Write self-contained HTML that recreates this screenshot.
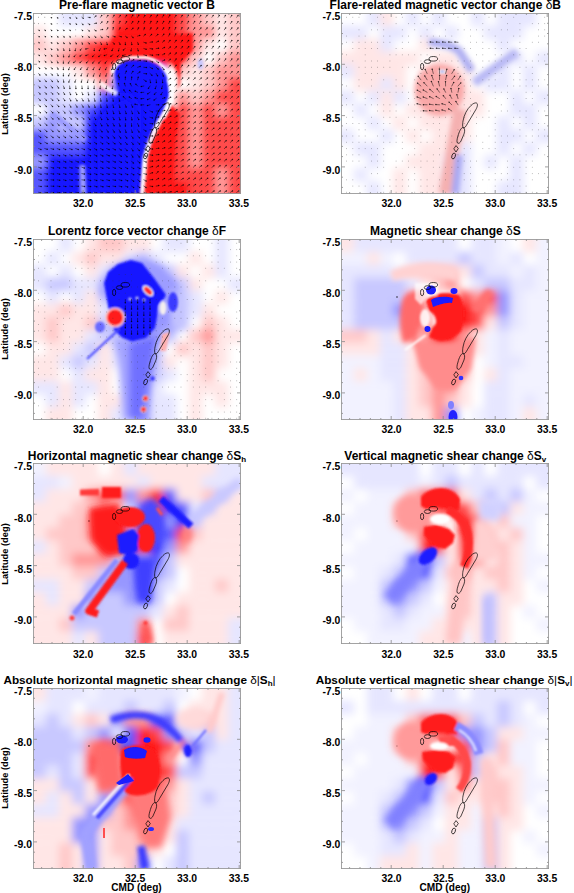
<!DOCTYPE html>
<html><head><meta charset="utf-8"><style>
*{margin:0;padding:0;box-sizing:border-box}
html,body{width:574px;height:893px;background:#fff;overflow:hidden}
body{position:relative;font-family:"Liberation Sans",sans-serif;font-weight:bold;color:#000}
.plot{position:absolute;width:208px;height:181px;overflow:hidden;background:#fff}
.plot svg{position:absolute;left:0;top:0;display:block}
.title{position:absolute;width:400px;text-align:center;font-size:12px;line-height:12px;white-space:nowrap}
.title .dl{font-style:normal;font-weight:normal}
.title sub{font-size:8px;vertical-align:-2px;line-height:0}
.yl{position:absolute;width:40px;text-align:right;font-size:10.4px;line-height:12px}
.xl{position:absolute;width:40px;text-align:center;font-size:10.4px;line-height:12px}
.lat{position:absolute;width:80px;text-align:center;font-size:9.3px;line-height:12px;transform:rotate(-90deg);white-space:nowrap}
.cmd{position:absolute;width:100px;text-align:center;font-size:10.1px;line-height:12px}
</style></head>
<body>
<div class="plot" style="left:33.0px;top:13.0px">
<svg width="208.0" height="181.0" viewBox="0 0 208.0 181.0"><filter id="bl00" x="-30%" y="-30%" width="160%" height="160%"><feGaussianBlur stdDeviation="3.8"/></filter><g filter="url(#bl00)"><rect x="26.00" y="-20.00" width="13.30" height="33.23" fill="#e6e6ff"/><rect x="39.00" y="-20.00" width="13.30" height="33.23" fill="#e6e6ff"/><rect x="52.00" y="-20.00" width="13.30" height="33.23" fill="#e6e6ff"/><rect x="65.00" y="-20.00" width="13.30" height="33.23" fill="#ffc8c8"/><rect x="78.00" y="-20.00" width="13.30" height="33.23" fill="#ff4848"/><rect x="91.00" y="-20.00" width="13.30" height="33.23" fill="#ff1919"/><rect x="104.00" y="-20.00" width="13.30" height="33.23" fill="#ff1919"/><rect x="117.00" y="-20.00" width="13.30" height="33.23" fill="#ff1919"/><rect x="130.00" y="-20.00" width="13.30" height="33.23" fill="#ff1919"/><rect x="143.00" y="-20.00" width="13.30" height="33.23" fill="#ff4848"/><rect x="156.00" y="-20.00" width="13.30" height="33.23" fill="#ff9696"/><rect x="169.00" y="-20.00" width="13.30" height="33.23" fill="#ffc8c8"/><rect x="182.00" y="-20.00" width="13.30" height="33.23" fill="#ffe6e6"/><rect x="195.00" y="-20.00" width="33.30" height="33.23" fill="#ffc8c8"/><rect x="-20.00" y="12.93" width="33.30" height="13.23" fill="#ffe6e6"/><rect x="52.00" y="12.93" width="13.30" height="13.23" fill="#ffe6e6"/><rect x="65.00" y="12.93" width="13.30" height="13.23" fill="#ffc8c8"/><rect x="78.00" y="12.93" width="13.30" height="13.23" fill="#ff1919"/><rect x="91.00" y="12.93" width="13.30" height="13.23" fill="#ff1919"/><rect x="104.00" y="12.93" width="13.30" height="13.23" fill="#ff1919"/><rect x="117.00" y="12.93" width="13.30" height="13.23" fill="#ff1919"/><rect x="130.00" y="12.93" width="13.30" height="13.23" fill="#ff1919"/><rect x="143.00" y="12.93" width="13.30" height="13.23" fill="#ff4848"/><rect x="156.00" y="12.93" width="13.30" height="13.23" fill="#ff9696"/><rect x="169.00" y="12.93" width="13.30" height="13.23" fill="#ff9696"/><rect x="182.00" y="12.93" width="13.30" height="13.23" fill="#ffe6e6"/><rect x="195.00" y="12.93" width="33.30" height="13.23" fill="#ffc8c8"/><rect x="-20.00" y="25.86" width="33.30" height="13.23" fill="#ffc8c8"/><rect x="13.00" y="25.86" width="13.30" height="13.23" fill="#ffe6e6"/><rect x="26.00" y="25.86" width="13.30" height="13.23" fill="#ffc8c8"/><rect x="39.00" y="25.86" width="13.30" height="13.23" fill="#ff9696"/><rect x="52.00" y="25.86" width="13.30" height="13.23" fill="#ff4848"/><rect x="65.00" y="25.86" width="13.30" height="13.23" fill="#ff1919"/><rect x="78.00" y="25.86" width="13.30" height="13.23" fill="#ff1919"/><rect x="91.00" y="25.86" width="13.30" height="13.23" fill="#ff1919"/><rect x="104.00" y="25.86" width="13.30" height="13.23" fill="#ff1919"/><rect x="117.00" y="25.86" width="13.30" height="13.23" fill="#ff1919"/><rect x="130.00" y="25.86" width="13.30" height="13.23" fill="#ff1919"/><rect x="143.00" y="25.86" width="13.30" height="13.23" fill="#ff4848"/><rect x="156.00" y="25.86" width="13.30" height="13.23" fill="#ff9696"/><rect x="169.00" y="25.86" width="13.30" height="13.23" fill="#ffe6e6"/><rect x="195.00" y="25.86" width="33.30" height="13.23" fill="#ffc8c8"/><rect x="-20.00" y="38.79" width="33.30" height="13.23" fill="#ffe6e6"/><rect x="13.00" y="38.79" width="13.30" height="13.23" fill="#ffc8c8"/><rect x="26.00" y="38.79" width="13.30" height="13.23" fill="#ff9696"/><rect x="39.00" y="38.79" width="13.30" height="13.23" fill="#ff4848"/><rect x="52.00" y="38.79" width="13.30" height="13.23" fill="#ff1919"/><rect x="65.00" y="38.79" width="13.30" height="13.23" fill="#ff1919"/><rect x="78.00" y="38.79" width="13.30" height="13.23" fill="#ff1919"/><rect x="91.00" y="38.79" width="13.30" height="13.23" fill="#ff1919"/><rect x="104.00" y="38.79" width="13.30" height="13.23" fill="#ff1919"/><rect x="117.00" y="38.79" width="13.30" height="13.23" fill="#ff1919"/><rect x="130.00" y="38.79" width="13.30" height="13.23" fill="#ff1919"/><rect x="143.00" y="38.79" width="13.30" height="13.23" fill="#ff4848"/><rect x="156.00" y="38.79" width="13.30" height="13.23" fill="#ffc8c8"/><rect x="182.00" y="38.79" width="13.30" height="13.23" fill="#ffc8c8"/><rect x="195.00" y="38.79" width="33.30" height="13.23" fill="#ff9696"/><rect x="39.00" y="51.71" width="13.30" height="13.23" fill="#ffe6e6"/><rect x="52.00" y="51.71" width="13.30" height="13.23" fill="#ff9696"/><rect x="65.00" y="51.71" width="13.30" height="13.23" fill="#ff4848"/><rect x="91.00" y="51.71" width="13.30" height="13.23" fill="#1919ff"/><rect x="104.00" y="51.71" width="13.30" height="13.23" fill="#1919ff"/><rect x="117.00" y="51.71" width="13.30" height="13.23" fill="#1919ff"/><rect x="143.00" y="51.71" width="13.30" height="13.23" fill="#ffc8c8"/><rect x="156.00" y="51.71" width="13.30" height="13.23" fill="#ffe6e6"/><rect x="169.00" y="51.71" width="13.30" height="13.23" fill="#ffc8c8"/><rect x="182.00" y="51.71" width="13.30" height="13.23" fill="#ff9696"/><rect x="195.00" y="51.71" width="33.30" height="13.23" fill="#ff9696"/><rect x="-20.00" y="64.64" width="33.30" height="13.23" fill="#c8c8ff"/><rect x="13.00" y="64.64" width="13.30" height="13.23" fill="#c8c8ff"/><rect x="26.00" y="64.64" width="13.30" height="13.23" fill="#e6e6ff"/><rect x="65.00" y="64.64" width="13.30" height="13.23" fill="#ff9696"/><rect x="78.00" y="64.64" width="13.30" height="13.23" fill="#9696ff"/><rect x="91.00" y="64.64" width="13.30" height="13.23" fill="#1919ff"/><rect x="104.00" y="64.64" width="13.30" height="13.23" fill="#1919ff"/><rect x="117.00" y="64.64" width="13.30" height="13.23" fill="#1919ff"/><rect x="156.00" y="64.64" width="13.30" height="13.23" fill="#ffe6e6"/><rect x="169.00" y="64.64" width="13.30" height="13.23" fill="#ffc8c8"/><rect x="182.00" y="64.64" width="13.30" height="13.23" fill="#ff9696"/><rect x="195.00" y="64.64" width="33.30" height="13.23" fill="#ff4848"/><rect x="-20.00" y="77.57" width="33.30" height="13.23" fill="#c8c8ff"/><rect x="13.00" y="77.57" width="13.30" height="13.23" fill="#c8c8ff"/><rect x="26.00" y="77.57" width="13.30" height="13.23" fill="#e6e6ff"/><rect x="52.00" y="77.57" width="13.30" height="13.23" fill="#e6e6ff"/><rect x="65.00" y="77.57" width="13.30" height="13.23" fill="#5555ff"/><rect x="78.00" y="77.57" width="13.30" height="13.23" fill="#1919ff"/><rect x="91.00" y="77.57" width="13.30" height="13.23" fill="#1919ff"/><rect x="104.00" y="77.57" width="13.30" height="13.23" fill="#1919ff"/><rect x="117.00" y="77.57" width="13.30" height="13.23" fill="#1919ff"/><rect x="143.00" y="77.57" width="13.30" height="13.23" fill="#ff9696"/><rect x="156.00" y="77.57" width="13.30" height="13.23" fill="#ffc8c8"/><rect x="169.00" y="77.57" width="13.30" height="13.23" fill="#ff9696"/><rect x="182.00" y="77.57" width="13.30" height="13.23" fill="#ff4848"/><rect x="195.00" y="77.57" width="33.30" height="13.23" fill="#ff4848"/><rect x="13.00" y="90.50" width="13.30" height="13.23" fill="#c8c8ff"/><rect x="26.00" y="90.50" width="13.30" height="13.23" fill="#c8c8ff"/><rect x="39.00" y="90.50" width="13.30" height="13.23" fill="#9696ff"/><rect x="52.00" y="90.50" width="13.30" height="13.23" fill="#5555ff"/><rect x="65.00" y="90.50" width="13.30" height="13.23" fill="#1919ff"/><rect x="78.00" y="90.50" width="13.30" height="13.23" fill="#1919ff"/><rect x="91.00" y="90.50" width="13.30" height="13.23" fill="#1919ff"/><rect x="104.00" y="90.50" width="13.30" height="13.23" fill="#1919ff"/><rect x="117.00" y="90.50" width="13.30" height="13.23" fill="#1919ff"/><rect x="143.00" y="90.50" width="13.30" height="13.23" fill="#ff4848"/><rect x="156.00" y="90.50" width="13.30" height="13.23" fill="#ff9696"/><rect x="169.00" y="90.50" width="13.30" height="13.23" fill="#ff4848"/><rect x="182.00" y="90.50" width="13.30" height="13.23" fill="#ff9696"/><rect x="195.00" y="90.50" width="33.30" height="13.23" fill="#ff4848"/><rect x="-20.00" y="103.43" width="33.30" height="13.23" fill="#c8c8ff"/><rect x="13.00" y="103.43" width="13.30" height="13.23" fill="#9696ff"/><rect x="26.00" y="103.43" width="13.30" height="13.23" fill="#c8c8ff"/><rect x="39.00" y="103.43" width="13.30" height="13.23" fill="#c8c8ff"/><rect x="52.00" y="103.43" width="13.30" height="13.23" fill="#1919ff"/><rect x="65.00" y="103.43" width="13.30" height="13.23" fill="#1919ff"/><rect x="78.00" y="103.43" width="13.30" height="13.23" fill="#1919ff"/><rect x="91.00" y="103.43" width="13.30" height="13.23" fill="#1919ff"/><rect x="104.00" y="103.43" width="13.30" height="13.23" fill="#1919ff"/><rect x="130.00" y="103.43" width="13.30" height="13.23" fill="#ff1919"/><rect x="143.00" y="103.43" width="13.30" height="13.23" fill="#ff4848"/><rect x="156.00" y="103.43" width="13.30" height="13.23" fill="#ff9696"/><rect x="169.00" y="103.43" width="13.30" height="13.23" fill="#ff4848"/><rect x="182.00" y="103.43" width="13.30" height="13.23" fill="#ff4848"/><rect x="195.00" y="103.43" width="33.30" height="13.23" fill="#ff4848"/><rect x="-20.00" y="116.36" width="33.30" height="13.23" fill="#5555ff"/><rect x="13.00" y="116.36" width="13.30" height="13.23" fill="#9696ff"/><rect x="26.00" y="116.36" width="13.30" height="13.23" fill="#9696ff"/><rect x="39.00" y="116.36" width="13.30" height="13.23" fill="#9696ff"/><rect x="52.00" y="116.36" width="13.30" height="13.23" fill="#1919ff"/><rect x="65.00" y="116.36" width="13.30" height="13.23" fill="#1919ff"/><rect x="78.00" y="116.36" width="13.30" height="13.23" fill="#1919ff"/><rect x="91.00" y="116.36" width="13.30" height="13.23" fill="#1919ff"/><rect x="104.00" y="116.36" width="13.30" height="13.23" fill="#1919ff"/><rect x="117.00" y="116.36" width="13.30" height="13.23" fill="#ff9696"/><rect x="130.00" y="116.36" width="13.30" height="13.23" fill="#ff1919"/><rect x="143.00" y="116.36" width="13.30" height="13.23" fill="#ff4848"/><rect x="156.00" y="116.36" width="13.30" height="13.23" fill="#ff9696"/><rect x="169.00" y="116.36" width="13.30" height="13.23" fill="#ff4848"/><rect x="182.00" y="116.36" width="13.30" height="13.23" fill="#ff4848"/><rect x="195.00" y="116.36" width="33.30" height="13.23" fill="#ff4848"/><rect x="-20.00" y="129.29" width="33.30" height="13.23" fill="#5555ff"/><rect x="13.00" y="129.29" width="13.30" height="13.23" fill="#5555ff"/><rect x="26.00" y="129.29" width="13.30" height="13.23" fill="#5555ff"/><rect x="39.00" y="129.29" width="13.30" height="13.23" fill="#5555ff"/><rect x="52.00" y="129.29" width="13.30" height="13.23" fill="#1919ff"/><rect x="65.00" y="129.29" width="13.30" height="13.23" fill="#1919ff"/><rect x="78.00" y="129.29" width="13.30" height="13.23" fill="#1919ff"/><rect x="91.00" y="129.29" width="13.30" height="13.23" fill="#1919ff"/><rect x="104.00" y="129.29" width="13.30" height="13.23" fill="#c8c8ff"/><rect x="117.00" y="129.29" width="13.30" height="13.23" fill="#ff1919"/><rect x="130.00" y="129.29" width="13.30" height="13.23" fill="#ff1919"/><rect x="143.00" y="129.29" width="13.30" height="13.23" fill="#ff4848"/><rect x="156.00" y="129.29" width="13.30" height="13.23" fill="#ff9696"/><rect x="169.00" y="129.29" width="13.30" height="13.23" fill="#ff4848"/><rect x="182.00" y="129.29" width="13.30" height="13.23" fill="#ff4848"/><rect x="195.00" y="129.29" width="33.30" height="13.23" fill="#ff4848"/><rect x="-20.00" y="142.21" width="33.30" height="13.23" fill="#9696ff"/><rect x="13.00" y="142.21" width="13.30" height="13.23" fill="#1919ff"/><rect x="26.00" y="142.21" width="13.30" height="13.23" fill="#1919ff"/><rect x="39.00" y="142.21" width="13.30" height="13.23" fill="#1919ff"/><rect x="52.00" y="142.21" width="13.30" height="13.23" fill="#1919ff"/><rect x="65.00" y="142.21" width="13.30" height="13.23" fill="#1919ff"/><rect x="78.00" y="142.21" width="13.30" height="13.23" fill="#1919ff"/><rect x="91.00" y="142.21" width="13.30" height="13.23" fill="#1919ff"/><rect x="117.00" y="142.21" width="13.30" height="13.23" fill="#ff1919"/><rect x="130.00" y="142.21" width="13.30" height="13.23" fill="#ff1919"/><rect x="143.00" y="142.21" width="13.30" height="13.23" fill="#ff4848"/><rect x="156.00" y="142.21" width="13.30" height="13.23" fill="#ff9696"/><rect x="169.00" y="142.21" width="13.30" height="13.23" fill="#ff4848"/><rect x="182.00" y="142.21" width="13.30" height="13.23" fill="#ff4848"/><rect x="195.00" y="142.21" width="33.30" height="13.23" fill="#ff4848"/><rect x="-20.00" y="155.14" width="33.30" height="13.23" fill="#5555ff"/><rect x="13.00" y="155.14" width="13.30" height="13.23" fill="#1919ff"/><rect x="26.00" y="155.14" width="13.30" height="13.23" fill="#1919ff"/><rect x="39.00" y="155.14" width="13.30" height="13.23" fill="#1919ff"/><rect x="52.00" y="155.14" width="13.30" height="13.23" fill="#1919ff"/><rect x="65.00" y="155.14" width="13.30" height="13.23" fill="#1919ff"/><rect x="78.00" y="155.14" width="13.30" height="13.23" fill="#1919ff"/><rect x="91.00" y="155.14" width="13.30" height="13.23" fill="#1919ff"/><rect x="104.00" y="155.14" width="13.30" height="13.23" fill="#ffc8c8"/><rect x="117.00" y="155.14" width="13.30" height="13.23" fill="#ff1919"/><rect x="130.00" y="155.14" width="13.30" height="13.23" fill="#ff1919"/><rect x="143.00" y="155.14" width="13.30" height="13.23" fill="#ff4848"/><rect x="156.00" y="155.14" width="13.30" height="13.23" fill="#ff4848"/><rect x="169.00" y="155.14" width="13.30" height="13.23" fill="#ff4848"/><rect x="182.00" y="155.14" width="13.30" height="13.23" fill="#ff9696"/><rect x="195.00" y="155.14" width="33.30" height="13.23" fill="#ff4848"/><rect x="-20.00" y="168.07" width="33.30" height="33.23" fill="#5555ff"/><rect x="13.00" y="168.07" width="13.30" height="33.23" fill="#1919ff"/><rect x="26.00" y="168.07" width="13.30" height="33.23" fill="#1919ff"/><rect x="39.00" y="168.07" width="13.30" height="33.23" fill="#1919ff"/><rect x="52.00" y="168.07" width="13.30" height="33.23" fill="#1919ff"/><rect x="65.00" y="168.07" width="13.30" height="33.23" fill="#1919ff"/><rect x="78.00" y="168.07" width="13.30" height="33.23" fill="#1919ff"/><rect x="91.00" y="168.07" width="13.30" height="33.23" fill="#1919ff"/><rect x="104.00" y="168.07" width="13.30" height="33.23" fill="#ff9696"/><rect x="117.00" y="168.07" width="13.30" height="33.23" fill="#ff1919"/><rect x="130.00" y="168.07" width="13.30" height="33.23" fill="#ff1919"/><rect x="143.00" y="168.07" width="13.30" height="33.23" fill="#ff1919"/><rect x="156.00" y="168.07" width="13.30" height="33.23" fill="#ff4848"/><rect x="169.00" y="168.07" width="13.30" height="33.23" fill="#ff4848"/><rect x="182.00" y="168.07" width="13.30" height="33.23" fill="#ff9696"/><rect x="195.00" y="168.07" width="33.30" height="33.23" fill="#ff4848"/></g><filter id="o00a" x="-50%" y="-50%" width="200%" height="200%"><feGaussianBlur stdDeviation="1.6"/></filter><filter id="o00b" x="-50%" y="-50%" width="200%" height="200%"><feGaussianBlur stdDeviation="1.0"/></filter><filter id="o00c" x="-50%" y="-50%" width="200%" height="200%"><feGaussianBlur stdDeviation="6"/></filter><g filter="url(#o00a)"><path d="M137.5,91 L131.5,104 L125,116 L120,127 L117,136 L114.5,145 L111.5,181 L138,181 L142,130 L147,100 Z" fill="#ff1919"/><path d="M72,44 C85,36 100,33 114,34 C127,36 137,44 142,55 C146,63 146,70 144,76 L147,72 L148,50 L160,38 L160,20 L80,24 Z" fill="#ff1919"/><ellipse cx="167.5" cy="51" rx="3" ry="5.5" fill="#c4c4ff"/><path d="M81,57 C84,50 92,47 100,47 L113,47 C121,49 128,54 133,62 C136,68 137,76 137,84 L133.5,90 L127,103 L120.5,115 L115.5,126 L112.5,135 L110,144 L107,181 L92,181 L95,110 L86,84 C84,72 81,64 81,57 Z" fill="#1919ff"/></g><g filter="url(#o00c)"><path d="M95,80 L70,95 L60,110 L62,181 L100,181 L105,95 Z" fill="#1919ff"/></g><g filter="url(#o00a)"><path d="M46.5,152 L52,152 L53.5,181 L47,181 Z" fill="#9c9cff"/><path d="M18,100 L52,127" stroke="#9a9aff" stroke-width="6"/></g><g filter="url(#o00b)"><path d="M79,60 C82,49 91,44.5 100,44.5 L113,44.5 C122,46 130,52 135,60 C138.5,67 139,77 138,85 L135,92 L129,104 L122.5,116 L117.5,127 L114.5,136 L112,145 L109,181" stroke="#fff" stroke-width="3.2" fill="none"/><path d="M136,66 C139,75 139,85 136,93 L130,105" stroke="#fff" stroke-width="4.5" fill="none"/><path d="M67,70 C72,74 78,78 84,81" stroke="#fff" stroke-width="5" fill="none" opacity="0.8"/></g><g stroke="#000" stroke-width="0.7" fill="none"><path d="M135.5,90 C137.5,91 136,95 134,98 L128,108 C126,111 125,114 123,115 C121.5,115 121.3,112 122,108 C123,102 126,96 130,92.5 C132,90.5 134,89.5 135.5,90 Z"/><path d="M122,114.5 C124,115 124,118 123,121 L120,128 C119,130 117.5,131 116.5,130 C115.5,129 116,126 117,123 C118,119 120,114.5 122,114.5 Z"/><path d="M115,132.6 L117.3,135.5 L115,139 L112.8,135.8 Z"/><ellipse cx="112.6" cy="143" rx="1.7" ry="3" transform="rotate(20 112.6 143)"/><ellipse cx="92.3" cy="45.8" rx="4.3" ry="2.3"/><ellipse cx="86.5" cy="48.6" rx="3.2" ry="1.9"/><ellipse cx="81.1" cy="53.5" rx="1.6" ry="3.3"/></g><path d="M18.0 4.3L18.5 4.8M24.2 4.3L24.7 4.9M36.6 4.3L37.2 5.0M42.7 4.3L43.7 5.2M48.9 4.3L50.2 5.2M55.1 4.3L56.9 4.6M61.3 4.3L62.9 3.1M67.5 4.3L68.7 2.4M73.7 4.3L74.9 2.4M79.9 4.3L81.0 2.5M86.1 4.3L87.3 2.5M92.3 4.3L93.5 2.4M98.5 4.3L99.7 2.2M104.6 4.3L105.8 2.3M110.8 4.3L111.9 2.4M117.0 4.3L118.2 2.4M123.2 4.3L124.4 2.3M129.4 4.3L130.6 2.2M135.6 4.3L136.8 2.3M141.8 4.3L143.0 2.4M148.0 4.3L149.2 2.4M154.2 4.3L155.3 2.3M160.3 4.3L161.5 2.3M166.5 4.3L167.7 2.4M172.7 4.3L174.0 2.4M178.9 4.3L180.2 2.4M185.1 4.3L186.3 2.4M191.3 4.3L192.4 2.4M197.5 4.3L198.7 2.4M203.7 4.3L205.0 2.5M18.0 10.6L18.5 11.1M36.6 10.6L37.1 11.1M42.7 10.6L43.5 11.3M48.9 10.6L49.9 11.5M55.1 10.6L56.6 11.4M61.3 10.6L63.2 10.2M67.5 10.6L68.9 9.0M73.7 10.6L74.7 8.7M79.9 10.6L80.5 8.6M86.1 10.6L87.0 8.6M92.3 10.6L93.5 8.8M98.5 10.6L99.7 8.7M104.6 10.6L105.6 8.6M110.8 10.6L111.6 8.6M117.0 10.6L118.0 8.6M123.2 10.6L124.4 8.6M129.4 10.6L130.6 8.6M135.6 10.6L136.7 8.6M141.8 10.6L142.8 8.5M148.0 10.6L149.1 8.6M154.2 10.6L155.4 8.6M160.3 10.6L161.6 8.6M166.5 10.6L167.8 8.6M172.7 10.6L174.0 8.7M178.9 10.6L180.2 8.7M185.1 10.6L186.3 8.7M191.3 10.6L192.5 8.7M197.5 10.6L198.7 8.7M203.7 10.6L205.0 8.7M5.6 16.8L6.2 17.4M11.8 16.8L12.3 17.4M18.0 16.8L18.6 17.5M24.2 16.8L24.8 17.5M30.4 16.8L30.9 17.4M36.6 16.8L37.2 17.5M48.9 16.8L49.5 17.4M55.1 16.8L56.2 17.9M61.3 16.8L62.9 17.7M67.5 16.8L69.5 16.5M73.7 16.8L74.7 15.0M79.9 16.8L80.3 14.8M86.1 16.8L87.0 14.9M92.3 16.8L93.9 15.4M98.5 16.8L99.9 15.2M104.6 16.8L105.5 14.9M110.8 16.8L111.4 14.9M117.0 16.8L118.0 14.9M123.2 16.8L124.5 15.0M129.4 16.8L130.6 14.9M135.6 16.8L136.5 14.8M141.8 16.8L142.6 14.7M148.0 16.8L149.0 14.8M154.2 16.8L155.4 14.9M160.3 16.8L161.6 14.9M166.5 16.8L167.9 14.9M172.7 16.8L174.1 14.9M178.9 16.8L180.2 14.9M185.1 16.8L186.4 14.9M191.3 16.8L192.6 14.9M197.5 16.8L198.8 14.9M203.7 16.8L205.0 15.0M5.6 23.1L6.2 23.7M11.8 23.1L12.4 23.7M18.0 23.1L18.7 23.8M24.2 23.1L24.9 24.0M30.4 23.1L31.1 24.0M36.6 23.1L37.2 24.0M48.9 23.1L49.6 23.8M55.1 23.1L56.2 24.3M61.3 23.1L62.7 24.3M67.5 23.1L69.0 24.4M73.7 23.1L75.5 24.0M79.9 23.1L81.9 23.7M86.1 23.1L88.1 23.7M92.3 23.1L94.0 24.4M98.5 23.1L100.0 24.5M104.6 23.1L106.7 22.4M110.8 23.1L112.2 21.4M117.0 23.1L118.5 21.5M123.2 23.1L124.8 21.5M129.4 23.1L130.8 21.2M135.6 23.1L136.6 21.1M141.8 23.1L142.7 21.0M148.0 23.1L149.1 21.1M154.2 23.1L155.4 21.2M160.3 23.1L161.7 21.2M166.5 23.1L167.9 21.2M172.7 23.1L174.1 21.2M178.9 23.1L180.3 21.2M185.1 23.1L186.4 21.2M191.3 23.1L192.6 21.2M197.5 23.1L198.8 21.2M203.7 23.1L205.0 21.2M5.6 29.3L6.1 29.8M18.0 29.3L18.7 30.1M24.2 29.3L24.9 30.4M30.4 29.3L31.1 30.6M36.6 29.3L37.2 30.7M42.7 29.3L43.3 30.7M48.9 29.3L49.4 30.9M55.1 29.3L56.3 30.8M61.3 29.3L62.9 30.3M67.5 29.3L68.4 31.2M73.7 29.3L74.2 31.4M79.9 29.3L81.2 30.9M86.1 29.3L87.0 31.2M92.3 29.3L92.4 31.5M98.5 29.3L98.8 31.4M104.6 29.3L105.3 31.3M110.8 29.3L113.0 29.9M117.0 29.3L119.3 28.9M123.2 29.3L125.3 28.3M129.4 29.3L131.1 27.8M135.6 29.3L137.0 27.5M141.8 29.3L143.1 27.4M148.0 29.3L149.3 27.4M154.2 29.3L155.5 27.4M160.3 29.3L161.7 27.4M166.5 29.3L167.9 27.4M172.7 29.3L174.1 27.4M178.9 29.3L180.2 27.4M185.1 29.3L186.4 27.4M191.3 29.3L192.6 27.4M197.5 29.3L198.8 27.4M203.7 29.3L205.0 27.4M5.6 35.5L6.3 36.3M11.8 35.5L12.4 36.2M18.0 35.5L18.7 36.5M24.2 35.5L24.9 36.9M30.4 35.5L30.9 37.2M36.6 35.5L36.7 37.4M42.7 35.5L42.2 37.4M48.9 35.5L47.4 36.9M55.1 35.5L52.9 35.9M61.3 35.5L61.2 37.6M67.5 35.5L66.4 37.5M73.7 35.5L71.3 36.0M79.9 35.5L79.0 37.6M86.1 35.5L85.5 37.7M92.3 35.5L90.4 37.0M98.5 35.5L98.0 37.7M104.6 35.5L105.2 37.7M110.8 35.5L113.1 36.3M117.0 35.5L119.4 35.9M123.2 35.5L125.5 35.3M129.4 35.5L131.4 34.4M135.6 35.5L137.3 34.0M141.8 35.5L143.3 33.8M148.0 35.5L149.4 33.7M154.2 35.5L155.6 33.7M160.3 35.5L161.8 33.7M166.5 35.5L167.9 33.6M172.7 35.5L174.0 33.5M178.9 35.5L180.2 33.5M185.1 35.5L186.4 33.6M191.3 35.5L192.6 33.6M197.5 35.5L198.7 33.6M203.7 35.5L204.9 33.6M5.6 41.8L6.3 42.6M11.8 41.8L12.6 42.7M18.0 41.8L18.8 43.0M24.2 41.8L24.9 43.3M30.4 41.8L30.6 43.7M36.6 41.8L35.9 43.7M42.7 41.8L41.3 43.4M48.9 41.8L47.1 43.1M55.1 41.8L53.0 42.5M61.3 41.8L59.7 43.5M67.5 41.8L65.9 43.6M73.7 41.8L71.4 42.6M79.9 41.8L77.9 43.2M86.1 41.8L84.5 43.5M92.3 41.8L89.8 42.4M98.5 41.8L96.1 42.6M104.6 41.8L105.1 44.1M110.8 41.8L113.2 42.4M117.0 41.8L119.5 42.2M123.2 41.8L125.6 41.8M129.4 41.8L131.5 40.8M135.6 41.8L137.3 40.2M141.8 41.8L143.2 39.9M148.0 41.8L149.4 39.9M154.2 41.8L155.6 39.9M160.3 41.8L161.8 39.9M166.5 41.8L167.9 39.8M172.7 41.8L174.0 39.7M178.9 41.8L180.2 39.8M185.1 41.8L186.4 39.9M191.3 41.8L192.6 39.9M197.5 41.8L198.7 39.8M203.7 41.8L204.9 39.8M5.6 48.0L6.4 48.8M11.8 48.0L12.7 49.1M18.0 48.0L18.9 49.5M24.2 48.0L24.9 49.8M30.4 48.0L30.4 50.1M36.6 48.0L35.5 50.0M42.7 48.0L40.8 49.4M48.9 48.0L47.1 49.5M55.1 48.0L53.6 49.8M61.3 48.0L59.8 50.0M67.5 48.0L65.9 50.0M73.7 48.0L72.3 50.0M79.9 48.0L78.6 50.1M86.1 48.0L84.8 50.1M92.3 48.0L90.6 49.7M98.5 48.0L100.7 46.7M104.6 48.0L107.2 47.4M110.8 48.0L113.4 48.2M117.0 48.0L119.5 48.9M123.2 48.0L125.4 49.5M129.4 48.0L131.5 47.0M135.6 48.0L137.2 46.3M141.8 48.0L143.1 46.0M148.0 48.0L149.2 46.0M154.2 48.0L155.6 46.1M160.3 48.0L161.8 46.2M166.5 48.0L168.0 46.2M172.7 48.0L174.1 46.1M178.9 48.0L180.3 46.1M185.1 48.0L186.5 46.1M191.3 48.0L192.6 46.1M197.5 48.0L198.8 46.1M203.7 48.0L205.0 46.1M5.6 54.3L6.6 55.5M11.8 54.3L13.0 55.7M18.0 54.3L19.2 55.8M24.2 54.3L25.0 56.1M30.4 54.3L30.4 56.4M36.6 54.3L35.7 56.4M42.7 54.3L41.4 56.2M48.9 54.3L47.6 56.2M55.1 54.3L54.0 56.4M61.3 54.3L60.2 56.5M67.5 54.3L66.4 56.5M73.7 54.3L72.6 56.5M79.9 54.3L78.8 56.6M86.1 54.3L85.1 56.6M92.3 54.3L93.8 52.2M98.5 54.3L100.4 52.6M104.6 54.3L107.1 53.4M110.8 54.3L113.4 54.5M117.0 54.3L119.3 55.5M123.2 54.3L125.1 56.1M129.4 54.3L130.9 56.4M135.6 54.3L137.2 52.6M141.8 54.3L143.1 52.3M148.0 54.3L149.3 52.3M154.2 54.3L155.6 52.4M160.3 54.3L161.9 52.5M166.5 54.3L168.1 52.5M172.7 54.3L174.2 52.5M178.9 54.3L180.4 52.5M185.1 54.3L186.6 52.5M191.3 54.3L192.8 52.5M197.5 54.3L198.9 52.5M203.7 54.3L205.1 52.5M5.6 60.5L6.8 62.0M11.8 60.5L13.2 62.0M18.0 60.5L19.3 62.0M24.2 60.5L25.1 62.4M30.4 60.5L30.4 62.7M36.6 60.5L35.6 62.7M42.7 60.5L41.7 62.7M48.9 60.5L48.1 62.7M55.1 60.5L54.3 62.9M61.3 60.5L60.4 63.0M67.5 60.5L66.7 62.9M73.7 60.5L72.9 62.9M79.9 60.5L79.0 62.9M86.1 60.5L85.3 62.9M92.3 60.5L93.3 58.2M98.5 60.5L99.9 58.4M104.6 60.5L106.8 59.0M110.8 60.5L113.4 60.8M117.0 60.5L118.9 62.3M123.2 60.5L124.5 62.8M129.4 60.5L130.3 63.0M135.6 60.5L137.4 59.0M141.8 60.5L143.4 58.8M148.0 60.5L149.5 58.8M154.2 60.5L155.7 58.8M160.3 60.5L162.0 58.8M166.5 60.5L168.1 58.8M172.7 60.5L174.3 58.8M178.9 60.5L180.5 58.8M185.1 60.5L186.7 58.8M191.3 60.5L192.8 58.8M197.5 60.5L199.0 58.8M203.7 60.5L205.2 58.8M5.6 66.8L6.9 68.3M11.8 66.8L13.1 68.4M18.0 66.8L19.3 68.4M24.2 66.8L25.2 68.7M30.4 66.8L30.7 69.0M36.6 66.8L35.9 69.0M42.7 66.8L42.0 69.0M48.9 66.8L48.4 69.1M55.1 66.8L54.5 69.2M61.3 66.8L60.6 69.2M67.5 66.8L66.9 69.2M73.7 66.8L73.1 69.2M79.9 66.8L79.4 69.2M86.1 66.8L86.2 64.2M92.3 66.8L92.4 64.2M98.5 66.8L98.7 64.2M104.6 66.8L105.2 64.3M110.8 66.8L113.0 68.3M117.0 66.8L117.5 69.4M123.2 66.8L123.4 69.4M129.4 66.8L129.6 69.4M135.6 66.8L137.5 65.4M141.8 66.8L143.5 65.2M148.0 66.8L149.6 65.1M154.2 66.8L155.8 65.1M160.3 66.8L162.0 65.1M166.5 66.8L168.2 65.1M172.7 66.8L174.4 65.1M178.9 66.8L180.5 65.1M185.1 66.8L186.7 65.0M191.3 66.8L192.9 65.0M197.5 66.8L199.1 65.0M203.7 66.8L205.3 65.0M5.6 73.0L6.9 74.7M11.8 73.0L13.2 74.7M18.0 73.0L19.4 74.8M24.2 73.0L25.5 74.9M30.4 73.0L31.2 75.2M36.6 73.0L36.9 75.4M42.7 73.0L42.9 75.4M48.9 73.0L49.1 75.4M55.1 73.0L55.1 75.5M61.3 73.0L61.1 75.5M67.5 73.0L67.1 75.5M73.7 73.0L73.1 75.6M79.9 73.0L79.4 75.5M86.1 73.0L85.5 70.5M92.3 73.0L91.5 70.5M98.5 73.0L97.4 70.7M104.6 73.0L102.9 71.2M110.8 73.0L108.3 73.5M117.0 73.0L115.5 75.2M123.2 73.0L122.3 75.5M129.4 73.0L128.7 75.6M135.6 73.0L137.5 71.7M141.8 73.0L143.5 71.4M148.0 73.0L149.6 71.3M154.2 73.0L155.8 71.3M160.3 73.0L162.0 71.4M166.5 73.0L168.2 71.4M172.7 73.0L174.4 71.3M178.9 73.0L180.5 71.3M185.1 73.0L186.7 71.3M191.3 73.0L192.9 71.3M197.5 73.0L199.1 71.3M203.7 73.0L205.3 71.3M5.6 79.3L7.0 81.0M11.8 79.3L13.3 81.0M18.0 79.3L19.6 81.0M24.2 79.3L25.7 81.1M30.4 79.3L31.5 81.3M36.6 79.3L37.5 81.5M42.7 79.3L43.7 81.6M48.9 79.3L49.8 81.6M55.1 79.3L55.6 81.7M61.3 79.3L61.5 81.7M67.5 79.3L67.4 81.8M73.7 79.3L73.3 81.8M79.9 79.3L79.6 81.8M86.1 79.3L86.2 81.8M92.3 79.3L90.9 77.1M98.5 79.3L96.6 77.4M104.6 79.3L102.3 78.2M110.8 79.3L108.2 79.5M117.0 79.3L114.8 80.7M123.2 79.3L121.5 81.3M129.4 79.3L128.1 81.5M135.6 79.3L137.6 78.0M141.8 79.3L143.5 77.6M148.0 79.3L149.5 77.5M154.2 79.3L155.7 77.5M160.3 79.3L162.0 77.6M166.5 79.3L168.2 77.6M172.7 79.3L174.3 77.5M178.9 79.3L180.5 77.5M185.1 79.3L186.7 77.5M191.3 79.3L192.9 77.5M197.5 79.3L199.1 77.5M203.7 79.3L205.2 77.5M5.6 85.5L7.1 87.3M11.8 85.5L13.3 87.3M18.0 85.5L19.6 87.3M24.2 85.5L25.7 87.4M30.4 85.5L31.7 87.5M36.6 85.5L37.7 87.7M42.7 85.5L44.0 87.8M48.9 85.5L50.1 87.8M55.1 85.5L55.9 87.9M61.3 85.5L61.9 88.0M67.5 85.5L67.9 88.0M73.7 85.5L74.0 88.1M79.9 85.5L80.2 88.0M86.1 85.5L86.5 88.0M92.3 85.5L90.4 83.7M98.5 85.5L96.3 84.1M104.6 85.5L102.2 84.8M110.8 85.5L108.2 85.7M117.0 85.5L114.6 86.5M123.2 85.5L121.1 87.1M129.4 85.5L131.7 84.8M135.6 85.5L137.6 84.3M141.8 85.5L143.6 84.0M148.0 85.5L149.6 83.8M154.2 85.5L155.8 83.8M160.3 85.5L162.1 83.9M166.5 85.5L168.3 83.9M172.7 85.5L174.4 83.8M178.9 85.5L180.5 83.8M185.1 85.5L186.7 83.8M191.3 85.5L192.9 83.8M197.5 85.5L199.1 83.8M203.7 85.5L205.3 83.7M5.6 91.8L7.2 93.5M11.8 91.8L13.3 93.5M18.0 91.8L19.5 93.6M24.2 91.8L25.7 93.6M30.4 91.8L31.7 93.8M36.6 91.8L37.8 93.9M42.7 91.8L44.0 94.0M48.9 91.8L50.1 94.0M55.1 91.8L56.1 94.1M61.3 91.8L62.0 94.2M67.5 91.8L68.0 94.3M73.7 91.8L74.2 94.3M79.9 91.8L80.5 94.2M86.1 91.8L86.8 94.2M92.3 91.8L93.1 94.1M98.5 91.8L99.5 94.0M104.6 91.8L102.1 91.2M110.8 91.8L108.2 91.9M117.0 91.8L114.5 92.5M123.2 91.8L125.6 91.8M129.4 91.8L131.7 91.2M135.6 91.8L137.7 90.7M141.8 91.8L143.7 90.4M148.0 91.8L149.8 90.3M154.2 91.8L156.0 90.2M160.3 91.8L162.2 90.2M166.5 91.8L168.3 90.2M172.7 91.8L174.5 90.2M178.9 91.8L180.6 90.1M185.1 91.8L186.8 90.1M191.3 91.8L193.0 90.1M197.5 91.8L199.2 90.1M203.7 91.8L205.3 90.1M5.6 98.0L7.3 99.7M11.8 98.0L13.5 99.7M18.0 98.0L19.7 99.8M24.2 98.0L25.8 99.8M30.4 98.0L31.9 99.9M36.6 98.0L38.0 100.0M42.7 98.0L44.2 100.0M48.9 98.0L50.3 100.1M55.1 98.0L56.3 100.2M61.3 98.0L62.3 100.4M67.5 98.0L68.2 100.5M73.7 98.0L74.4 100.5M79.9 98.0L80.7 100.4M86.1 98.0L86.9 100.4M92.3 98.0L93.1 100.4M98.5 98.0L99.4 100.4M104.6 98.0L105.9 100.2M110.8 98.0L112.7 99.7M117.0 98.0L119.3 98.9M123.2 98.0L125.6 98.0M129.4 98.0L131.7 97.4M135.6 98.0L137.8 97.0M141.8 98.0L143.9 96.8M148.0 98.0L149.9 96.7M154.2 98.0L156.1 96.6M160.3 98.0L162.2 96.5M166.5 98.0L168.4 96.5M172.7 98.0L174.5 96.5M178.9 98.0L180.7 96.4M185.1 98.0L186.9 96.4M191.3 98.0L193.1 96.4M197.5 98.0L199.2 96.4M203.7 98.0L205.4 96.4M5.6 104.3L7.4 105.9M11.8 104.3L13.7 106.0M18.0 104.3L19.9 106.0M24.2 104.3L25.9 106.0M30.4 104.3L32.1 106.1M36.6 104.3L38.3 106.1M42.7 104.3L44.5 106.1M48.9 104.3L50.7 106.1M55.1 104.3L56.6 106.3M61.3 104.3L62.6 106.5M67.5 104.3L68.6 106.5M73.7 104.3L74.9 106.6M79.9 104.3L81.0 106.6M86.1 104.3L86.9 106.7M92.3 104.3L92.7 106.8M98.5 104.3L98.9 106.8M104.6 104.3L105.7 106.6M110.8 104.3L112.6 106.0M117.0 104.3L119.4 104.9M123.2 104.3L125.6 104.0M129.4 104.3L131.7 103.5M135.6 104.3L137.8 103.2M141.8 104.3L143.9 103.1M148.0 104.3L150.0 103.0M154.2 104.3L156.1 102.9M160.3 104.3L162.3 102.8M166.5 104.3L168.4 102.8M172.7 104.3L174.6 102.8M178.9 104.3L180.8 102.7M185.1 104.3L186.9 102.7M191.3 104.3L193.1 102.7M197.5 104.3L199.3 102.7M203.7 104.3L205.5 102.7M5.6 110.5L7.5 112.2M11.8 110.5L13.8 112.2M18.0 110.5L19.9 112.2M24.2 110.5L26.0 112.2M30.4 110.5L32.2 112.2M36.6 110.5L38.4 112.3M42.7 110.5L44.7 112.2M48.9 110.5L50.8 112.3M55.1 110.5L56.8 112.4M61.3 110.5L62.8 112.6M67.5 110.5L68.8 112.7M73.7 110.5L75.0 112.8M79.9 110.5L81.1 112.8M86.1 110.5L87.0 112.9M92.3 110.5L92.4 113.1M98.5 110.5L98.6 113.1M104.6 110.5L105.6 112.9M110.8 110.5L112.7 112.1M117.0 110.5L119.5 110.8M123.2 110.5L125.5 109.7M129.4 110.5L131.5 109.3M135.6 110.5L137.7 109.2M141.8 110.5L143.9 109.3M148.0 110.5L150.0 109.2M154.2 110.5L156.1 109.0M160.3 110.5L162.2 109.0M166.5 110.5L168.4 109.0M172.7 110.5L174.6 109.0M178.9 110.5L180.8 109.0M185.1 110.5L186.9 108.9M191.3 110.5L193.1 108.9M197.5 110.5L199.3 108.9M203.7 110.5L205.5 108.9M5.6 116.8L7.5 118.3M11.8 116.8L13.8 118.4M18.0 116.8L19.9 118.4M24.2 116.8L26.1 118.4M30.4 116.8L32.3 118.4M36.6 116.8L38.5 118.4M42.7 116.8L44.7 118.5M48.9 116.8L50.8 118.5M55.1 116.8L56.9 118.6M61.3 116.8L63.0 118.7M67.5 116.8L69.0 118.8M73.7 116.8L75.1 118.9M79.9 116.8L81.2 118.9M86.1 116.8L87.2 119.1M92.3 116.8L93.0 119.2M98.5 116.8L99.2 119.2M104.6 116.8L106.0 118.9M110.8 116.8L112.9 118.1M117.0 116.8L119.5 116.7M123.2 116.8L125.3 115.5M129.4 116.8L131.2 115.1M135.6 116.8L137.5 115.2M141.8 116.8L143.8 115.4M148.0 116.8L150.0 115.4M154.2 116.8L156.0 115.2M160.3 116.8L162.1 115.1M166.5 116.8L168.4 115.1M172.7 116.8L174.6 115.2M178.9 116.8L180.8 115.2M185.1 116.8L186.9 115.2M191.3 116.8L193.1 115.1M197.5 116.8L199.3 115.1M203.7 116.8L205.5 115.1M5.6 123.0L7.6 124.4M11.8 123.0L13.9 124.4M18.0 123.0L20.0 124.5M24.2 123.0L26.2 124.5M30.4 123.0L32.4 124.5M36.6 123.0L38.6 124.5M42.7 123.0L44.8 124.5M48.9 123.0L50.9 124.6M55.1 123.0L57.1 124.6M61.3 123.0L63.2 124.7M67.5 123.0L69.3 124.8M73.7 123.0L75.4 124.9M79.9 123.0L81.5 125.0M86.1 123.0L87.6 125.1M92.3 123.0L93.7 125.1M98.5 123.0L99.9 125.1M104.6 123.0L106.4 124.8M110.8 123.0L113.0 124.2M117.0 123.0L119.5 122.9M123.2 123.0L125.3 121.7M129.4 123.0L131.2 121.4M135.6 123.0L137.5 121.5M141.8 123.0L143.8 121.7M148.0 123.0L150.0 121.6M154.2 123.0L156.0 121.4M160.3 123.0L162.1 121.3M166.5 123.0L168.4 121.4M172.7 123.0L174.6 121.5M178.9 123.0L180.8 121.5M185.1 123.0L187.0 121.4M191.3 123.0L193.1 121.3M197.5 123.0L199.3 121.3M203.7 123.0L205.5 121.4M5.6 129.3L7.8 130.5M11.8 129.3L14.1 130.4M18.0 129.3L20.2 130.4M24.2 129.3L26.4 130.5M30.4 129.3L32.5 130.5M36.6 129.3L38.7 130.5M42.7 129.3L45.0 130.5M48.9 129.3L51.1 130.5M55.1 129.3L57.2 130.6M61.3 129.3L63.4 130.7M67.5 129.3L69.6 130.8M73.7 129.3L75.8 130.7M79.9 129.3L81.9 130.8M86.1 129.3L87.9 131.0M92.3 129.3L94.0 131.2M98.5 129.3L100.1 131.2M104.6 129.3L106.5 131.0M110.8 129.3L113.0 130.5M117.0 129.3L119.5 129.5M123.2 129.3L125.6 128.5M129.4 129.3L131.5 128.0M135.6 129.3L137.7 128.0M141.8 129.3L143.9 128.1M148.0 129.3L150.0 128.0M154.2 129.3L156.1 127.8M160.3 129.3L162.3 127.7M166.5 129.3L168.5 127.7M172.7 129.3L174.7 127.8M178.9 129.3L180.8 127.8M185.1 129.3L187.0 127.7M191.3 129.3L193.1 127.7M197.5 129.3L199.3 127.6M203.7 129.3L205.5 127.7M5.6 135.6L7.9 136.5M11.8 135.6L14.2 136.3M18.0 135.6L20.4 136.3M24.2 135.6L26.5 136.5M30.4 135.6L32.6 136.6M36.6 135.6L38.9 136.5M42.7 135.6L45.2 136.4M48.9 135.6L51.3 136.4M55.1 135.6L57.4 136.7M61.3 135.6L63.5 136.8M67.5 135.6L69.8 136.7M73.7 135.6L76.1 136.6M79.9 135.6L82.2 136.7M86.1 135.6L88.1 137.1M92.3 135.6L94.0 137.4M98.5 135.6L99.9 137.7M104.6 135.6L106.2 137.5M110.8 135.6L112.9 137.0M117.0 135.6L119.5 136.1M123.2 135.6L125.7 135.2M129.4 135.6L131.7 134.8M135.6 135.6L137.9 134.6M141.8 135.6L144.0 134.4M148.0 135.6L150.1 134.3M154.2 135.6L156.2 134.2M160.3 135.6L162.4 134.1M166.5 135.6L168.5 134.1M172.7 135.6L174.7 134.1M178.9 135.6L180.9 134.1M185.1 135.6L187.0 134.0M191.3 135.6L193.2 134.0M197.5 135.6L199.4 134.0M203.7 135.6L205.6 134.0M5.6 141.8L8.0 142.7M11.8 141.8L14.3 142.5M18.0 141.8L20.5 142.5M24.2 141.8L26.6 142.7M30.4 141.8L32.7 142.8M36.6 141.8L38.9 142.7M42.7 141.8L45.2 142.5M48.9 141.8L51.4 142.6M55.1 141.8L57.5 142.8M61.3 141.8L63.6 142.9M67.5 141.8L69.8 142.9M73.7 141.8L76.1 142.7M79.9 141.8L82.2 142.8M86.1 141.8L88.2 143.2M92.3 141.8L94.0 143.7M98.5 141.8L99.8 144.0M104.6 141.8L106.2 143.9M110.8 141.8L112.9 143.2M117.0 141.8L119.5 142.3M123.2 141.8L125.7 141.5M129.4 141.8L131.8 141.1M135.6 141.8L137.9 140.9M141.8 141.8L144.0 140.8M148.0 141.8L150.1 140.6M154.2 141.8L156.2 140.5M160.3 141.8L162.4 140.4M166.5 141.8L168.5 140.4M172.7 141.8L174.7 140.4M178.9 141.8L180.9 140.3M185.1 141.8L187.1 140.3M191.3 141.8L193.2 140.3M197.5 141.8L199.4 140.2M203.7 141.8L205.6 140.3M5.6 148.1L8.0 148.9M11.8 148.1L14.2 148.8M18.0 148.1L20.4 148.8M24.2 148.1L26.6 148.9M30.4 148.1L32.7 148.9M36.6 148.1L38.9 148.9M42.7 148.1L45.2 148.9M48.9 148.1L51.3 148.9M55.1 148.1L57.5 149.0M61.3 148.1L63.6 149.1M67.5 148.1L69.8 149.1M73.7 148.1L76.0 149.1M79.9 148.1L82.2 149.1M86.1 148.1L88.3 149.3M92.3 148.1L94.2 149.6M98.5 148.1L100.3 149.9M104.6 148.1L106.6 149.7M110.8 148.1L113.1 149.1M117.0 148.1L119.5 148.1M123.2 148.1L125.6 147.3M129.4 148.1L131.7 147.1M135.6 148.1L137.9 147.1M141.8 148.1L144.0 147.0M148.0 148.1L150.1 146.8M154.2 148.1L156.2 146.6M160.3 148.1L162.3 146.6M166.5 148.1L168.5 146.6M172.7 148.1L174.7 146.6M178.9 148.1L180.9 146.6M185.1 148.1L187.0 146.5M191.3 148.1L193.2 146.5M197.5 148.1L199.4 146.4M203.7 148.1L205.6 146.5M5.6 154.3L8.0 155.1M11.8 154.3L14.2 155.0M18.0 154.3L20.4 155.0M24.2 154.3L26.6 155.1M30.4 154.3L32.8 155.1M36.6 154.3L39.0 155.1M42.7 154.3L45.2 155.1M48.9 154.3L51.3 155.1M55.1 154.3L57.5 155.2M61.3 154.3L63.7 155.2M67.5 154.3L69.8 155.3M73.7 154.3L76.0 155.3M79.9 154.3L82.2 155.3M86.1 154.3L88.3 155.4M92.3 154.3L94.5 155.6M98.5 154.3L100.6 155.6M104.6 154.3L106.9 155.5M110.8 154.3L113.3 154.9M117.0 154.3L119.4 153.6M123.2 154.3L125.3 152.9M129.4 154.3L131.5 152.9M135.6 154.3L137.8 153.1M141.8 154.3L144.0 153.1M148.0 154.3L150.0 153.0M154.2 154.3L156.1 152.7M160.3 154.3L162.2 152.6M166.5 154.3L168.4 152.7M172.7 154.3L174.7 152.8M178.9 154.3L180.9 152.8M185.1 154.3L187.0 152.7M191.3 154.3L193.1 152.6M197.5 154.3L199.3 152.6M203.7 154.3L205.5 152.7M5.6 160.6L8.0 161.2M11.8 160.6L14.3 161.1M18.0 160.6L20.5 161.1M24.2 160.6L26.6 161.2M30.4 160.6L32.8 161.2M36.6 160.6L39.0 161.2M42.7 160.6L45.2 161.1M48.9 160.6L51.4 161.1M55.1 160.6L57.6 161.3M61.3 160.6L63.7 161.4M67.5 160.6L69.9 161.4M73.7 160.6L76.1 161.3M79.9 160.6L82.3 161.3M86.1 160.6L88.5 161.4M92.3 160.6L94.6 161.6M98.5 160.6L100.7 161.8M104.6 160.6L106.9 161.7M110.8 160.6L113.3 161.2M117.0 160.6L119.4 159.7M123.2 160.6L125.0 158.8M129.4 160.6L131.3 158.9M135.6 160.6L137.7 159.3M141.8 160.6L144.0 159.4M148.0 160.6L150.0 159.2M154.2 160.6L156.0 158.9M160.3 160.6L162.1 158.8M166.5 160.6L168.4 158.9M172.7 160.6L174.7 159.0M178.9 160.6L180.9 159.0M185.1 160.6L187.0 158.9M191.3 160.6L193.1 158.8M197.5 160.6L199.3 158.8M203.7 160.6L205.5 158.9M5.6 166.8L8.1 167.3M11.8 166.8L14.4 167.1M18.0 166.8L20.5 167.1M24.2 166.8L26.7 167.3M30.4 166.8L32.8 167.4M36.6 166.8L39.1 167.3M42.7 166.8L45.3 167.1M48.9 166.8L51.5 167.1M55.1 166.8L57.6 167.4M61.3 166.8L63.7 167.5M67.5 166.8L69.9 167.5M73.7 166.8L76.2 167.4M79.9 166.8L82.4 167.3M86.1 166.8L88.6 167.5M92.3 166.8L94.6 167.8M98.5 166.8L100.6 168.2M104.6 166.8L106.7 168.4M110.8 166.8L113.1 168.0M117.0 166.8L119.5 166.6M123.2 166.8L125.4 165.5M129.4 166.8L131.5 165.5M135.6 166.8L137.8 165.7M141.8 166.8L144.0 165.7M148.0 166.8L150.1 165.5M154.2 166.8L156.1 165.3M160.3 166.8L162.2 165.2M166.5 166.8L168.4 165.2M172.7 166.8L174.7 165.3M178.9 166.8L180.9 165.3M185.1 166.8L187.0 165.2M191.3 166.8L193.1 165.1M197.5 166.8L199.3 165.1M203.7 166.8L205.5 165.2M5.6 173.1L8.1 173.5M11.8 173.1L14.4 173.3M18.0 173.1L20.6 173.3M24.2 173.1L26.7 173.5M30.4 173.1L32.8 173.6M36.6 173.1L39.1 173.5M42.7 173.1L45.3 173.3M48.9 173.1L51.5 173.4M55.1 173.1L57.6 173.6M61.3 173.1L63.8 173.7M67.5 173.1L69.9 173.7M73.7 173.1L76.2 173.6M79.9 173.1L82.4 173.5M86.1 173.1L88.6 173.7M92.3 173.1L94.6 174.0M98.5 173.1L100.6 174.4M104.6 173.1L106.7 174.6M110.8 173.1L113.0 174.4M117.0 173.1L119.5 173.5M123.2 173.1L125.7 172.6M129.4 173.1L131.8 172.2M135.6 173.1L137.9 172.2M141.8 173.1L144.1 172.1M148.0 173.1L150.2 171.9M154.2 173.1L156.2 171.7M160.3 173.1L162.4 171.6M166.5 173.1L168.6 171.6M172.7 173.1L174.8 171.6M178.9 173.1L180.9 171.6M185.1 173.1L187.1 171.6M191.3 173.1L193.2 171.5M197.5 173.1L199.4 171.5M203.7 173.1L205.6 171.5M5.6 179.3L8.1 179.8M11.8 179.3L14.3 179.7M18.0 179.3L20.5 179.7M24.2 179.3L26.7 179.8M30.4 179.3L32.8 179.8M36.6 179.3L39.0 179.8M42.7 179.3L45.3 179.7M48.9 179.3L51.4 179.8M55.1 179.3L57.6 179.9M61.3 179.3L63.7 180.0M67.5 179.3L69.9 180.0M73.7 179.3L76.2 180.0M79.9 179.3L82.4 179.9M86.1 179.3L88.5 180.0M92.3 179.3L94.6 180.2M98.5 179.3L100.7 180.4M104.6 179.3L106.9 180.5M110.8 179.3L113.1 180.3M117.0 179.3L119.5 179.8M123.2 179.3L125.7 179.3M129.4 179.3L131.9 178.9M135.6 179.3L138.0 178.7M141.8 179.3L144.1 178.5M148.0 179.3L150.2 178.3M154.2 179.3L156.4 178.2M160.3 179.3L162.5 178.1M166.5 179.3L168.7 178.0M172.7 179.3L174.8 178.0M178.9 179.3L181.0 178.0M185.1 179.3L187.2 177.9M191.3 179.3L193.3 177.9M197.5 179.3L199.5 177.9M203.7 179.3L205.7 177.9" stroke="#000" stroke-opacity="0.58" stroke-width="0.85" stroke-linecap="round" fill="none"/><path d="M18.5 4.8h0.01M24.7 4.9h0.01M37.2 5.0h0.01M43.7 5.2h0.01M50.2 5.2h0.01M56.9 4.6h0.01M62.9 3.1h0.01M68.7 2.4h0.01M74.9 2.4h0.01M81.0 2.5h0.01M87.3 2.5h0.01M93.5 2.4h0.01M99.7 2.2h0.01M105.8 2.3h0.01M111.9 2.4h0.01M118.2 2.4h0.01M124.4 2.3h0.01M130.6 2.2h0.01M136.8 2.3h0.01M143.0 2.4h0.01M149.2 2.4h0.01M155.3 2.3h0.01M161.5 2.3h0.01M167.7 2.4h0.01M174.0 2.4h0.01M180.2 2.4h0.01M186.3 2.4h0.01M192.4 2.4h0.01M198.7 2.4h0.01M205.0 2.5h0.01M18.5 11.1h0.01M37.1 11.1h0.01M43.5 11.3h0.01M49.9 11.5h0.01M56.6 11.4h0.01M63.2 10.2h0.01M68.9 9.0h0.01M74.7 8.7h0.01M80.5 8.6h0.01M87.0 8.6h0.01M93.5 8.8h0.01M99.7 8.7h0.01M105.6 8.6h0.01M111.6 8.6h0.01M118.0 8.6h0.01M124.4 8.6h0.01M130.6 8.6h0.01M136.7 8.6h0.01M142.8 8.5h0.01M149.1 8.6h0.01M155.4 8.6h0.01M161.6 8.6h0.01M167.8 8.6h0.01M174.0 8.7h0.01M180.2 8.7h0.01M186.3 8.7h0.01M192.5 8.7h0.01M198.7 8.7h0.01M205.0 8.7h0.01M6.2 17.4h0.01M12.3 17.4h0.01M18.6 17.5h0.01M24.8 17.5h0.01M30.9 17.4h0.01M37.2 17.5h0.01M49.5 17.4h0.01M56.2 17.9h0.01M62.9 17.7h0.01M69.5 16.5h0.01M74.7 15.0h0.01M80.3 14.8h0.01M87.0 14.9h0.01M93.9 15.4h0.01M99.9 15.2h0.01M105.5 14.9h0.01M111.4 14.9h0.01M118.0 14.9h0.01M124.5 15.0h0.01M130.6 14.9h0.01M136.5 14.8h0.01M142.6 14.7h0.01M149.0 14.8h0.01M155.4 14.9h0.01M161.6 14.9h0.01M167.9 14.9h0.01M174.1 14.9h0.01M180.2 14.9h0.01M186.4 14.9h0.01M192.6 14.9h0.01M198.8 14.9h0.01M205.0 15.0h0.01M6.2 23.7h0.01M12.4 23.7h0.01M18.7 23.8h0.01M24.9 24.0h0.01M31.1 24.0h0.01M37.2 24.0h0.01M49.6 23.8h0.01M56.2 24.3h0.01M62.7 24.3h0.01M69.0 24.4h0.01M75.5 24.0h0.01M81.9 23.7h0.01M88.1 23.7h0.01M94.0 24.4h0.01M100.0 24.5h0.01M106.7 22.4h0.01M112.2 21.4h0.01M118.5 21.5h0.01M124.8 21.5h0.01M130.8 21.2h0.01M136.6 21.1h0.01M142.7 21.0h0.01M149.1 21.1h0.01M155.4 21.2h0.01M161.7 21.2h0.01M167.9 21.2h0.01M174.1 21.2h0.01M180.3 21.2h0.01M186.4 21.2h0.01M192.6 21.2h0.01M198.8 21.2h0.01M205.0 21.2h0.01M6.1 29.8h0.01M18.7 30.1h0.01M24.9 30.4h0.01M31.1 30.6h0.01M37.2 30.7h0.01M43.3 30.7h0.01M49.4 30.9h0.01M56.3 30.8h0.01M62.9 30.3h0.01M68.4 31.2h0.01M74.2 31.4h0.01M81.2 30.9h0.01M87.0 31.2h0.01M92.4 31.5h0.01M98.8 31.4h0.01M105.3 31.3h0.01M113.0 29.9h0.01M119.3 28.9h0.01M125.3 28.3h0.01M131.1 27.8h0.01M137.0 27.5h0.01M143.1 27.4h0.01M149.3 27.4h0.01M155.5 27.4h0.01M161.7 27.4h0.01M167.9 27.4h0.01M174.1 27.4h0.01M180.2 27.4h0.01M186.4 27.4h0.01M192.6 27.4h0.01M198.8 27.4h0.01M205.0 27.4h0.01M6.3 36.3h0.01M12.4 36.2h0.01M18.7 36.5h0.01M24.9 36.9h0.01M30.9 37.2h0.01M36.7 37.4h0.01M42.2 37.4h0.01M47.4 36.9h0.01M52.9 35.9h0.01M61.2 37.6h0.01M66.4 37.5h0.01M71.3 36.0h0.01M79.0 37.6h0.01M85.5 37.7h0.01M90.4 37.0h0.01M98.0 37.7h0.01M105.2 37.7h0.01M113.1 36.3h0.01M119.4 35.9h0.01M125.5 35.3h0.01M131.4 34.4h0.01M137.3 34.0h0.01M143.3 33.8h0.01M149.4 33.7h0.01M155.6 33.7h0.01M161.8 33.7h0.01M167.9 33.6h0.01M174.0 33.5h0.01M180.2 33.5h0.01M186.4 33.6h0.01M192.6 33.6h0.01M198.7 33.6h0.01M204.9 33.6h0.01M6.3 42.6h0.01M12.6 42.7h0.01M18.8 43.0h0.01M24.9 43.3h0.01M30.6 43.7h0.01M35.9 43.7h0.01M41.3 43.4h0.01M47.1 43.1h0.01M53.0 42.5h0.01M59.7 43.5h0.01M65.9 43.6h0.01M71.4 42.6h0.01M77.9 43.2h0.01M84.5 43.5h0.01M89.8 42.4h0.01M96.1 42.6h0.01M105.1 44.1h0.01M113.2 42.4h0.01M119.5 42.2h0.01M125.6 41.8h0.01M131.5 40.8h0.01M137.3 40.2h0.01M143.2 39.9h0.01M149.4 39.9h0.01M155.6 39.9h0.01M161.8 39.9h0.01M167.9 39.8h0.01M174.0 39.7h0.01M180.2 39.8h0.01M186.4 39.9h0.01M192.6 39.9h0.01M198.7 39.8h0.01M204.9 39.8h0.01M6.4 48.8h0.01M12.7 49.1h0.01M18.9 49.5h0.01M24.9 49.8h0.01M30.4 50.1h0.01M35.5 50.0h0.01M40.8 49.4h0.01M47.1 49.5h0.01M53.6 49.8h0.01M59.8 50.0h0.01M65.9 50.0h0.01M72.3 50.0h0.01M78.6 50.1h0.01M84.8 50.1h0.01M90.6 49.7h0.01M100.7 46.7h0.01M107.2 47.4h0.01M113.4 48.2h0.01M119.5 48.9h0.01M125.4 49.5h0.01M131.5 47.0h0.01M137.2 46.3h0.01M143.1 46.0h0.01M149.2 46.0h0.01M155.6 46.1h0.01M161.8 46.2h0.01M168.0 46.2h0.01M174.1 46.1h0.01M180.3 46.1h0.01M186.5 46.1h0.01M192.6 46.1h0.01M198.8 46.1h0.01M205.0 46.1h0.01M6.6 55.5h0.01M13.0 55.7h0.01M19.2 55.8h0.01M25.0 56.1h0.01M30.4 56.4h0.01M35.7 56.4h0.01M41.4 56.2h0.01M47.6 56.2h0.01M54.0 56.4h0.01M60.2 56.5h0.01M66.4 56.5h0.01M72.6 56.5h0.01M78.8 56.6h0.01M85.1 56.6h0.01M93.8 52.2h0.01M100.4 52.6h0.01M107.1 53.4h0.01M113.4 54.5h0.01M119.3 55.5h0.01M125.1 56.1h0.01M130.9 56.4h0.01M137.2 52.6h0.01M143.1 52.3h0.01M149.3 52.3h0.01M155.6 52.4h0.01M161.9 52.5h0.01M168.1 52.5h0.01M174.2 52.5h0.01M180.4 52.5h0.01M186.6 52.5h0.01M192.8 52.5h0.01M198.9 52.5h0.01M205.1 52.5h0.01M6.8 62.0h0.01M13.2 62.0h0.01M19.3 62.0h0.01M25.1 62.4h0.01M30.4 62.7h0.01M35.6 62.7h0.01M41.7 62.7h0.01M48.1 62.7h0.01M54.3 62.9h0.01M60.4 63.0h0.01M66.7 62.9h0.01M72.9 62.9h0.01M79.0 62.9h0.01M85.3 62.9h0.01M93.3 58.2h0.01M99.9 58.4h0.01M106.8 59.0h0.01M113.4 60.8h0.01M118.9 62.3h0.01M124.5 62.8h0.01M130.3 63.0h0.01M137.4 59.0h0.01M143.4 58.8h0.01M149.5 58.8h0.01M155.7 58.8h0.01M162.0 58.8h0.01M168.1 58.8h0.01M174.3 58.8h0.01M180.5 58.8h0.01M186.7 58.8h0.01M192.8 58.8h0.01M199.0 58.8h0.01M205.2 58.8h0.01M6.9 68.3h0.01M13.1 68.4h0.01M19.3 68.4h0.01M25.2 68.7h0.01M30.7 69.0h0.01M35.9 69.0h0.01M42.0 69.0h0.01M48.4 69.1h0.01M54.5 69.2h0.01M60.6 69.2h0.01M66.9 69.2h0.01M73.1 69.2h0.01M79.4 69.2h0.01M86.2 64.2h0.01M92.4 64.2h0.01M98.7 64.2h0.01M105.2 64.3h0.01M113.0 68.3h0.01M117.5 69.4h0.01M123.4 69.4h0.01M129.6 69.4h0.01M137.5 65.4h0.01M143.5 65.2h0.01M149.6 65.1h0.01M155.8 65.1h0.01M162.0 65.1h0.01M168.2 65.1h0.01M174.4 65.1h0.01M180.5 65.1h0.01M186.7 65.0h0.01M192.9 65.0h0.01M199.1 65.0h0.01M205.3 65.0h0.01M6.9 74.7h0.01M13.2 74.7h0.01M19.4 74.8h0.01M25.5 74.9h0.01M31.2 75.2h0.01M36.9 75.4h0.01M42.9 75.4h0.01M49.1 75.4h0.01M55.1 75.5h0.01M61.1 75.5h0.01M67.1 75.5h0.01M73.1 75.6h0.01M79.4 75.5h0.01M85.5 70.5h0.01M91.5 70.5h0.01M97.4 70.7h0.01M102.9 71.2h0.01M108.3 73.5h0.01M115.5 75.2h0.01M122.3 75.5h0.01M128.7 75.6h0.01M137.5 71.7h0.01M143.5 71.4h0.01M149.6 71.3h0.01M155.8 71.3h0.01M162.0 71.4h0.01M168.2 71.4h0.01M174.4 71.3h0.01M180.5 71.3h0.01M186.7 71.3h0.01M192.9 71.3h0.01M199.1 71.3h0.01M205.3 71.3h0.01M7.0 81.0h0.01M13.3 81.0h0.01M19.6 81.0h0.01M25.7 81.1h0.01M31.5 81.3h0.01M37.5 81.5h0.01M43.7 81.6h0.01M49.8 81.6h0.01M55.6 81.7h0.01M61.5 81.7h0.01M67.4 81.8h0.01M73.3 81.8h0.01M79.6 81.8h0.01M86.2 81.8h0.01M90.9 77.1h0.01M96.6 77.4h0.01M102.3 78.2h0.01M108.2 79.5h0.01M114.8 80.7h0.01M121.5 81.3h0.01M128.1 81.5h0.01M137.6 78.0h0.01M143.5 77.6h0.01M149.5 77.5h0.01M155.7 77.5h0.01M162.0 77.6h0.01M168.2 77.6h0.01M174.3 77.5h0.01M180.5 77.5h0.01M186.7 77.5h0.01M192.9 77.5h0.01M199.1 77.5h0.01M205.2 77.5h0.01M7.1 87.3h0.01M13.3 87.3h0.01M19.6 87.3h0.01M25.7 87.4h0.01M31.7 87.5h0.01M37.7 87.7h0.01M44.0 87.8h0.01M50.1 87.8h0.01M55.9 87.9h0.01M61.9 88.0h0.01M67.9 88.0h0.01M74.0 88.1h0.01M80.2 88.0h0.01M86.5 88.0h0.01M90.4 83.7h0.01M96.3 84.1h0.01M102.2 84.8h0.01M108.2 85.7h0.01M114.6 86.5h0.01M121.1 87.1h0.01M131.7 84.8h0.01M137.6 84.3h0.01M143.6 84.0h0.01M149.6 83.8h0.01M155.8 83.8h0.01M162.1 83.9h0.01M168.3 83.9h0.01M174.4 83.8h0.01M180.5 83.8h0.01M186.7 83.8h0.01M192.9 83.8h0.01M199.1 83.8h0.01M205.3 83.7h0.01M7.2 93.5h0.01M13.3 93.5h0.01M19.5 93.6h0.01M25.7 93.6h0.01M31.7 93.8h0.01M37.8 93.9h0.01M44.0 94.0h0.01M50.1 94.0h0.01M56.1 94.1h0.01M62.0 94.2h0.01M68.0 94.3h0.01M74.2 94.3h0.01M80.5 94.2h0.01M86.8 94.2h0.01M93.1 94.1h0.01M99.5 94.0h0.01M102.1 91.2h0.01M108.2 91.9h0.01M114.5 92.5h0.01M125.6 91.8h0.01M131.7 91.2h0.01M137.7 90.7h0.01M143.7 90.4h0.01M149.8 90.3h0.01M156.0 90.2h0.01M162.2 90.2h0.01M168.3 90.2h0.01M174.5 90.2h0.01M180.6 90.1h0.01M186.8 90.1h0.01M193.0 90.1h0.01M199.2 90.1h0.01M205.3 90.1h0.01M7.3 99.7h0.01M13.5 99.7h0.01M19.7 99.8h0.01M25.8 99.8h0.01M31.9 99.9h0.01M38.0 100.0h0.01M44.2 100.0h0.01M50.3 100.1h0.01M56.3 100.2h0.01M62.3 100.4h0.01M68.2 100.5h0.01M74.4 100.5h0.01M80.7 100.4h0.01M86.9 100.4h0.01M93.1 100.4h0.01M99.4 100.4h0.01M105.9 100.2h0.01M112.7 99.7h0.01M119.3 98.9h0.01M125.6 98.0h0.01M131.7 97.4h0.01M137.8 97.0h0.01M143.9 96.8h0.01M149.9 96.7h0.01M156.1 96.6h0.01M162.2 96.5h0.01M168.4 96.5h0.01M174.5 96.5h0.01M180.7 96.4h0.01M186.9 96.4h0.01M193.1 96.4h0.01M199.2 96.4h0.01M205.4 96.4h0.01M7.4 105.9h0.01M13.7 106.0h0.01M19.9 106.0h0.01M25.9 106.0h0.01M32.1 106.1h0.01M38.3 106.1h0.01M44.5 106.1h0.01M50.7 106.1h0.01M56.6 106.3h0.01M62.6 106.5h0.01M68.6 106.5h0.01M74.9 106.6h0.01M81.0 106.6h0.01M86.9 106.7h0.01M92.7 106.8h0.01M98.9 106.8h0.01M105.7 106.6h0.01M112.6 106.0h0.01M119.4 104.9h0.01M125.6 104.0h0.01M131.7 103.5h0.01M137.8 103.2h0.01M143.9 103.1h0.01M150.0 103.0h0.01M156.1 102.9h0.01M162.3 102.8h0.01M168.4 102.8h0.01M174.6 102.8h0.01M180.8 102.7h0.01M186.9 102.7h0.01M193.1 102.7h0.01M199.3 102.7h0.01M205.5 102.7h0.01M7.5 112.2h0.01M13.8 112.2h0.01M19.9 112.2h0.01M26.0 112.2h0.01M32.2 112.2h0.01M38.4 112.3h0.01M44.7 112.2h0.01M50.8 112.3h0.01M56.8 112.4h0.01M62.8 112.6h0.01M68.8 112.7h0.01M75.0 112.8h0.01M81.1 112.8h0.01M87.0 112.9h0.01M92.4 113.1h0.01M98.6 113.1h0.01M105.6 112.9h0.01M112.7 112.1h0.01M119.5 110.8h0.01M125.5 109.7h0.01M131.5 109.3h0.01M137.7 109.2h0.01M143.9 109.3h0.01M150.0 109.2h0.01M156.1 109.0h0.01M162.2 109.0h0.01M168.4 109.0h0.01M174.6 109.0h0.01M180.8 109.0h0.01M186.9 108.9h0.01M193.1 108.9h0.01M199.3 108.9h0.01M205.5 108.9h0.01M7.5 118.3h0.01M13.8 118.4h0.01M19.9 118.4h0.01M26.1 118.4h0.01M32.3 118.4h0.01M38.5 118.4h0.01M44.7 118.5h0.01M50.8 118.5h0.01M56.9 118.6h0.01M63.0 118.7h0.01M69.0 118.8h0.01M75.1 118.9h0.01M81.2 118.9h0.01M87.2 119.1h0.01M93.0 119.2h0.01M99.2 119.2h0.01M106.0 118.9h0.01M112.9 118.1h0.01M119.5 116.7h0.01M125.3 115.5h0.01M131.2 115.1h0.01M137.5 115.2h0.01M143.8 115.4h0.01M150.0 115.4h0.01M156.0 115.2h0.01M162.1 115.1h0.01M168.4 115.1h0.01M174.6 115.2h0.01M180.8 115.2h0.01M186.9 115.2h0.01M193.1 115.1h0.01M199.3 115.1h0.01M205.5 115.1h0.01M7.6 124.4h0.01M13.9 124.4h0.01M20.0 124.5h0.01M26.2 124.5h0.01M32.4 124.5h0.01M38.6 124.5h0.01M44.8 124.5h0.01M50.9 124.6h0.01M57.1 124.6h0.01M63.2 124.7h0.01M69.3 124.8h0.01M75.4 124.9h0.01M81.5 125.0h0.01M87.6 125.1h0.01M93.7 125.1h0.01M99.9 125.1h0.01M106.4 124.8h0.01M113.0 124.2h0.01M119.5 122.9h0.01M125.3 121.7h0.01M131.2 121.4h0.01M137.5 121.5h0.01M143.8 121.7h0.01M150.0 121.6h0.01M156.0 121.4h0.01M162.1 121.3h0.01M168.4 121.4h0.01M174.6 121.5h0.01M180.8 121.5h0.01M187.0 121.4h0.01M193.1 121.3h0.01M199.3 121.3h0.01M205.5 121.4h0.01M7.8 130.5h0.01M14.1 130.4h0.01M20.2 130.4h0.01M26.4 130.5h0.01M32.5 130.5h0.01M38.7 130.5h0.01M45.0 130.5h0.01M51.1 130.5h0.01M57.2 130.6h0.01M63.4 130.7h0.01M69.6 130.8h0.01M75.8 130.7h0.01M81.9 130.8h0.01M87.9 131.0h0.01M94.0 131.2h0.01M100.1 131.2h0.01M106.5 131.0h0.01M113.0 130.5h0.01M119.5 129.5h0.01M125.6 128.5h0.01M131.5 128.0h0.01M137.7 128.0h0.01M143.9 128.1h0.01M150.0 128.0h0.01M156.1 127.8h0.01M162.3 127.7h0.01M168.5 127.7h0.01M174.7 127.8h0.01M180.8 127.8h0.01M187.0 127.7h0.01M193.1 127.7h0.01M199.3 127.6h0.01M205.5 127.7h0.01M7.9 136.5h0.01M14.2 136.3h0.01M20.4 136.3h0.01M26.5 136.5h0.01M32.6 136.6h0.01M38.9 136.5h0.01M45.2 136.4h0.01M51.3 136.4h0.01M57.4 136.7h0.01M63.5 136.8h0.01M69.8 136.7h0.01M76.1 136.6h0.01M82.2 136.7h0.01M88.1 137.1h0.01M94.0 137.4h0.01M99.9 137.7h0.01M106.2 137.5h0.01M112.9 137.0h0.01M119.5 136.1h0.01M125.7 135.2h0.01M131.7 134.8h0.01M137.9 134.6h0.01M144.0 134.4h0.01M150.1 134.3h0.01M156.2 134.2h0.01M162.4 134.1h0.01M168.5 134.1h0.01M174.7 134.1h0.01M180.9 134.1h0.01M187.0 134.0h0.01M193.2 134.0h0.01M199.4 134.0h0.01M205.6 134.0h0.01M8.0 142.7h0.01M14.3 142.5h0.01M20.5 142.5h0.01M26.6 142.7h0.01M32.7 142.8h0.01M38.9 142.7h0.01M45.2 142.5h0.01M51.4 142.6h0.01M57.5 142.8h0.01M63.6 142.9h0.01M69.8 142.9h0.01M76.1 142.7h0.01M82.2 142.8h0.01M88.2 143.2h0.01M94.0 143.7h0.01M99.8 144.0h0.01M106.2 143.9h0.01M112.9 143.2h0.01M119.5 142.3h0.01M125.7 141.5h0.01M131.8 141.1h0.01M137.9 140.9h0.01M144.0 140.8h0.01M150.1 140.6h0.01M156.2 140.5h0.01M162.4 140.4h0.01M168.5 140.4h0.01M174.7 140.4h0.01M180.9 140.3h0.01M187.1 140.3h0.01M193.2 140.3h0.01M199.4 140.2h0.01M205.6 140.3h0.01M8.0 148.9h0.01M14.2 148.8h0.01M20.4 148.8h0.01M26.6 148.9h0.01M32.7 148.9h0.01M38.9 148.9h0.01M45.2 148.9h0.01M51.3 148.9h0.01M57.5 149.0h0.01M63.6 149.1h0.01M69.8 149.1h0.01M76.0 149.1h0.01M82.2 149.1h0.01M88.3 149.3h0.01M94.2 149.6h0.01M100.3 149.9h0.01M106.6 149.7h0.01M113.1 149.1h0.01M119.5 148.1h0.01M125.6 147.3h0.01M131.7 147.1h0.01M137.9 147.1h0.01M144.0 147.0h0.01M150.1 146.8h0.01M156.2 146.6h0.01M162.3 146.6h0.01M168.5 146.6h0.01M174.7 146.6h0.01M180.9 146.6h0.01M187.0 146.5h0.01M193.2 146.5h0.01M199.4 146.4h0.01M205.6 146.5h0.01M8.0 155.1h0.01M14.2 155.0h0.01M20.4 155.0h0.01M26.6 155.1h0.01M32.8 155.1h0.01M39.0 155.1h0.01M45.2 155.1h0.01M51.3 155.1h0.01M57.5 155.2h0.01M63.7 155.2h0.01M69.8 155.3h0.01M76.0 155.3h0.01M82.2 155.3h0.01M88.3 155.4h0.01M94.5 155.6h0.01M100.6 155.6h0.01M106.9 155.5h0.01M113.3 154.9h0.01M119.4 153.6h0.01M125.3 152.9h0.01M131.5 152.9h0.01M137.8 153.1h0.01M144.0 153.1h0.01M150.0 153.0h0.01M156.1 152.7h0.01M162.2 152.6h0.01M168.4 152.7h0.01M174.7 152.8h0.01M180.9 152.8h0.01M187.0 152.7h0.01M193.1 152.6h0.01M199.3 152.6h0.01M205.5 152.7h0.01M8.0 161.2h0.01M14.3 161.1h0.01M20.5 161.1h0.01M26.6 161.2h0.01M32.8 161.2h0.01M39.0 161.2h0.01M45.2 161.1h0.01M51.4 161.1h0.01M57.6 161.3h0.01M63.7 161.4h0.01M69.9 161.4h0.01M76.1 161.3h0.01M82.3 161.3h0.01M88.5 161.4h0.01M94.6 161.6h0.01M100.7 161.8h0.01M106.9 161.7h0.01M113.3 161.2h0.01M119.4 159.7h0.01M125.0 158.8h0.01M131.3 158.9h0.01M137.7 159.3h0.01M144.0 159.4h0.01M150.0 159.2h0.01M156.0 158.9h0.01M162.1 158.8h0.01M168.4 158.9h0.01M174.7 159.0h0.01M180.9 159.0h0.01M187.0 158.9h0.01M193.1 158.8h0.01M199.3 158.8h0.01M205.5 158.9h0.01M8.1 167.3h0.01M14.4 167.1h0.01M20.5 167.1h0.01M26.7 167.3h0.01M32.8 167.4h0.01M39.1 167.3h0.01M45.3 167.1h0.01M51.5 167.1h0.01M57.6 167.4h0.01M63.7 167.5h0.01M69.9 167.5h0.01M76.2 167.4h0.01M82.4 167.3h0.01M88.6 167.5h0.01M94.6 167.8h0.01M100.6 168.2h0.01M106.7 168.4h0.01M113.1 168.0h0.01M119.5 166.6h0.01M125.4 165.5h0.01M131.5 165.5h0.01M137.8 165.7h0.01M144.0 165.7h0.01M150.1 165.5h0.01M156.1 165.3h0.01M162.2 165.2h0.01M168.4 165.2h0.01M174.7 165.3h0.01M180.9 165.3h0.01M187.0 165.2h0.01M193.1 165.1h0.01M199.3 165.1h0.01M205.5 165.2h0.01M8.1 173.5h0.01M14.4 173.3h0.01M20.6 173.3h0.01M26.7 173.5h0.01M32.8 173.6h0.01M39.1 173.5h0.01M45.3 173.3h0.01M51.5 173.4h0.01M57.6 173.6h0.01M63.8 173.7h0.01M69.9 173.7h0.01M76.2 173.6h0.01M82.4 173.5h0.01M88.6 173.7h0.01M94.6 174.0h0.01M100.6 174.4h0.01M106.7 174.6h0.01M113.0 174.4h0.01M119.5 173.5h0.01M125.7 172.6h0.01M131.8 172.2h0.01M137.9 172.2h0.01M144.1 172.1h0.01M150.2 171.9h0.01M156.2 171.7h0.01M162.4 171.6h0.01M168.6 171.6h0.01M174.8 171.6h0.01M180.9 171.6h0.01M187.1 171.6h0.01M193.2 171.5h0.01M199.4 171.5h0.01M205.6 171.5h0.01M8.1 179.8h0.01M14.3 179.7h0.01M20.5 179.7h0.01M26.7 179.8h0.01M32.8 179.8h0.01M39.0 179.8h0.01M45.3 179.7h0.01M51.4 179.8h0.01M57.6 179.9h0.01M63.7 180.0h0.01M69.9 180.0h0.01M76.2 180.0h0.01M82.4 179.9h0.01M88.5 180.0h0.01M94.6 180.2h0.01M100.7 180.4h0.01M106.9 180.5h0.01M113.1 180.3h0.01M119.5 179.8h0.01M125.7 179.3h0.01M131.9 178.9h0.01M138.0 178.7h0.01M144.1 178.5h0.01M150.2 178.3h0.01M156.4 178.2h0.01M162.5 178.1h0.01M168.7 178.0h0.01M174.8 178.0h0.01M181.0 178.0h0.01M187.2 177.9h0.01M193.3 177.9h0.01M199.5 177.9h0.01M205.7 177.9h0.01" stroke="#000" stroke-opacity="0.72" stroke-width="1.5" stroke-linecap="round" fill="none"/><path d="M5.6 4.3h0.01M11.8 4.3h0.01M30.4 4.3h0.01M5.6 10.6h0.01M11.8 10.6h0.01M24.2 10.6h0.01M30.4 10.6h0.01M42.7 16.8h0.01M42.7 23.1h0.01M11.8 29.3h0.01" stroke="#333" stroke-opacity="0.55" stroke-width="1.0" stroke-linecap="round" fill="none"/><g stroke="#888" stroke-width="0.8"><line x1="8.6" y1="181.0" x2="8.6" y2="179.0"/><line x1="8.6" y1="0" x2="8.6" y2="2"/><line x1="19.0" y1="181.0" x2="19.0" y2="179.0"/><line x1="19.0" y1="0" x2="19.0" y2="2"/><line x1="29.4" y1="181.0" x2="29.4" y2="179.0"/><line x1="29.4" y1="0" x2="29.4" y2="2"/><line x1="39.8" y1="181.0" x2="39.8" y2="179.0"/><line x1="39.8" y1="0" x2="39.8" y2="2"/><line x1="50.2" y1="181.0" x2="50.2" y2="177.0"/><line x1="50.2" y1="0" x2="50.2" y2="4"/><line x1="60.6" y1="181.0" x2="60.6" y2="179.0"/><line x1="60.6" y1="0" x2="60.6" y2="2"/><line x1="71.0" y1="181.0" x2="71.0" y2="179.0"/><line x1="71.0" y1="0" x2="71.0" y2="2"/><line x1="81.4" y1="181.0" x2="81.4" y2="179.0"/><line x1="81.4" y1="0" x2="81.4" y2="2"/><line x1="91.8" y1="181.0" x2="91.8" y2="179.0"/><line x1="91.8" y1="0" x2="91.8" y2="2"/><line x1="102.2" y1="181.0" x2="102.2" y2="177.0"/><line x1="102.2" y1="0" x2="102.2" y2="4"/><line x1="112.6" y1="181.0" x2="112.6" y2="179.0"/><line x1="112.6" y1="0" x2="112.6" y2="2"/><line x1="123.0" y1="181.0" x2="123.0" y2="179.0"/><line x1="123.0" y1="0" x2="123.0" y2="2"/><line x1="133.4" y1="181.0" x2="133.4" y2="179.0"/><line x1="133.4" y1="0" x2="133.4" y2="2"/><line x1="143.8" y1="181.0" x2="143.8" y2="179.0"/><line x1="143.8" y1="0" x2="143.8" y2="2"/><line x1="154.2" y1="181.0" x2="154.2" y2="177.0"/><line x1="154.2" y1="0" x2="154.2" y2="4"/><line x1="164.6" y1="181.0" x2="164.6" y2="179.0"/><line x1="164.6" y1="0" x2="164.6" y2="2"/><line x1="175.0" y1="181.0" x2="175.0" y2="179.0"/><line x1="175.0" y1="0" x2="175.0" y2="2"/><line x1="185.4" y1="181.0" x2="185.4" y2="179.0"/><line x1="185.4" y1="0" x2="185.4" y2="2"/><line x1="195.8" y1="181.0" x2="195.8" y2="179.0"/><line x1="195.8" y1="0" x2="195.8" y2="2"/><line x1="206.2" y1="181.0" x2="206.2" y2="177.0"/><line x1="206.2" y1="0" x2="206.2" y2="4"/><line x1="0" y1="10.3" x2="2" y2="10.3"/><line x1="208.0" y1="10.3" x2="206.0" y2="10.3"/><line x1="0" y1="20.5" x2="2" y2="20.5"/><line x1="208.0" y1="20.5" x2="206.0" y2="20.5"/><line x1="0" y1="30.8" x2="2" y2="30.8"/><line x1="208.0" y1="30.8" x2="206.0" y2="30.8"/><line x1="0" y1="41.0" x2="2" y2="41.0"/><line x1="208.0" y1="41.0" x2="206.0" y2="41.0"/><line x1="0" y1="51.3" x2="4" y2="51.3"/><line x1="208.0" y1="51.3" x2="204.0" y2="51.3"/><line x1="0" y1="61.6" x2="2" y2="61.6"/><line x1="208.0" y1="61.6" x2="206.0" y2="61.6"/><line x1="0" y1="71.8" x2="2" y2="71.8"/><line x1="208.0" y1="71.8" x2="206.0" y2="71.8"/><line x1="0" y1="82.1" x2="2" y2="82.1"/><line x1="208.0" y1="82.1" x2="206.0" y2="82.1"/><line x1="0" y1="92.3" x2="2" y2="92.3"/><line x1="208.0" y1="92.3" x2="206.0" y2="92.3"/><line x1="0" y1="102.6" x2="4" y2="102.6"/><line x1="208.0" y1="102.6" x2="204.0" y2="102.6"/><line x1="0" y1="112.9" x2="2" y2="112.9"/><line x1="208.0" y1="112.9" x2="206.0" y2="112.9"/><line x1="0" y1="123.1" x2="2" y2="123.1"/><line x1="208.0" y1="123.1" x2="206.0" y2="123.1"/><line x1="0" y1="133.4" x2="2" y2="133.4"/><line x1="208.0" y1="133.4" x2="206.0" y2="133.4"/><line x1="0" y1="143.6" x2="2" y2="143.6"/><line x1="208.0" y1="143.6" x2="206.0" y2="143.6"/><line x1="0" y1="153.9" x2="4" y2="153.9"/><line x1="208.0" y1="153.9" x2="204.0" y2="153.9"/><line x1="0" y1="164.2" x2="2" y2="164.2"/><line x1="208.0" y1="164.2" x2="206.0" y2="164.2"/><line x1="0" y1="174.4" x2="2" y2="174.4"/><line x1="208.0" y1="174.4" x2="206.0" y2="174.4"/></g><rect x="0.4" y="0.4" width="207.2" height="180.2" fill="none" stroke="#999" stroke-width="1"/></svg>
</div>
<div class="title" style="left:-63.0px;top:-0.5999999999999996px;">Pre-flare magnetic vector B</div>
<div class="yl" style="left:-8.0px;top:11.0px">-7.5</div>
<div class="yl" style="left:-8.0px;top:62.2px">-8.0</div>
<div class="yl" style="left:-8.0px;top:113.4px">-8.5</div>
<div class="yl" style="left:-8.0px;top:164.60000000000002px">-9.0</div>
<div class="xl" style="left:63.2px;top:198.3px">32.0</div>
<div class="xl" style="left:115.1px;top:198.3px">32.5</div>
<div class="xl" style="left:167.0px;top:198.3px">33.0</div>
<div class="xl" style="left:218.89999999999998px;top:198.3px">33.5</div>
<div class="plot" style="left:341.3px;top:13.0px">
<svg width="208.0" height="181.0" viewBox="0 0 208.0 181.0"><filter id="bl01" x="-30%" y="-30%" width="160%" height="160%"><feGaussianBlur stdDeviation="4"/></filter><g filter="url(#bl01)"><rect x="26.00" y="-20.00" width="13.30" height="33.23" fill="#e6e6ff"/><rect x="39.00" y="-20.00" width="13.30" height="33.23" fill="#ffe6e6"/><rect x="65.00" y="-20.00" width="13.30" height="33.23" fill="#e6e6ff"/><rect x="91.00" y="-20.00" width="13.30" height="33.23" fill="#e6e6ff"/><rect x="130.00" y="-20.00" width="13.30" height="33.23" fill="#e6e6ff"/><rect x="156.00" y="-20.00" width="13.30" height="33.23" fill="#e6e6ff"/><rect x="169.00" y="-20.00" width="13.30" height="33.23" fill="#e6e6ff"/><rect x="182.00" y="-20.00" width="13.30" height="33.23" fill="#e6e6ff"/><rect x="-20.00" y="12.93" width="33.30" height="13.23" fill="#e6e6ff"/><rect x="13.00" y="12.93" width="13.30" height="13.23" fill="#e6e6ff"/><rect x="39.00" y="12.93" width="13.30" height="13.23" fill="#e6e6ff"/><rect x="52.00" y="12.93" width="13.30" height="13.23" fill="#e6e6ff"/><rect x="78.00" y="12.93" width="13.30" height="13.23" fill="#e6e6ff"/><rect x="104.00" y="12.93" width="13.30" height="13.23" fill="#e6e6ff"/><rect x="143.00" y="12.93" width="13.30" height="13.23" fill="#e6e6ff"/><rect x="156.00" y="12.93" width="13.30" height="13.23" fill="#e6e6ff"/><rect x="169.00" y="12.93" width="13.30" height="13.23" fill="#e6e6ff"/><rect x="13.00" y="25.86" width="13.30" height="13.23" fill="#ffe6e6"/><rect x="26.00" y="25.86" width="13.30" height="13.23" fill="#ffe6e6"/><rect x="39.00" y="25.86" width="13.30" height="13.23" fill="#e6e6ff"/><rect x="78.00" y="25.86" width="13.30" height="13.23" fill="#ffe6e6"/><rect x="156.00" y="25.86" width="13.30" height="13.23" fill="#e6e6ff"/><rect x="-20.00" y="38.79" width="33.30" height="13.23" fill="#ffe6e6"/><rect x="13.00" y="38.79" width="13.30" height="13.23" fill="#ffe6e6"/><rect x="26.00" y="38.79" width="13.30" height="13.23" fill="#ffe6e6"/><rect x="39.00" y="38.79" width="13.30" height="13.23" fill="#ffe6e6"/><rect x="52.00" y="38.79" width="13.30" height="13.23" fill="#ffe6e6"/><rect x="65.00" y="38.79" width="13.30" height="13.23" fill="#ffe6e6"/><rect x="91.00" y="38.79" width="13.30" height="13.23" fill="#ffe6e6"/><rect x="104.00" y="38.79" width="13.30" height="13.23" fill="#ffe6e6"/><rect x="169.00" y="38.79" width="13.30" height="13.23" fill="#e6e6ff"/><rect x="195.00" y="38.79" width="33.30" height="13.23" fill="#e6e6ff"/><rect x="-20.00" y="51.71" width="33.30" height="13.23" fill="#e6e6ff"/><rect x="13.00" y="51.71" width="13.30" height="13.23" fill="#ffe6e6"/><rect x="26.00" y="51.71" width="13.30" height="13.23" fill="#ffe6e6"/><rect x="39.00" y="51.71" width="13.30" height="13.23" fill="#ffe6e6"/><rect x="52.00" y="51.71" width="13.30" height="13.23" fill="#ffe6e6"/><rect x="78.00" y="51.71" width="13.30" height="13.23" fill="#ffe6e6"/><rect x="91.00" y="51.71" width="13.30" height="13.23" fill="#ffe6e6"/><rect x="104.00" y="51.71" width="13.30" height="13.23" fill="#ffe6e6"/><rect x="117.00" y="51.71" width="13.30" height="13.23" fill="#ffe6e6"/><rect x="156.00" y="51.71" width="13.30" height="13.23" fill="#e6e6ff"/><rect x="182.00" y="51.71" width="13.30" height="13.23" fill="#e6e6ff"/><rect x="13.00" y="64.64" width="13.30" height="13.23" fill="#ffe6e6"/><rect x="26.00" y="64.64" width="13.30" height="13.23" fill="#ffe6e6"/><rect x="39.00" y="64.64" width="13.30" height="13.23" fill="#e6e6ff"/><rect x="52.00" y="64.64" width="13.30" height="13.23" fill="#ffe6e6"/><rect x="78.00" y="64.64" width="13.30" height="13.23" fill="#ffe6e6"/><rect x="91.00" y="64.64" width="13.30" height="13.23" fill="#ffe6e6"/><rect x="104.00" y="64.64" width="13.30" height="13.23" fill="#ffe6e6"/><rect x="117.00" y="64.64" width="13.30" height="13.23" fill="#ffe6e6"/><rect x="143.00" y="64.64" width="13.30" height="13.23" fill="#e6e6ff"/><rect x="156.00" y="64.64" width="13.30" height="13.23" fill="#e6e6ff"/><rect x="182.00" y="64.64" width="13.30" height="13.23" fill="#e6e6ff"/><rect x="-20.00" y="77.57" width="33.30" height="13.23" fill="#e6e6ff"/><rect x="26.00" y="77.57" width="13.30" height="13.23" fill="#e6e6ff"/><rect x="39.00" y="77.57" width="13.30" height="13.23" fill="#ffe6e6"/><rect x="52.00" y="77.57" width="13.30" height="13.23" fill="#e6e6ff"/><rect x="78.00" y="77.57" width="13.30" height="13.23" fill="#ffe6e6"/><rect x="91.00" y="77.57" width="13.30" height="13.23" fill="#ffe6e6"/><rect x="104.00" y="77.57" width="13.30" height="13.23" fill="#ffe6e6"/><rect x="117.00" y="77.57" width="13.30" height="13.23" fill="#ffe6e6"/><rect x="130.00" y="77.57" width="13.30" height="13.23" fill="#ffe6e6"/><rect x="169.00" y="77.57" width="13.30" height="13.23" fill="#e6e6ff"/><rect x="195.00" y="77.57" width="33.30" height="13.23" fill="#e6e6ff"/><rect x="13.00" y="90.50" width="13.30" height="13.23" fill="#e6e6ff"/><rect x="39.00" y="90.50" width="13.30" height="13.23" fill="#ffe6e6"/><rect x="65.00" y="90.50" width="13.30" height="13.23" fill="#ffe6e6"/><rect x="78.00" y="90.50" width="13.30" height="13.23" fill="#ffe6e6"/><rect x="91.00" y="90.50" width="13.30" height="13.23" fill="#ffe6e6"/><rect x="104.00" y="90.50" width="13.30" height="13.23" fill="#ffe6e6"/><rect x="117.00" y="90.50" width="13.30" height="13.23" fill="#ffe6e6"/><rect x="130.00" y="90.50" width="13.30" height="13.23" fill="#ffe6e6"/><rect x="169.00" y="90.50" width="13.30" height="13.23" fill="#e6e6ff"/><rect x="182.00" y="90.50" width="13.30" height="13.23" fill="#e6e6ff"/><rect x="26.00" y="103.43" width="13.30" height="13.23" fill="#e6e6ff"/><rect x="52.00" y="103.43" width="13.30" height="13.23" fill="#ffe6e6"/><rect x="78.00" y="103.43" width="13.30" height="13.23" fill="#ffe6e6"/><rect x="91.00" y="103.43" width="13.30" height="13.23" fill="#ffe6e6"/><rect x="104.00" y="103.43" width="13.30" height="13.23" fill="#ffe6e6"/><rect x="117.00" y="103.43" width="13.30" height="13.23" fill="#ffe6e6"/><rect x="156.00" y="103.43" width="13.30" height="13.23" fill="#e6e6ff"/><rect x="182.00" y="103.43" width="13.30" height="13.23" fill="#e6e6ff"/><rect x="-20.00" y="116.36" width="33.30" height="13.23" fill="#e6e6ff"/><rect x="39.00" y="116.36" width="13.30" height="13.23" fill="#e6e6ff"/><rect x="65.00" y="116.36" width="13.30" height="13.23" fill="#ffe6e6"/><rect x="91.00" y="116.36" width="13.30" height="13.23" fill="#ffe6e6"/><rect x="104.00" y="116.36" width="13.30" height="13.23" fill="#ffe6e6"/><rect x="117.00" y="116.36" width="13.30" height="13.23" fill="#ffe6e6"/><rect x="156.00" y="116.36" width="13.30" height="13.23" fill="#e6e6ff"/><rect x="169.00" y="116.36" width="13.30" height="13.23" fill="#e6e6ff"/><rect x="195.00" y="116.36" width="33.30" height="13.23" fill="#e6e6ff"/><rect x="13.00" y="129.29" width="13.30" height="13.23" fill="#e6e6ff"/><rect x="26.00" y="129.29" width="13.30" height="13.23" fill="#e6e6ff"/><rect x="78.00" y="129.29" width="13.30" height="13.23" fill="#ffe6e6"/><rect x="91.00" y="129.29" width="13.30" height="13.23" fill="#ffe6e6"/><rect x="104.00" y="129.29" width="13.30" height="13.23" fill="#ffe6e6"/><rect x="117.00" y="129.29" width="13.30" height="13.23" fill="#e6e6ff"/><rect x="156.00" y="129.29" width="13.30" height="13.23" fill="#e6e6ff"/><rect x="182.00" y="129.29" width="13.30" height="13.23" fill="#e6e6ff"/><rect x="26.00" y="142.21" width="13.30" height="13.23" fill="#e6e6ff"/><rect x="65.00" y="142.21" width="13.30" height="13.23" fill="#ffe6e6"/><rect x="78.00" y="142.21" width="13.30" height="13.23" fill="#ffe6e6"/><rect x="91.00" y="142.21" width="13.30" height="13.23" fill="#ffe6e6"/><rect x="104.00" y="142.21" width="13.30" height="13.23" fill="#e6e6ff"/><rect x="117.00" y="142.21" width="13.30" height="13.23" fill="#e6e6ff"/><rect x="143.00" y="142.21" width="13.30" height="13.23" fill="#e6e6ff"/><rect x="169.00" y="142.21" width="13.30" height="13.23" fill="#e6e6ff"/><rect x="13.00" y="155.14" width="13.30" height="13.23" fill="#e6e6ff"/><rect x="52.00" y="155.14" width="13.30" height="13.23" fill="#ffe6e6"/><rect x="78.00" y="155.14" width="13.30" height="13.23" fill="#ffe6e6"/><rect x="91.00" y="155.14" width="13.30" height="13.23" fill="#ffe6e6"/><rect x="104.00" y="155.14" width="13.30" height="13.23" fill="#e6e6ff"/><rect x="117.00" y="155.14" width="13.30" height="13.23" fill="#e6e6ff"/><rect x="169.00" y="155.14" width="13.30" height="13.23" fill="#e6e6ff"/><rect x="26.00" y="168.07" width="13.30" height="33.23" fill="#e6e6ff"/><rect x="52.00" y="168.07" width="13.30" height="33.23" fill="#ffe6e6"/><rect x="78.00" y="168.07" width="13.30" height="33.23" fill="#ffe6e6"/><rect x="91.00" y="168.07" width="13.30" height="33.23" fill="#ffe6e6"/><rect x="104.00" y="168.07" width="13.30" height="33.23" fill="#e6e6ff"/><rect x="117.00" y="168.07" width="13.30" height="33.23" fill="#e6e6ff"/><rect x="156.00" y="168.07" width="13.30" height="33.23" fill="#e6e6ff"/><rect x="169.00" y="168.07" width="13.30" height="33.23" fill="#e6e6ff"/></g><filter id="o01a" x="-50%" y="-50%" width="200%" height="200%"><feGaussianBlur stdDeviation="2.6"/></filter><filter id="o01b" x="-50%" y="-50%" width="200%" height="200%"><feGaussianBlur stdDeviation="1.0"/></filter><g filter="url(#o01a)"><ellipse cx="98.5" cy="77" rx="25" ry="26" fill="#f9a8a8"/><path d="M88,29 C100,30 112,33 118,38 L131,58" stroke="#aeaef2" stroke-width="8" fill="none"/><path d="M133,70 L176,39" stroke="#b8b8f4" stroke-width="9" fill="none"/><path d="M119,96 L104,181" stroke="#f5b0b0" stroke-width="13" fill="none"/><path d="M118,142 L114,181" stroke="#a8a8f2" stroke-width="8" fill="none"/></g><g filter="url(#o01b)"><ellipse cx="101.3" cy="58.7" rx="3.8" ry="2.4" fill="#fff"/><ellipse cx="101.3" cy="58.7" rx="2.6" ry="1.4" fill="#aab0ee"/></g><g stroke="#000" stroke-width="0.7" fill="none"><path d="M135.5,90 C137.5,91 136,95 134,98 L128,108 C126,111 125,114 123,115 C121.5,115 121.3,112 122,108 C123,102 126,96 130,92.5 C132,90.5 134,89.5 135.5,90 Z"/><path d="M122,114.5 C124,115 124,118 123,121 L120,128 C119,130 117.5,131 116.5,130 C115.5,129 116,126 117,123 C118,119 120,114.5 122,114.5 Z"/><path d="M115,132.6 L117.3,135.5 L115,139 L112.8,135.8 Z"/><ellipse cx="112.6" cy="143" rx="1.7" ry="3" transform="rotate(20 112.6 143)"/><ellipse cx="92.3" cy="45.8" rx="4.3" ry="2.3"/><ellipse cx="86.5" cy="48.6" rx="3.2" ry="1.9"/><ellipse cx="81.1" cy="53.5" rx="1.6" ry="3.3"/></g><path d="M92.3 29.3L89.3 29.0M98.5 29.3L95.5 29.0M104.6 29.3L101.7 29.0M110.8 29.3L107.8 29.0M117.0 29.3L114.0 29.0M92.3 35.5L89.3 35.3M98.5 35.5L95.5 35.3M104.6 35.5L101.7 35.3M110.8 35.5L107.8 35.3M117.0 35.5L114.0 35.3M86.1 60.5L84.2 56.5M92.3 60.5L91.2 56.2M98.5 60.5L98.4 56.1M104.6 60.5L105.8 56.3M110.8 60.5L113.1 56.8M79.9 66.8L77.2 63.3M86.1 66.8L83.8 62.9M92.3 66.8L90.8 62.4M98.5 66.8L98.6 62.3M104.6 66.8L105.6 62.5M110.8 66.8L113.5 63.3M117.0 66.8L119.3 63.3M79.9 73.0L76.6 70.2M86.1 73.0L83.0 69.7M92.3 73.0L90.4 68.5M98.5 73.0L97.5 68.7M104.6 73.0L104.5 68.8M110.8 73.0L112.7 69.4M117.0 73.0L119.7 70.0M79.9 79.3L76.3 77.2M86.1 79.3L82.3 77.0M92.3 79.3L88.9 76.4M98.5 79.3L96.1 75.9M104.6 79.3L102.9 76.0M110.8 79.3L110.0 75.6M117.0 79.3L117.8 75.4M79.9 85.5L76.2 84.0M86.1 85.5L82.3 84.1M92.3 85.5L88.7 83.7M98.5 85.5L95.2 83.5M104.6 85.5L102.4 82.7M110.8 85.5L109.0 82.3M117.0 85.5L115.9 81.8M79.9 91.8L76.2 90.7M86.1 91.8L82.4 91.7M92.3 91.8L88.6 91.3M98.5 91.8L94.9 91.6M104.6 91.8L101.1 90.8M110.8 91.8L108.1 89.2M117.0 91.8L114.9 88.5M86.1 98.0L82.4 97.8M92.3 98.0L88.6 97.6M98.5 98.0L94.9 97.3M104.6 98.0L101.1 96.9M110.8 98.0L107.7 95.9" stroke="#000" stroke-opacity="0.56" stroke-width="0.85" stroke-linecap="round" fill="none"/><path d="M89.3 29.0h0.01M95.5 29.0h0.01M101.7 29.0h0.01M107.8 29.0h0.01M114.0 29.0h0.01M89.3 35.3h0.01M95.5 35.3h0.01M101.7 35.3h0.01M107.8 35.3h0.01M114.0 35.3h0.01M84.2 56.5h0.01M91.2 56.2h0.01M98.4 56.1h0.01M105.8 56.3h0.01M113.1 56.8h0.01M77.2 63.3h0.01M83.8 62.9h0.01M90.8 62.4h0.01M98.6 62.3h0.01M105.6 62.5h0.01M113.5 63.3h0.01M119.3 63.3h0.01M76.6 70.2h0.01M83.0 69.7h0.01M90.4 68.5h0.01M97.5 68.7h0.01M104.5 68.8h0.01M112.7 69.4h0.01M119.7 70.0h0.01M76.3 77.2h0.01M82.3 77.0h0.01M88.9 76.4h0.01M96.1 75.9h0.01M102.9 76.0h0.01M110.0 75.6h0.01M117.8 75.4h0.01M76.2 84.0h0.01M82.3 84.1h0.01M88.7 83.7h0.01M95.2 83.5h0.01M102.4 82.7h0.01M109.0 82.3h0.01M115.9 81.8h0.01M76.2 90.7h0.01M82.4 91.7h0.01M88.6 91.3h0.01M94.9 91.6h0.01M101.1 90.8h0.01M108.1 89.2h0.01M114.9 88.5h0.01M82.4 97.8h0.01M88.6 97.6h0.01M94.9 97.3h0.01M101.1 96.9h0.01M107.7 95.9h0.01" stroke="#000" stroke-opacity="0.70" stroke-width="1.5" stroke-linecap="round" fill="none"/><path d="M5.6 4.3h0.01M11.8 4.3h0.01M18.0 4.3h0.01M36.6 4.3h0.01M42.7 4.3h0.01M55.1 4.3h0.01M61.3 4.3h0.01M73.7 4.3h0.01M86.1 4.3h0.01M98.5 4.3h0.01M117.0 4.3h0.01M135.6 4.3h0.01M148.0 4.3h0.01M154.2 4.3h0.01M160.3 4.3h0.01M172.7 4.3h0.01M203.7 4.3h0.01M11.8 10.6h0.01M30.4 10.6h0.01M36.6 10.6h0.01M42.7 10.6h0.01M55.1 10.6h0.01M67.5 10.6h0.01M73.7 10.6h0.01M79.9 10.6h0.01M86.1 10.6h0.01M92.3 10.6h0.01M98.5 10.6h0.01M141.8 10.6h0.01M166.5 10.6h0.01M178.9 10.6h0.01M191.3 10.6h0.01M197.5 10.6h0.01M203.7 10.6h0.01M18.0 16.8h0.01M30.4 16.8h0.01M36.6 16.8h0.01M42.7 16.8h0.01M61.3 16.8h0.01M73.7 16.8h0.01M86.1 16.8h0.01M104.6 16.8h0.01M117.0 16.8h0.01M123.2 16.8h0.01M129.4 16.8h0.01M135.6 16.8h0.01M141.8 16.8h0.01M148.0 16.8h0.01M160.3 16.8h0.01M166.5 16.8h0.01M178.9 16.8h0.01M197.5 16.8h0.01M203.7 16.8h0.01M5.6 23.1h0.01M18.0 23.1h0.01M24.2 23.1h0.01M42.7 23.1h0.01M48.9 23.1h0.01M61.3 23.1h0.01M67.5 23.1h0.01M79.9 23.1h0.01M86.1 23.1h0.01M92.3 23.1h0.01M98.5 23.1h0.01M104.6 23.1h0.01M110.8 23.1h0.01M129.4 23.1h0.01M141.8 23.1h0.01M154.2 23.1h0.01M172.7 23.1h0.01M178.9 23.1h0.01M197.5 23.1h0.01M203.7 23.1h0.01M5.6 29.3h0.01M11.8 29.3h0.01M18.0 29.3h0.01M24.2 29.3h0.01M30.4 29.3h0.01M36.6 29.3h0.01M42.7 29.3h0.01M48.9 29.3h0.01M61.3 29.3h0.01M67.5 29.3h0.01M79.9 29.3h0.01M86.1 29.3h0.01M129.4 29.3h0.01M135.6 29.3h0.01M141.8 29.3h0.01M154.2 29.3h0.01M160.3 29.3h0.01M166.5 29.3h0.01M178.9 29.3h0.01M191.3 29.3h0.01M197.5 29.3h0.01M11.8 35.5h0.01M18.0 35.5h0.01M24.2 35.5h0.01M30.4 35.5h0.01M36.6 35.5h0.01M55.1 35.5h0.01M61.3 35.5h0.01M86.1 35.5h0.01M123.2 35.5h0.01M129.4 35.5h0.01M141.8 35.5h0.01M148.0 35.5h0.01M154.2 35.5h0.01M160.3 35.5h0.01M166.5 35.5h0.01M178.9 35.5h0.01M185.1 35.5h0.01M5.6 41.8h0.01M24.2 41.8h0.01M48.9 41.8h0.01M55.1 41.8h0.01M61.3 41.8h0.01M67.5 41.8h0.01M73.7 41.8h0.01M79.9 41.8h0.01M86.1 41.8h0.01M98.5 41.8h0.01M135.6 41.8h0.01M141.8 41.8h0.01M154.2 41.8h0.01M160.3 41.8h0.01M172.7 41.8h0.01M178.9 41.8h0.01M197.5 41.8h0.01M203.7 41.8h0.01M11.8 48.0h0.01M24.2 48.0h0.01M30.4 48.0h0.01M36.6 48.0h0.01M48.9 48.0h0.01M79.9 48.0h0.01M98.5 48.0h0.01M104.6 48.0h0.01M110.8 48.0h0.01M117.0 48.0h0.01M123.2 48.0h0.01M129.4 48.0h0.01M141.8 48.0h0.01M148.0 48.0h0.01M154.2 48.0h0.01M160.3 48.0h0.01M166.5 48.0h0.01M185.1 48.0h0.01M191.3 48.0h0.01M197.5 48.0h0.01M203.7 48.0h0.01M5.6 54.3h0.01M18.0 54.3h0.01M24.2 54.3h0.01M30.4 54.3h0.01M36.6 54.3h0.01M42.7 54.3h0.01M48.9 54.3h0.01M61.3 54.3h0.01M67.5 54.3h0.01M73.7 54.3h0.01M79.9 54.3h0.01M98.5 54.3h0.01M117.0 54.3h0.01M123.2 54.3h0.01M129.4 54.3h0.01M141.8 54.3h0.01M154.2 54.3h0.01M160.3 54.3h0.01M166.5 54.3h0.01M178.9 54.3h0.01M185.1 54.3h0.01M191.3 54.3h0.01M5.6 60.5h0.01M24.2 60.5h0.01M30.4 60.5h0.01M36.6 60.5h0.01M79.9 60.5h0.01M117.0 60.5h0.01M123.2 60.5h0.01M129.4 60.5h0.01M135.6 60.5h0.01M148.0 60.5h0.01M154.2 60.5h0.01M160.3 60.5h0.01M172.7 60.5h0.01M178.9 60.5h0.01M191.3 60.5h0.01M18.0 66.8h0.01M30.4 66.8h0.01M42.7 66.8h0.01M55.1 66.8h0.01M73.7 66.8h0.01M123.2 66.8h0.01M129.4 66.8h0.01M141.8 66.8h0.01M148.0 66.8h0.01M154.2 66.8h0.01M172.7 66.8h0.01M178.9 66.8h0.01M185.1 66.8h0.01M191.3 66.8h0.01M197.5 66.8h0.01M203.7 66.8h0.01M5.6 73.0h0.01M18.0 73.0h0.01M30.4 73.0h0.01M55.1 73.0h0.01M61.3 73.0h0.01M123.2 73.0h0.01M129.4 73.0h0.01M148.0 73.0h0.01M154.2 73.0h0.01M166.5 73.0h0.01M172.7 73.0h0.01M178.9 73.0h0.01M185.1 73.0h0.01M191.3 73.0h0.01M197.5 73.0h0.01M11.8 79.3h0.01M24.2 79.3h0.01M36.6 79.3h0.01M42.7 79.3h0.01M48.9 79.3h0.01M55.1 79.3h0.01M61.3 79.3h0.01M67.5 79.3h0.01M73.7 79.3h0.01M123.2 79.3h0.01M129.4 79.3h0.01M141.8 79.3h0.01M154.2 79.3h0.01M160.3 79.3h0.01M166.5 79.3h0.01M185.1 79.3h0.01M191.3 79.3h0.01M5.6 85.5h0.01M24.2 85.5h0.01M30.4 85.5h0.01M36.6 85.5h0.01M67.5 85.5h0.01M73.7 85.5h0.01M123.2 85.5h0.01M129.4 85.5h0.01M154.2 85.5h0.01M166.5 85.5h0.01M172.7 85.5h0.01M185.1 85.5h0.01M191.3 85.5h0.01M203.7 85.5h0.01M5.6 91.8h0.01M11.8 91.8h0.01M24.2 91.8h0.01M30.4 91.8h0.01M36.6 91.8h0.01M42.7 91.8h0.01M48.9 91.8h0.01M55.1 91.8h0.01M67.5 91.8h0.01M73.7 91.8h0.01M123.2 91.8h0.01M129.4 91.8h0.01M141.8 91.8h0.01M160.3 91.8h0.01M172.7 91.8h0.01M191.3 91.8h0.01M11.8 98.0h0.01M36.6 98.0h0.01M42.7 98.0h0.01M48.9 98.0h0.01M55.1 98.0h0.01M73.7 98.0h0.01M79.9 98.0h0.01M129.4 98.0h0.01M148.0 98.0h0.01M160.3 98.0h0.01M166.5 98.0h0.01M178.9 98.0h0.01M185.1 98.0h0.01M197.5 98.0h0.01M203.7 98.0h0.01M5.6 104.3h0.01M11.8 104.3h0.01M30.4 104.3h0.01M42.7 104.3h0.01M48.9 104.3h0.01M55.1 104.3h0.01M67.5 104.3h0.01M73.7 104.3h0.01M79.9 104.3h0.01M92.3 104.3h0.01M98.5 104.3h0.01M104.6 104.3h0.01M110.8 104.3h0.01M123.2 104.3h0.01M135.6 104.3h0.01M141.8 104.3h0.01M148.0 104.3h0.01M154.2 104.3h0.01M172.7 104.3h0.01M178.9 104.3h0.01M185.1 104.3h0.01M5.6 110.5h0.01M11.8 110.5h0.01M18.0 110.5h0.01M24.2 110.5h0.01M30.4 110.5h0.01M36.6 110.5h0.01M42.7 110.5h0.01M48.9 110.5h0.01M61.3 110.5h0.01M86.1 110.5h0.01M92.3 110.5h0.01M98.5 110.5h0.01M123.2 110.5h0.01M135.6 110.5h0.01M154.2 110.5h0.01M172.7 110.5h0.01M178.9 110.5h0.01M185.1 110.5h0.01M191.3 110.5h0.01M197.5 110.5h0.01M203.7 110.5h0.01M5.6 116.8h0.01M18.0 116.8h0.01M24.2 116.8h0.01M42.7 116.8h0.01M61.3 116.8h0.01M67.5 116.8h0.01M73.7 116.8h0.01M79.9 116.8h0.01M86.1 116.8h0.01M98.5 116.8h0.01M117.0 116.8h0.01M154.2 116.8h0.01M178.9 116.8h0.01M191.3 116.8h0.01M197.5 116.8h0.01M203.7 116.8h0.01M5.6 123.0h0.01M11.8 123.0h0.01M18.0 123.0h0.01M24.2 123.0h0.01M36.6 123.0h0.01M42.7 123.0h0.01M55.1 123.0h0.01M61.3 123.0h0.01M73.7 123.0h0.01M79.9 123.0h0.01M98.5 123.0h0.01M104.6 123.0h0.01M110.8 123.0h0.01M117.0 123.0h0.01M123.2 123.0h0.01M129.4 123.0h0.01M135.6 123.0h0.01M148.0 123.0h0.01M154.2 123.0h0.01M160.3 123.0h0.01M166.5 123.0h0.01M172.7 123.0h0.01M178.9 123.0h0.01M185.1 123.0h0.01M191.3 123.0h0.01M197.5 123.0h0.01M203.7 123.0h0.01M5.6 129.3h0.01M11.8 129.3h0.01M18.0 129.3h0.01M24.2 129.3h0.01M30.4 129.3h0.01M42.7 129.3h0.01M48.9 129.3h0.01M55.1 129.3h0.01M61.3 129.3h0.01M73.7 129.3h0.01M79.9 129.3h0.01M86.1 129.3h0.01M92.3 129.3h0.01M104.6 129.3h0.01M110.8 129.3h0.01M117.0 129.3h0.01M129.4 129.3h0.01M141.8 129.3h0.01M154.2 129.3h0.01M160.3 129.3h0.01M166.5 129.3h0.01M185.1 129.3h0.01M191.3 129.3h0.01M5.6 135.6h0.01M11.8 135.6h0.01M18.0 135.6h0.01M24.2 135.6h0.01M30.4 135.6h0.01M36.6 135.6h0.01M42.7 135.6h0.01M61.3 135.6h0.01M73.7 135.6h0.01M98.5 135.6h0.01M104.6 135.6h0.01M123.2 135.6h0.01M129.4 135.6h0.01M141.8 135.6h0.01M148.0 135.6h0.01M154.2 135.6h0.01M172.7 135.6h0.01M197.5 135.6h0.01M5.6 141.8h0.01M11.8 141.8h0.01M18.0 141.8h0.01M30.4 141.8h0.01M36.6 141.8h0.01M42.7 141.8h0.01M67.5 141.8h0.01M73.7 141.8h0.01M79.9 141.8h0.01M92.3 141.8h0.01M98.5 141.8h0.01M117.0 141.8h0.01M123.2 141.8h0.01M154.2 141.8h0.01M172.7 141.8h0.01M178.9 141.8h0.01M185.1 141.8h0.01M191.3 141.8h0.01M203.7 141.8h0.01M5.6 148.1h0.01M11.8 148.1h0.01M18.0 148.1h0.01M30.4 148.1h0.01M36.6 148.1h0.01M42.7 148.1h0.01M55.1 148.1h0.01M61.3 148.1h0.01M67.5 148.1h0.01M79.9 148.1h0.01M86.1 148.1h0.01M92.3 148.1h0.01M117.0 148.1h0.01M123.2 148.1h0.01M129.4 148.1h0.01M135.6 148.1h0.01M148.0 148.1h0.01M154.2 148.1h0.01M166.5 148.1h0.01M178.9 148.1h0.01M185.1 148.1h0.01M191.3 148.1h0.01M24.2 154.3h0.01M36.6 154.3h0.01M42.7 154.3h0.01M55.1 154.3h0.01M67.5 154.3h0.01M73.7 154.3h0.01M79.9 154.3h0.01M92.3 154.3h0.01M98.5 154.3h0.01M104.6 154.3h0.01M110.8 154.3h0.01M117.0 154.3h0.01M129.4 154.3h0.01M148.0 154.3h0.01M154.2 154.3h0.01M166.5 154.3h0.01M172.7 154.3h0.01M178.9 154.3h0.01M185.1 154.3h0.01M191.3 154.3h0.01M30.4 160.6h0.01M36.6 160.6h0.01M61.3 160.6h0.01M73.7 160.6h0.01M92.3 160.6h0.01M104.6 160.6h0.01M110.8 160.6h0.01M123.2 160.6h0.01M129.4 160.6h0.01M141.8 160.6h0.01M154.2 160.6h0.01M160.3 160.6h0.01M166.5 160.6h0.01M185.1 160.6h0.01M191.3 160.6h0.01M197.5 160.6h0.01M203.7 160.6h0.01M5.6 166.8h0.01M11.8 166.8h0.01M48.9 166.8h0.01M55.1 166.8h0.01M61.3 166.8h0.01M67.5 166.8h0.01M73.7 166.8h0.01M79.9 166.8h0.01M86.1 166.8h0.01M98.5 166.8h0.01M104.6 166.8h0.01M123.2 166.8h0.01M129.4 166.8h0.01M141.8 166.8h0.01M148.0 166.8h0.01M154.2 166.8h0.01M160.3 166.8h0.01M166.5 166.8h0.01M172.7 166.8h0.01M178.9 166.8h0.01M191.3 166.8h0.01M11.8 173.1h0.01M18.0 173.1h0.01M24.2 173.1h0.01M30.4 173.1h0.01M36.6 173.1h0.01M42.7 173.1h0.01M48.9 173.1h0.01M55.1 173.1h0.01M61.3 173.1h0.01M67.5 173.1h0.01M79.9 173.1h0.01M86.1 173.1h0.01M92.3 173.1h0.01M98.5 173.1h0.01M129.4 173.1h0.01M135.6 173.1h0.01M154.2 173.1h0.01M166.5 173.1h0.01M172.7 173.1h0.01M178.9 173.1h0.01M185.1 173.1h0.01M5.6 179.3h0.01M36.6 179.3h0.01M42.7 179.3h0.01M48.9 179.3h0.01M55.1 179.3h0.01M73.7 179.3h0.01M79.9 179.3h0.01M86.1 179.3h0.01M92.3 179.3h0.01M104.6 179.3h0.01M117.0 179.3h0.01M123.2 179.3h0.01M129.4 179.3h0.01M135.6 179.3h0.01M166.5 179.3h0.01M172.7 179.3h0.01M178.9 179.3h0.01M185.1 179.3h0.01M191.3 179.3h0.01" stroke="#333" stroke-opacity="0.4" stroke-width="1.0" stroke-linecap="round" fill="none"/><g stroke="#888" stroke-width="0.8"><line x1="8.6" y1="181.0" x2="8.6" y2="179.0"/><line x1="8.6" y1="0" x2="8.6" y2="2"/><line x1="19.0" y1="181.0" x2="19.0" y2="179.0"/><line x1="19.0" y1="0" x2="19.0" y2="2"/><line x1="29.4" y1="181.0" x2="29.4" y2="179.0"/><line x1="29.4" y1="0" x2="29.4" y2="2"/><line x1="39.8" y1="181.0" x2="39.8" y2="179.0"/><line x1="39.8" y1="0" x2="39.8" y2="2"/><line x1="50.2" y1="181.0" x2="50.2" y2="177.0"/><line x1="50.2" y1="0" x2="50.2" y2="4"/><line x1="60.6" y1="181.0" x2="60.6" y2="179.0"/><line x1="60.6" y1="0" x2="60.6" y2="2"/><line x1="71.0" y1="181.0" x2="71.0" y2="179.0"/><line x1="71.0" y1="0" x2="71.0" y2="2"/><line x1="81.4" y1="181.0" x2="81.4" y2="179.0"/><line x1="81.4" y1="0" x2="81.4" y2="2"/><line x1="91.8" y1="181.0" x2="91.8" y2="179.0"/><line x1="91.8" y1="0" x2="91.8" y2="2"/><line x1="102.2" y1="181.0" x2="102.2" y2="177.0"/><line x1="102.2" y1="0" x2="102.2" y2="4"/><line x1="112.6" y1="181.0" x2="112.6" y2="179.0"/><line x1="112.6" y1="0" x2="112.6" y2="2"/><line x1="123.0" y1="181.0" x2="123.0" y2="179.0"/><line x1="123.0" y1="0" x2="123.0" y2="2"/><line x1="133.4" y1="181.0" x2="133.4" y2="179.0"/><line x1="133.4" y1="0" x2="133.4" y2="2"/><line x1="143.8" y1="181.0" x2="143.8" y2="179.0"/><line x1="143.8" y1="0" x2="143.8" y2="2"/><line x1="154.2" y1="181.0" x2="154.2" y2="177.0"/><line x1="154.2" y1="0" x2="154.2" y2="4"/><line x1="164.6" y1="181.0" x2="164.6" y2="179.0"/><line x1="164.6" y1="0" x2="164.6" y2="2"/><line x1="175.0" y1="181.0" x2="175.0" y2="179.0"/><line x1="175.0" y1="0" x2="175.0" y2="2"/><line x1="185.4" y1="181.0" x2="185.4" y2="179.0"/><line x1="185.4" y1="0" x2="185.4" y2="2"/><line x1="195.8" y1="181.0" x2="195.8" y2="179.0"/><line x1="195.8" y1="0" x2="195.8" y2="2"/><line x1="206.2" y1="181.0" x2="206.2" y2="177.0"/><line x1="206.2" y1="0" x2="206.2" y2="4"/><line x1="0" y1="10.3" x2="2" y2="10.3"/><line x1="208.0" y1="10.3" x2="206.0" y2="10.3"/><line x1="0" y1="20.5" x2="2" y2="20.5"/><line x1="208.0" y1="20.5" x2="206.0" y2="20.5"/><line x1="0" y1="30.8" x2="2" y2="30.8"/><line x1="208.0" y1="30.8" x2="206.0" y2="30.8"/><line x1="0" y1="41.0" x2="2" y2="41.0"/><line x1="208.0" y1="41.0" x2="206.0" y2="41.0"/><line x1="0" y1="51.3" x2="4" y2="51.3"/><line x1="208.0" y1="51.3" x2="204.0" y2="51.3"/><line x1="0" y1="61.6" x2="2" y2="61.6"/><line x1="208.0" y1="61.6" x2="206.0" y2="61.6"/><line x1="0" y1="71.8" x2="2" y2="71.8"/><line x1="208.0" y1="71.8" x2="206.0" y2="71.8"/><line x1="0" y1="82.1" x2="2" y2="82.1"/><line x1="208.0" y1="82.1" x2="206.0" y2="82.1"/><line x1="0" y1="92.3" x2="2" y2="92.3"/><line x1="208.0" y1="92.3" x2="206.0" y2="92.3"/><line x1="0" y1="102.6" x2="4" y2="102.6"/><line x1="208.0" y1="102.6" x2="204.0" y2="102.6"/><line x1="0" y1="112.9" x2="2" y2="112.9"/><line x1="208.0" y1="112.9" x2="206.0" y2="112.9"/><line x1="0" y1="123.1" x2="2" y2="123.1"/><line x1="208.0" y1="123.1" x2="206.0" y2="123.1"/><line x1="0" y1="133.4" x2="2" y2="133.4"/><line x1="208.0" y1="133.4" x2="206.0" y2="133.4"/><line x1="0" y1="143.6" x2="2" y2="143.6"/><line x1="208.0" y1="143.6" x2="206.0" y2="143.6"/><line x1="0" y1="153.9" x2="4" y2="153.9"/><line x1="208.0" y1="153.9" x2="204.0" y2="153.9"/><line x1="0" y1="164.2" x2="2" y2="164.2"/><line x1="208.0" y1="164.2" x2="206.0" y2="164.2"/><line x1="0" y1="174.4" x2="2" y2="174.4"/><line x1="208.0" y1="174.4" x2="206.0" y2="174.4"/></g><rect x="0.4" y="0.4" width="207.2" height="180.2" fill="none" stroke="#999" stroke-width="1"/></svg>
</div>
<div class="title" style="left:245.3px;top:-0.5999999999999996px;">Flare-related magnetic vector change <i class='dl'>&delta;</i>B</div>
<div class="yl" style="left:300.3px;top:11.0px">-7.5</div>
<div class="yl" style="left:300.3px;top:62.2px">-8.0</div>
<div class="yl" style="left:300.3px;top:113.4px">-8.5</div>
<div class="yl" style="left:300.3px;top:164.60000000000002px">-9.0</div>
<div class="xl" style="left:371.5px;top:198.3px">32.0</div>
<div class="xl" style="left:423.4px;top:198.3px">32.5</div>
<div class="xl" style="left:475.3px;top:198.3px">33.0</div>
<div class="xl" style="left:527.2px;top:198.3px">33.5</div>
<div class="plot" style="left:33.0px;top:238.6px">
<svg width="208.0" height="181.0" viewBox="0 0 208.0 181.0"><filter id="bl10" x="-30%" y="-30%" width="160%" height="160%"><feGaussianBlur stdDeviation="4"/></filter><g filter="url(#bl10)"><rect x="26.00" y="-20.00" width="13.30" height="33.23" fill="#e6e6ff"/><rect x="52.00" y="-20.00" width="13.30" height="33.23" fill="#ffe6e6"/><rect x="65.00" y="-20.00" width="13.30" height="33.23" fill="#ffc8c8"/><rect x="78.00" y="-20.00" width="13.30" height="33.23" fill="#ffc8c8"/><rect x="91.00" y="-20.00" width="13.30" height="33.23" fill="#ffe6e6"/><rect x="104.00" y="-20.00" width="13.30" height="33.23" fill="#ffe6e6"/><rect x="130.00" y="-20.00" width="13.30" height="33.23" fill="#e6e6ff"/><rect x="143.00" y="-20.00" width="13.30" height="33.23" fill="#e6e6ff"/><rect x="182.00" y="-20.00" width="13.30" height="33.23" fill="#e6e6ff"/><rect x="13.00" y="12.93" width="13.30" height="13.23" fill="#e6e6ff"/><rect x="39.00" y="12.93" width="13.30" height="13.23" fill="#ffe6e6"/><rect x="52.00" y="12.93" width="13.30" height="13.23" fill="#ffc8c8"/><rect x="65.00" y="12.93" width="13.30" height="13.23" fill="#ffe6e6"/><rect x="78.00" y="12.93" width="13.30" height="13.23" fill="#ffe6e6"/><rect x="91.00" y="12.93" width="13.30" height="13.23" fill="#e6e6ff"/><rect x="104.00" y="12.93" width="13.30" height="13.23" fill="#c8c8ff"/><rect x="117.00" y="12.93" width="13.30" height="13.23" fill="#e6e6ff"/><rect x="156.00" y="12.93" width="13.30" height="13.23" fill="#ffe6e6"/><rect x="182.00" y="12.93" width="13.30" height="13.23" fill="#e6e6ff"/><rect x="-20.00" y="25.86" width="33.30" height="13.23" fill="#e6e6ff"/><rect x="26.00" y="25.86" width="13.30" height="13.23" fill="#e6e6ff"/><rect x="52.00" y="25.86" width="13.30" height="13.23" fill="#ffe6e6"/><rect x="65.00" y="25.86" width="13.30" height="13.23" fill="#e6e6ff"/><rect x="78.00" y="25.86" width="13.30" height="13.23" fill="#c8c8ff"/><rect x="91.00" y="25.86" width="13.30" height="13.23" fill="#9696ff"/><rect x="104.00" y="25.86" width="13.30" height="13.23" fill="#9696ff"/><rect x="117.00" y="25.86" width="13.30" height="13.23" fill="#9696ff"/><rect x="130.00" y="25.86" width="13.30" height="13.23" fill="#c8c8ff"/><rect x="143.00" y="25.86" width="13.30" height="13.23" fill="#ffe6e6"/><rect x="169.00" y="25.86" width="13.30" height="13.23" fill="#ffe6e6"/><rect x="182.00" y="25.86" width="13.30" height="13.23" fill="#e6e6ff"/><rect x="-20.00" y="38.79" width="33.30" height="13.23" fill="#e6e6ff"/><rect x="13.00" y="38.79" width="13.30" height="13.23" fill="#c8c8ff"/><rect x="26.00" y="38.79" width="13.30" height="13.23" fill="#c8c8ff"/><rect x="39.00" y="38.79" width="13.30" height="13.23" fill="#e6e6ff"/><rect x="52.00" y="38.79" width="13.30" height="13.23" fill="#e6e6ff"/><rect x="65.00" y="38.79" width="13.30" height="13.23" fill="#c8c8ff"/><rect x="78.00" y="38.79" width="13.30" height="13.23" fill="#9696ff"/><rect x="91.00" y="38.79" width="13.30" height="13.23" fill="#9696ff"/><rect x="104.00" y="38.79" width="13.30" height="13.23" fill="#9696ff"/><rect x="117.00" y="38.79" width="13.30" height="13.23" fill="#9696ff"/><rect x="130.00" y="38.79" width="13.30" height="13.23" fill="#9696ff"/><rect x="143.00" y="38.79" width="13.30" height="13.23" fill="#c8c8ff"/><rect x="156.00" y="38.79" width="13.30" height="13.23" fill="#ffe6e6"/><rect x="195.00" y="38.79" width="33.30" height="13.23" fill="#e6e6ff"/><rect x="13.00" y="51.71" width="13.30" height="13.23" fill="#e6e6ff"/><rect x="39.00" y="51.71" width="13.30" height="13.23" fill="#e6e6ff"/><rect x="52.00" y="51.71" width="13.30" height="13.23" fill="#ffe6e6"/><rect x="65.00" y="51.71" width="13.30" height="13.23" fill="#c8c8ff"/><rect x="78.00" y="51.71" width="13.30" height="13.23" fill="#9696ff"/><rect x="91.00" y="51.71" width="13.30" height="13.23" fill="#9696ff"/><rect x="104.00" y="51.71" width="13.30" height="13.23" fill="#9696ff"/><rect x="117.00" y="51.71" width="13.30" height="13.23" fill="#9696ff"/><rect x="130.00" y="51.71" width="13.30" height="13.23" fill="#9696ff"/><rect x="143.00" y="51.71" width="13.30" height="13.23" fill="#c8c8ff"/><rect x="156.00" y="51.71" width="13.30" height="13.23" fill="#e6e6ff"/><rect x="182.00" y="51.71" width="13.30" height="13.23" fill="#ffe6e6"/><rect x="-20.00" y="64.64" width="33.30" height="13.23" fill="#ffe6e6"/><rect x="13.00" y="64.64" width="13.30" height="13.23" fill="#ffe6e6"/><rect x="26.00" y="64.64" width="13.30" height="13.23" fill="#ffc8c8"/><rect x="39.00" y="64.64" width="13.30" height="13.23" fill="#ffe6e6"/><rect x="52.00" y="64.64" width="13.30" height="13.23" fill="#ffe6e6"/><rect x="65.00" y="64.64" width="13.30" height="13.23" fill="#e6e6ff"/><rect x="78.00" y="64.64" width="13.30" height="13.23" fill="#9696ff"/><rect x="91.00" y="64.64" width="13.30" height="13.23" fill="#9696ff"/><rect x="104.00" y="64.64" width="13.30" height="13.23" fill="#9696ff"/><rect x="117.00" y="64.64" width="13.30" height="13.23" fill="#9696ff"/><rect x="130.00" y="64.64" width="13.30" height="13.23" fill="#9696ff"/><rect x="143.00" y="64.64" width="13.30" height="13.23" fill="#c8c8ff"/><rect x="156.00" y="64.64" width="13.30" height="13.23" fill="#e6e6ff"/><rect x="169.00" y="64.64" width="13.30" height="13.23" fill="#ffe6e6"/><rect x="-20.00" y="77.57" width="33.30" height="13.23" fill="#ffe6e6"/><rect x="13.00" y="77.57" width="13.30" height="13.23" fill="#ffc8c8"/><rect x="26.00" y="77.57" width="13.30" height="13.23" fill="#ffe6e6"/><rect x="39.00" y="77.57" width="13.30" height="13.23" fill="#ffe6e6"/><rect x="52.00" y="77.57" width="13.30" height="13.23" fill="#ffc8c8"/><rect x="65.00" y="77.57" width="13.30" height="13.23" fill="#c8c8ff"/><rect x="78.00" y="77.57" width="13.30" height="13.23" fill="#9696ff"/><rect x="91.00" y="77.57" width="13.30" height="13.23" fill="#9696ff"/><rect x="104.00" y="77.57" width="13.30" height="13.23" fill="#9696ff"/><rect x="117.00" y="77.57" width="13.30" height="13.23" fill="#9696ff"/><rect x="130.00" y="77.57" width="13.30" height="13.23" fill="#9696ff"/><rect x="143.00" y="77.57" width="13.30" height="13.23" fill="#c8c8ff"/><rect x="169.00" y="77.57" width="13.30" height="13.23" fill="#ffc8c8"/><rect x="182.00" y="77.57" width="13.30" height="13.23" fill="#ffe6e6"/><rect x="-20.00" y="90.50" width="33.30" height="13.23" fill="#ffe6e6"/><rect x="13.00" y="90.50" width="13.30" height="13.23" fill="#ffc8c8"/><rect x="26.00" y="90.50" width="13.30" height="13.23" fill="#ffe6e6"/><rect x="39.00" y="90.50" width="13.30" height="13.23" fill="#ffe6e6"/><rect x="52.00" y="90.50" width="13.30" height="13.23" fill="#e6e6ff"/><rect x="65.00" y="90.50" width="13.30" height="13.23" fill="#c8c8ff"/><rect x="78.00" y="90.50" width="13.30" height="13.23" fill="#c8c8ff"/><rect x="91.00" y="90.50" width="13.30" height="13.23" fill="#9696ff"/><rect x="104.00" y="90.50" width="13.30" height="13.23" fill="#9696ff"/><rect x="117.00" y="90.50" width="13.30" height="13.23" fill="#9696ff"/><rect x="130.00" y="90.50" width="13.30" height="13.23" fill="#c8c8ff"/><rect x="156.00" y="90.50" width="13.30" height="13.23" fill="#ffc8c8"/><rect x="169.00" y="90.50" width="13.30" height="13.23" fill="#ff9696"/><rect x="182.00" y="90.50" width="13.30" height="13.23" fill="#ffe6e6"/><rect x="195.00" y="90.50" width="33.30" height="13.23" fill="#ffe6e6"/><rect x="13.00" y="103.43" width="13.30" height="13.23" fill="#ffe6e6"/><rect x="26.00" y="103.43" width="13.30" height="13.23" fill="#ffe6e6"/><rect x="39.00" y="103.43" width="13.30" height="13.23" fill="#e6e6ff"/><rect x="52.00" y="103.43" width="13.30" height="13.23" fill="#c8c8ff"/><rect x="65.00" y="103.43" width="13.30" height="13.23" fill="#ffe6e6"/><rect x="78.00" y="103.43" width="13.30" height="13.23" fill="#e6e6ff"/><rect x="91.00" y="103.43" width="13.30" height="13.23" fill="#c8c8ff"/><rect x="104.00" y="103.43" width="13.30" height="13.23" fill="#9696ff"/><rect x="117.00" y="103.43" width="13.30" height="13.23" fill="#c8c8ff"/><rect x="143.00" y="103.43" width="13.30" height="13.23" fill="#ffc8c8"/><rect x="156.00" y="103.43" width="13.30" height="13.23" fill="#ffe6e6"/><rect x="169.00" y="103.43" width="13.30" height="13.23" fill="#ffc8c8"/><rect x="182.00" y="103.43" width="13.30" height="13.23" fill="#ffe6e6"/><rect x="-20.00" y="116.36" width="33.30" height="13.23" fill="#ffe6e6"/><rect x="13.00" y="116.36" width="13.30" height="13.23" fill="#ffe6e6"/><rect x="26.00" y="116.36" width="13.30" height="13.23" fill="#e6e6ff"/><rect x="39.00" y="116.36" width="13.30" height="13.23" fill="#c8c8ff"/><rect x="52.00" y="116.36" width="13.30" height="13.23" fill="#e6e6ff"/><rect x="65.00" y="116.36" width="13.30" height="13.23" fill="#ffe6e6"/><rect x="78.00" y="116.36" width="13.30" height="13.23" fill="#e6e6ff"/><rect x="91.00" y="116.36" width="13.30" height="13.23" fill="#c8c8ff"/><rect x="104.00" y="116.36" width="13.30" height="13.23" fill="#9696ff"/><rect x="117.00" y="116.36" width="13.30" height="13.23" fill="#c8c8ff"/><rect x="130.00" y="116.36" width="13.30" height="13.23" fill="#ffe6e6"/><rect x="156.00" y="116.36" width="13.30" height="13.23" fill="#ffe6e6"/><rect x="169.00" y="116.36" width="13.30" height="13.23" fill="#ffc8c8"/><rect x="182.00" y="116.36" width="13.30" height="13.23" fill="#ffe6e6"/><rect x="-20.00" y="129.29" width="33.30" height="13.23" fill="#ffe6e6"/><rect x="13.00" y="129.29" width="13.30" height="13.23" fill="#ffe6e6"/><rect x="39.00" y="129.29" width="13.30" height="13.23" fill="#e6e6ff"/><rect x="52.00" y="129.29" width="13.30" height="13.23" fill="#ffe6e6"/><rect x="65.00" y="129.29" width="13.30" height="13.23" fill="#ffe6e6"/><rect x="91.00" y="129.29" width="13.30" height="13.23" fill="#c8c8ff"/><rect x="104.00" y="129.29" width="13.30" height="13.23" fill="#9696ff"/><rect x="117.00" y="129.29" width="13.30" height="13.23" fill="#c8c8ff"/><rect x="130.00" y="129.29" width="13.30" height="13.23" fill="#e6e6ff"/><rect x="156.00" y="129.29" width="13.30" height="13.23" fill="#ffe6e6"/><rect x="169.00" y="129.29" width="13.30" height="13.23" fill="#ffc8c8"/><rect x="-20.00" y="142.21" width="33.30" height="13.23" fill="#e6e6ff"/><rect x="13.00" y="142.21" width="13.30" height="13.23" fill="#e6e6ff"/><rect x="26.00" y="142.21" width="13.30" height="13.23" fill="#ffe6e6"/><rect x="39.00" y="142.21" width="13.30" height="13.23" fill="#e6e6ff"/><rect x="52.00" y="142.21" width="13.30" height="13.23" fill="#e6e6ff"/><rect x="65.00" y="142.21" width="13.30" height="13.23" fill="#ffe6e6"/><rect x="91.00" y="142.21" width="13.30" height="13.23" fill="#e6e6ff"/><rect x="104.00" y="142.21" width="13.30" height="13.23" fill="#9696ff"/><rect x="117.00" y="142.21" width="13.30" height="13.23" fill="#e6e6ff"/><rect x="156.00" y="142.21" width="13.30" height="13.23" fill="#ffe6e6"/><rect x="169.00" y="142.21" width="13.30" height="13.23" fill="#ffe6e6"/><rect x="182.00" y="142.21" width="13.30" height="13.23" fill="#ffe6e6"/><rect x="13.00" y="155.14" width="13.30" height="13.23" fill="#e6e6ff"/><rect x="26.00" y="155.14" width="13.30" height="13.23" fill="#ffe6e6"/><rect x="39.00" y="155.14" width="13.30" height="13.23" fill="#e6e6ff"/><rect x="65.00" y="155.14" width="13.30" height="13.23" fill="#ffe6e6"/><rect x="78.00" y="155.14" width="13.30" height="13.23" fill="#ffe6e6"/><rect x="91.00" y="155.14" width="13.30" height="13.23" fill="#e6e6ff"/><rect x="104.00" y="155.14" width="13.30" height="13.23" fill="#9696ff"/><rect x="117.00" y="155.14" width="13.30" height="13.23" fill="#e6e6ff"/><rect x="130.00" y="155.14" width="13.30" height="13.23" fill="#e6e6ff"/><rect x="156.00" y="155.14" width="13.30" height="13.23" fill="#ffe6e6"/><rect x="182.00" y="155.14" width="13.30" height="13.23" fill="#ffe6e6"/><rect x="13.00" y="168.07" width="13.30" height="33.23" fill="#ffe6e6"/><rect x="26.00" y="168.07" width="13.30" height="33.23" fill="#ffe6e6"/><rect x="65.00" y="168.07" width="13.30" height="33.23" fill="#ffe6e6"/><rect x="78.00" y="168.07" width="13.30" height="33.23" fill="#e6e6ff"/><rect x="91.00" y="168.07" width="13.30" height="33.23" fill="#e6e6ff"/><rect x="104.00" y="168.07" width="13.30" height="33.23" fill="#9696ff"/><rect x="117.00" y="168.07" width="13.30" height="33.23" fill="#e6e6ff"/><rect x="130.00" y="168.07" width="13.30" height="33.23" fill="#e6e6ff"/><rect x="156.00" y="168.07" width="13.30" height="33.23" fill="#ffe6e6"/></g><filter id="o10a" x="-50%" y="-50%" width="200%" height="200%"><feGaussianBlur stdDeviation="3.5"/></filter><filter id="o10b" x="-50%" y="-50%" width="200%" height="200%"><feGaussianBlur stdDeviation="1.3"/></filter><filter id="o10c" x="-50%" y="-50%" width="200%" height="200%"><feGaussianBlur stdDeviation="0.8"/></filter><g filter="url(#o10a)"><path d="M80,30 C88,20 105,16 118,22 C130,28 142,40 146,55 C149,70 145,88 135,98 L138,55 Z" fill="#9d9dff"/><path d="M66,55 C66,40 75,28 88,24 L92,40 L75,60 Z" fill="#a8a8ff"/><path d="M80,100 L126,95 L122,125 L112,181 L90,181 L86,125 Z" fill="#a4a4ff"/><path d="M96,104 L124,96 L110,181 L96,181 Z" fill="#7070ff"/><path d="M137,52 L149,55 L150,90 L139,90 Z" fill="#c4c4ff"/></g><g filter="url(#o10b)"><path d="M71,44 L75,33 L85,25 L98,21 L109,24 L121,39 L133,56 L130,61 L125,66 L124,78 L122,89 L113,99 L99,102.5 L89,98.5 L81,91 L77,78 Z" fill="#1919ff"/><ellipse cx="140" cy="63" rx="5" ry="10" fill="#3a3aff"/><ellipse cx="130" cy="69" rx="3.5" ry="7" fill="#f4eeee"/><ellipse cx="67" cy="88" rx="5" ry="5.5" fill="#6a6aff"/><circle cx="82" cy="78.5" r="10" fill="#ffd0d0"/><circle cx="82" cy="78.5" r="8.2" fill="#ff1c1c"/><ellipse cx="115" cy="51.8" rx="6.5" ry="3.6" transform="rotate(45 115 51.8)" fill="#fff"/><path d="M86.6,89.8 L54,120" stroke="#4a4aff" stroke-width="2.2"/></g><g filter="url(#o10c)"><ellipse cx="115" cy="51.8" rx="4.8" ry="2.2" transform="rotate(45 115 51.8)" fill="#ff1c1c"/><circle cx="97" cy="60" r="1.6" fill="#dde"/><circle cx="104" cy="59" r="1.6" fill="#dde"/><circle cx="111" cy="61" r="1.4" fill="#dde"/><circle cx="112.5" cy="159.5" r="3.2" fill="#ffd0d0"/><circle cx="112.5" cy="159.5" r="2.4" fill="#ff2020"/><circle cx="110.5" cy="170.5" r="3.2" fill="#ffd0d0"/><circle cx="110.5" cy="170.5" r="2.4" fill="#ff2020"/><circle cx="119.6" cy="139.5" r="2.2" fill="#3030ff"/><path d="M129,95 L137,93 L133,112 L127,112 Z" fill="#ffb0b0"/></g><g stroke="#000" stroke-width="0.7" fill="none"><path d="M135.5,90 C137.5,91 136,95 134,98 L128,108 C126,111 125,114 123,115 C121.5,115 121.3,112 122,108 C123,102 126,96 130,92.5 C132,90.5 134,89.5 135.5,90 Z"/><path d="M122,114.5 C124,115 124,118 123,121 L120,128 C119,130 117.5,131 116.5,130 C115.5,129 116,126 117,123 C118,119 120,114.5 122,114.5 Z"/><path d="M115,132.6 L117.3,135.5 L115,139 L112.8,135.8 Z"/><ellipse cx="112.6" cy="143" rx="1.7" ry="3" transform="rotate(20 112.6 143)"/><ellipse cx="92.3" cy="45.8" rx="4.3" ry="2.3"/><ellipse cx="86.5" cy="48.6" rx="3.2" ry="1.9"/><ellipse cx="81.1" cy="53.5" rx="1.6" ry="3.3"/></g><path d="M92.3 60.5L92.3 63.8M98.5 60.5L98.5 63.8M104.6 60.5L104.6 63.8M110.8 60.5L110.8 63.8M117.0 60.5L117.0 63.8M92.3 66.8L92.3 70.0M98.5 66.8L98.5 70.0M104.6 66.8L104.6 70.0M110.8 66.8L110.8 70.0M117.0 66.8L117.0 70.0M92.3 73.0L92.3 76.2M98.5 73.0L98.5 76.2M104.6 73.0L104.6 76.2M110.8 73.0L110.8 76.2M117.0 73.0L117.0 76.2M92.3 79.3L92.3 82.5M98.5 79.3L98.5 82.5M104.6 79.3L104.6 82.5M110.8 79.3L110.8 82.5M117.0 79.3L117.0 82.5M92.3 85.5L92.3 88.8M98.5 85.5L98.5 88.8M104.6 85.5L104.6 88.8M110.8 85.5L110.8 88.8M117.0 85.5L117.0 88.8M92.3 91.8L92.3 95.0M98.5 91.8L98.5 95.0M104.6 91.8L104.6 95.0M110.8 91.8L110.8 95.0M117.0 91.8L117.0 95.0" stroke="#000" stroke-opacity="0.56" stroke-width="0.85" stroke-linecap="round" fill="none"/><path d="M92.3 63.8h0.01M98.5 63.8h0.01M104.6 63.8h0.01M110.8 63.8h0.01M117.0 63.8h0.01M92.3 70.0h0.01M98.5 70.0h0.01M104.6 70.0h0.01M110.8 70.0h0.01M117.0 70.0h0.01M92.3 76.2h0.01M98.5 76.2h0.01M104.6 76.2h0.01M110.8 76.2h0.01M117.0 76.2h0.01M92.3 82.5h0.01M98.5 82.5h0.01M104.6 82.5h0.01M110.8 82.5h0.01M117.0 82.5h0.01M92.3 88.8h0.01M98.5 88.8h0.01M104.6 88.8h0.01M110.8 88.8h0.01M117.0 88.8h0.01M92.3 95.0h0.01M98.5 95.0h0.01M104.6 95.0h0.01M110.8 95.0h0.01M117.0 95.0h0.01" stroke="#000" stroke-opacity="0.70" stroke-width="1.5" stroke-linecap="round" fill="none"/><path d="M42.7 4.3h0.01M48.9 4.3h0.01M73.7 4.3h0.01M79.9 4.3h0.01M86.1 4.3h0.01M92.3 4.3h0.01M98.5 4.3h0.01M104.6 4.3h0.01M110.8 4.3h0.01M117.0 4.3h0.01M135.6 4.3h0.01M148.0 4.3h0.01M160.3 4.3h0.01M166.5 4.3h0.01M178.9 4.3h0.01M185.1 4.3h0.01M203.7 4.3h0.01M11.8 10.6h0.01M24.2 10.6h0.01M55.1 10.6h0.01M61.3 10.6h0.01M67.5 10.6h0.01M73.7 10.6h0.01M79.9 10.6h0.01M86.1 10.6h0.01M98.5 10.6h0.01M110.8 10.6h0.01M117.0 10.6h0.01M129.4 10.6h0.01M135.6 10.6h0.01M141.8 10.6h0.01M154.2 10.6h0.01M166.5 10.6h0.01M185.1 10.6h0.01M197.5 10.6h0.01M203.7 10.6h0.01M5.6 16.8h0.01M11.8 16.8h0.01M18.0 16.8h0.01M30.4 16.8h0.01M55.1 16.8h0.01M61.3 16.8h0.01M67.5 16.8h0.01M79.9 16.8h0.01M104.6 16.8h0.01M117.0 16.8h0.01M123.2 16.8h0.01M141.8 16.8h0.01M154.2 16.8h0.01M160.3 16.8h0.01M166.5 16.8h0.01M172.7 16.8h0.01M178.9 16.8h0.01M185.1 16.8h0.01M203.7 16.8h0.01M5.6 23.1h0.01M18.0 23.1h0.01M24.2 23.1h0.01M30.4 23.1h0.01M36.6 23.1h0.01M48.9 23.1h0.01M55.1 23.1h0.01M61.3 23.1h0.01M73.7 23.1h0.01M79.9 23.1h0.01M92.3 23.1h0.01M123.2 23.1h0.01M129.4 23.1h0.01M135.6 23.1h0.01M148.0 23.1h0.01M154.2 23.1h0.01M178.9 23.1h0.01M185.1 23.1h0.01M197.5 23.1h0.01M203.7 23.1h0.01M5.6 29.3h0.01M11.8 29.3h0.01M18.0 29.3h0.01M42.7 29.3h0.01M48.9 29.3h0.01M55.1 29.3h0.01M61.3 29.3h0.01M79.9 29.3h0.01M117.0 29.3h0.01M129.4 29.3h0.01M135.6 29.3h0.01M154.2 29.3h0.01M172.7 29.3h0.01M178.9 29.3h0.01M185.1 29.3h0.01M191.3 29.3h0.01M203.7 29.3h0.01M24.2 35.5h0.01M48.9 35.5h0.01M86.1 35.5h0.01M92.3 35.5h0.01M98.5 35.5h0.01M117.0 35.5h0.01M141.8 35.5h0.01M154.2 35.5h0.01M166.5 35.5h0.01M197.5 35.5h0.01M203.7 35.5h0.01M5.6 41.8h0.01M18.0 41.8h0.01M36.6 41.8h0.01M42.7 41.8h0.01M48.9 41.8h0.01M55.1 41.8h0.01M61.3 41.8h0.01M67.5 41.8h0.01M73.7 41.8h0.01M79.9 41.8h0.01M86.1 41.8h0.01M92.3 41.8h0.01M98.5 41.8h0.01M110.8 41.8h0.01M117.0 41.8h0.01M129.4 41.8h0.01M135.6 41.8h0.01M141.8 41.8h0.01M148.0 41.8h0.01M154.2 41.8h0.01M166.5 41.8h0.01M172.7 41.8h0.01M185.1 41.8h0.01M191.3 41.8h0.01M197.5 41.8h0.01M203.7 41.8h0.01M18.0 48.0h0.01M36.6 48.0h0.01M42.7 48.0h0.01M48.9 48.0h0.01M55.1 48.0h0.01M79.9 48.0h0.01M92.3 48.0h0.01M98.5 48.0h0.01M104.6 48.0h0.01M117.0 48.0h0.01M135.6 48.0h0.01M141.8 48.0h0.01M148.0 48.0h0.01M154.2 48.0h0.01M166.5 48.0h0.01M185.1 48.0h0.01M191.3 48.0h0.01M203.7 48.0h0.01M5.6 54.3h0.01M11.8 54.3h0.01M24.2 54.3h0.01M30.4 54.3h0.01M36.6 54.3h0.01M42.7 54.3h0.01M55.1 54.3h0.01M61.3 54.3h0.01M79.9 54.3h0.01M86.1 54.3h0.01M92.3 54.3h0.01M110.8 54.3h0.01M117.0 54.3h0.01M123.2 54.3h0.01M135.6 54.3h0.01M148.0 54.3h0.01M172.7 54.3h0.01M185.1 54.3h0.01M191.3 54.3h0.01M197.5 54.3h0.01M203.7 54.3h0.01M5.6 60.5h0.01M11.8 60.5h0.01M18.0 60.5h0.01M30.4 60.5h0.01M36.6 60.5h0.01M42.7 60.5h0.01M48.9 60.5h0.01M67.5 60.5h0.01M73.7 60.5h0.01M86.1 60.5h0.01M123.2 60.5h0.01M141.8 60.5h0.01M154.2 60.5h0.01M160.3 60.5h0.01M172.7 60.5h0.01M178.9 60.5h0.01M191.3 60.5h0.01M5.6 66.8h0.01M11.8 66.8h0.01M30.4 66.8h0.01M36.6 66.8h0.01M42.7 66.8h0.01M48.9 66.8h0.01M55.1 66.8h0.01M61.3 66.8h0.01M67.5 66.8h0.01M79.9 66.8h0.01M86.1 66.8h0.01M141.8 66.8h0.01M172.7 66.8h0.01M185.1 66.8h0.01M5.6 73.0h0.01M11.8 73.0h0.01M24.2 73.0h0.01M36.6 73.0h0.01M42.7 73.0h0.01M55.1 73.0h0.01M61.3 73.0h0.01M67.5 73.0h0.01M73.7 73.0h0.01M79.9 73.0h0.01M86.1 73.0h0.01M135.6 73.0h0.01M141.8 73.0h0.01M148.0 73.0h0.01M160.3 73.0h0.01M172.7 73.0h0.01M178.9 73.0h0.01M191.3 73.0h0.01M203.7 73.0h0.01M11.8 79.3h0.01M24.2 79.3h0.01M30.4 79.3h0.01M36.6 79.3h0.01M48.9 79.3h0.01M55.1 79.3h0.01M61.3 79.3h0.01M67.5 79.3h0.01M79.9 79.3h0.01M129.4 79.3h0.01M141.8 79.3h0.01M148.0 79.3h0.01M154.2 79.3h0.01M160.3 79.3h0.01M172.7 79.3h0.01M178.9 79.3h0.01M191.3 79.3h0.01M203.7 79.3h0.01M5.6 85.5h0.01M24.2 85.5h0.01M30.4 85.5h0.01M55.1 85.5h0.01M67.5 85.5h0.01M73.7 85.5h0.01M79.9 85.5h0.01M123.2 85.5h0.01M129.4 85.5h0.01M135.6 85.5h0.01M160.3 85.5h0.01M172.7 85.5h0.01M178.9 85.5h0.01M185.1 85.5h0.01M197.5 85.5h0.01M203.7 85.5h0.01M5.6 91.8h0.01M11.8 91.8h0.01M18.0 91.8h0.01M30.4 91.8h0.01M42.7 91.8h0.01M48.9 91.8h0.01M67.5 91.8h0.01M73.7 91.8h0.01M79.9 91.8h0.01M86.1 91.8h0.01M123.2 91.8h0.01M129.4 91.8h0.01M135.6 91.8h0.01M148.0 91.8h0.01M154.2 91.8h0.01M160.3 91.8h0.01M166.5 91.8h0.01M172.7 91.8h0.01M178.9 91.8h0.01M185.1 91.8h0.01M191.3 91.8h0.01M203.7 91.8h0.01M24.2 98.0h0.01M36.6 98.0h0.01M48.9 98.0h0.01M67.5 98.0h0.01M73.7 98.0h0.01M79.9 98.0h0.01M86.1 98.0h0.01M92.3 98.0h0.01M98.5 98.0h0.01M110.8 98.0h0.01M117.0 98.0h0.01M123.2 98.0h0.01M129.4 98.0h0.01M148.0 98.0h0.01M154.2 98.0h0.01M178.9 98.0h0.01M191.3 98.0h0.01M197.5 98.0h0.01M5.6 104.3h0.01M11.8 104.3h0.01M18.0 104.3h0.01M30.4 104.3h0.01M36.6 104.3h0.01M42.7 104.3h0.01M48.9 104.3h0.01M61.3 104.3h0.01M73.7 104.3h0.01M79.9 104.3h0.01M86.1 104.3h0.01M92.3 104.3h0.01M98.5 104.3h0.01M104.6 104.3h0.01M110.8 104.3h0.01M117.0 104.3h0.01M123.2 104.3h0.01M129.4 104.3h0.01M141.8 104.3h0.01M148.0 104.3h0.01M154.2 104.3h0.01M160.3 104.3h0.01M166.5 104.3h0.01M172.7 104.3h0.01M178.9 104.3h0.01M185.1 104.3h0.01M197.5 104.3h0.01M5.6 110.5h0.01M11.8 110.5h0.01M18.0 110.5h0.01M24.2 110.5h0.01M30.4 110.5h0.01M36.6 110.5h0.01M61.3 110.5h0.01M67.5 110.5h0.01M79.9 110.5h0.01M86.1 110.5h0.01M92.3 110.5h0.01M98.5 110.5h0.01M117.0 110.5h0.01M123.2 110.5h0.01M129.4 110.5h0.01M135.6 110.5h0.01M141.8 110.5h0.01M148.0 110.5h0.01M154.2 110.5h0.01M160.3 110.5h0.01M166.5 110.5h0.01M178.9 110.5h0.01M185.1 110.5h0.01M191.3 110.5h0.01M197.5 110.5h0.01M203.7 110.5h0.01M5.6 116.8h0.01M11.8 116.8h0.01M24.2 116.8h0.01M48.9 116.8h0.01M55.1 116.8h0.01M92.3 116.8h0.01M104.6 116.8h0.01M110.8 116.8h0.01M117.0 116.8h0.01M123.2 116.8h0.01M129.4 116.8h0.01M141.8 116.8h0.01M148.0 116.8h0.01M160.3 116.8h0.01M166.5 116.8h0.01M172.7 116.8h0.01M178.9 116.8h0.01M185.1 116.8h0.01M5.6 123.0h0.01M11.8 123.0h0.01M18.0 123.0h0.01M24.2 123.0h0.01M30.4 123.0h0.01M36.6 123.0h0.01M55.1 123.0h0.01M61.3 123.0h0.01M67.5 123.0h0.01M79.9 123.0h0.01M98.5 123.0h0.01M104.6 123.0h0.01M117.0 123.0h0.01M123.2 123.0h0.01M129.4 123.0h0.01M148.0 123.0h0.01M160.3 123.0h0.01M166.5 123.0h0.01M178.9 123.0h0.01M185.1 123.0h0.01M197.5 123.0h0.01M203.7 123.0h0.01M5.6 129.3h0.01M18.0 129.3h0.01M24.2 129.3h0.01M30.4 129.3h0.01M36.6 129.3h0.01M42.7 129.3h0.01M48.9 129.3h0.01M61.3 129.3h0.01M67.5 129.3h0.01M73.7 129.3h0.01M104.6 129.3h0.01M110.8 129.3h0.01M123.2 129.3h0.01M129.4 129.3h0.01M135.6 129.3h0.01M141.8 129.3h0.01M160.3 129.3h0.01M172.7 129.3h0.01M203.7 129.3h0.01M5.6 135.6h0.01M11.8 135.6h0.01M18.0 135.6h0.01M24.2 135.6h0.01M30.4 135.6h0.01M36.6 135.6h0.01M42.7 135.6h0.01M48.9 135.6h0.01M55.1 135.6h0.01M61.3 135.6h0.01M73.7 135.6h0.01M110.8 135.6h0.01M123.2 135.6h0.01M129.4 135.6h0.01M141.8 135.6h0.01M148.0 135.6h0.01M154.2 135.6h0.01M160.3 135.6h0.01M166.5 135.6h0.01M172.7 135.6h0.01M191.3 135.6h0.01M203.7 135.6h0.01M11.8 141.8h0.01M67.5 141.8h0.01M73.7 141.8h0.01M86.1 141.8h0.01M98.5 141.8h0.01M104.6 141.8h0.01M110.8 141.8h0.01M117.0 141.8h0.01M123.2 141.8h0.01M154.2 141.8h0.01M160.3 141.8h0.01M172.7 141.8h0.01M185.1 141.8h0.01M197.5 141.8h0.01M203.7 141.8h0.01M5.6 148.1h0.01M24.2 148.1h0.01M42.7 148.1h0.01M48.9 148.1h0.01M55.1 148.1h0.01M79.9 148.1h0.01M86.1 148.1h0.01M92.3 148.1h0.01M104.6 148.1h0.01M110.8 148.1h0.01M129.4 148.1h0.01M135.6 148.1h0.01M141.8 148.1h0.01M148.0 148.1h0.01M160.3 148.1h0.01M166.5 148.1h0.01M172.7 148.1h0.01M197.5 148.1h0.01M203.7 148.1h0.01M18.0 154.3h0.01M42.7 154.3h0.01M61.3 154.3h0.01M67.5 154.3h0.01M73.7 154.3h0.01M79.9 154.3h0.01M86.1 154.3h0.01M92.3 154.3h0.01M104.6 154.3h0.01M166.5 154.3h0.01M172.7 154.3h0.01M178.9 154.3h0.01M185.1 154.3h0.01M191.3 154.3h0.01M197.5 154.3h0.01M11.8 160.6h0.01M18.0 160.6h0.01M24.2 160.6h0.01M30.4 160.6h0.01M36.6 160.6h0.01M42.7 160.6h0.01M48.9 160.6h0.01M61.3 160.6h0.01M79.9 160.6h0.01M98.5 160.6h0.01M104.6 160.6h0.01M110.8 160.6h0.01M117.0 160.6h0.01M135.6 160.6h0.01M141.8 160.6h0.01M148.0 160.6h0.01M166.5 160.6h0.01M172.7 160.6h0.01M178.9 160.6h0.01M191.3 160.6h0.01M197.5 160.6h0.01M203.7 160.6h0.01M5.6 166.8h0.01M18.0 166.8h0.01M24.2 166.8h0.01M30.4 166.8h0.01M36.6 166.8h0.01M48.9 166.8h0.01M55.1 166.8h0.01M67.5 166.8h0.01M73.7 166.8h0.01M86.1 166.8h0.01M98.5 166.8h0.01M104.6 166.8h0.01M110.8 166.8h0.01M117.0 166.8h0.01M123.2 166.8h0.01M129.4 166.8h0.01M135.6 166.8h0.01M141.8 166.8h0.01M154.2 166.8h0.01M160.3 166.8h0.01M166.5 166.8h0.01M172.7 166.8h0.01M191.3 166.8h0.01M197.5 166.8h0.01M203.7 166.8h0.01M11.8 173.1h0.01M18.0 173.1h0.01M42.7 173.1h0.01M48.9 173.1h0.01M61.3 173.1h0.01M86.1 173.1h0.01M110.8 173.1h0.01M123.2 173.1h0.01M141.8 173.1h0.01M148.0 173.1h0.01M154.2 173.1h0.01M160.3 173.1h0.01M166.5 173.1h0.01M178.9 173.1h0.01M185.1 173.1h0.01M191.3 173.1h0.01M197.5 173.1h0.01M203.7 173.1h0.01M18.0 179.3h0.01M24.2 179.3h0.01M42.7 179.3h0.01M48.9 179.3h0.01M55.1 179.3h0.01M73.7 179.3h0.01M79.9 179.3h0.01M86.1 179.3h0.01M92.3 179.3h0.01M104.6 179.3h0.01M117.0 179.3h0.01M123.2 179.3h0.01M141.8 179.3h0.01M148.0 179.3h0.01M160.3 179.3h0.01M166.5 179.3h0.01M172.7 179.3h0.01M178.9 179.3h0.01M191.3 179.3h0.01M197.5 179.3h0.01M203.7 179.3h0.01" stroke="#333" stroke-opacity="0.4" stroke-width="1.0" stroke-linecap="round" fill="none"/><g stroke="#888" stroke-width="0.8"><line x1="8.6" y1="181.0" x2="8.6" y2="179.0"/><line x1="8.6" y1="0" x2="8.6" y2="2"/><line x1="19.0" y1="181.0" x2="19.0" y2="179.0"/><line x1="19.0" y1="0" x2="19.0" y2="2"/><line x1="29.4" y1="181.0" x2="29.4" y2="179.0"/><line x1="29.4" y1="0" x2="29.4" y2="2"/><line x1="39.8" y1="181.0" x2="39.8" y2="179.0"/><line x1="39.8" y1="0" x2="39.8" y2="2"/><line x1="50.2" y1="181.0" x2="50.2" y2="177.0"/><line x1="50.2" y1="0" x2="50.2" y2="4"/><line x1="60.6" y1="181.0" x2="60.6" y2="179.0"/><line x1="60.6" y1="0" x2="60.6" y2="2"/><line x1="71.0" y1="181.0" x2="71.0" y2="179.0"/><line x1="71.0" y1="0" x2="71.0" y2="2"/><line x1="81.4" y1="181.0" x2="81.4" y2="179.0"/><line x1="81.4" y1="0" x2="81.4" y2="2"/><line x1="91.8" y1="181.0" x2="91.8" y2="179.0"/><line x1="91.8" y1="0" x2="91.8" y2="2"/><line x1="102.2" y1="181.0" x2="102.2" y2="177.0"/><line x1="102.2" y1="0" x2="102.2" y2="4"/><line x1="112.6" y1="181.0" x2="112.6" y2="179.0"/><line x1="112.6" y1="0" x2="112.6" y2="2"/><line x1="123.0" y1="181.0" x2="123.0" y2="179.0"/><line x1="123.0" y1="0" x2="123.0" y2="2"/><line x1="133.4" y1="181.0" x2="133.4" y2="179.0"/><line x1="133.4" y1="0" x2="133.4" y2="2"/><line x1="143.8" y1="181.0" x2="143.8" y2="179.0"/><line x1="143.8" y1="0" x2="143.8" y2="2"/><line x1="154.2" y1="181.0" x2="154.2" y2="177.0"/><line x1="154.2" y1="0" x2="154.2" y2="4"/><line x1="164.6" y1="181.0" x2="164.6" y2="179.0"/><line x1="164.6" y1="0" x2="164.6" y2="2"/><line x1="175.0" y1="181.0" x2="175.0" y2="179.0"/><line x1="175.0" y1="0" x2="175.0" y2="2"/><line x1="185.4" y1="181.0" x2="185.4" y2="179.0"/><line x1="185.4" y1="0" x2="185.4" y2="2"/><line x1="195.8" y1="181.0" x2="195.8" y2="179.0"/><line x1="195.8" y1="0" x2="195.8" y2="2"/><line x1="206.2" y1="181.0" x2="206.2" y2="177.0"/><line x1="206.2" y1="0" x2="206.2" y2="4"/><line x1="0" y1="10.3" x2="2" y2="10.3"/><line x1="208.0" y1="10.3" x2="206.0" y2="10.3"/><line x1="0" y1="20.5" x2="2" y2="20.5"/><line x1="208.0" y1="20.5" x2="206.0" y2="20.5"/><line x1="0" y1="30.8" x2="2" y2="30.8"/><line x1="208.0" y1="30.8" x2="206.0" y2="30.8"/><line x1="0" y1="41.0" x2="2" y2="41.0"/><line x1="208.0" y1="41.0" x2="206.0" y2="41.0"/><line x1="0" y1="51.3" x2="4" y2="51.3"/><line x1="208.0" y1="51.3" x2="204.0" y2="51.3"/><line x1="0" y1="61.6" x2="2" y2="61.6"/><line x1="208.0" y1="61.6" x2="206.0" y2="61.6"/><line x1="0" y1="71.8" x2="2" y2="71.8"/><line x1="208.0" y1="71.8" x2="206.0" y2="71.8"/><line x1="0" y1="82.1" x2="2" y2="82.1"/><line x1="208.0" y1="82.1" x2="206.0" y2="82.1"/><line x1="0" y1="92.3" x2="2" y2="92.3"/><line x1="208.0" y1="92.3" x2="206.0" y2="92.3"/><line x1="0" y1="102.6" x2="4" y2="102.6"/><line x1="208.0" y1="102.6" x2="204.0" y2="102.6"/><line x1="0" y1="112.9" x2="2" y2="112.9"/><line x1="208.0" y1="112.9" x2="206.0" y2="112.9"/><line x1="0" y1="123.1" x2="2" y2="123.1"/><line x1="208.0" y1="123.1" x2="206.0" y2="123.1"/><line x1="0" y1="133.4" x2="2" y2="133.4"/><line x1="208.0" y1="133.4" x2="206.0" y2="133.4"/><line x1="0" y1="143.6" x2="2" y2="143.6"/><line x1="208.0" y1="143.6" x2="206.0" y2="143.6"/><line x1="0" y1="153.9" x2="4" y2="153.9"/><line x1="208.0" y1="153.9" x2="204.0" y2="153.9"/><line x1="0" y1="164.2" x2="2" y2="164.2"/><line x1="208.0" y1="164.2" x2="206.0" y2="164.2"/><line x1="0" y1="174.4" x2="2" y2="174.4"/><line x1="208.0" y1="174.4" x2="206.0" y2="174.4"/></g><rect x="0.4" y="0.4" width="207.2" height="180.2" fill="none" stroke="#999" stroke-width="1"/></svg>
</div>
<div class="title" style="left:-63.0px;top:225.0px;">Lorentz force vector change <i class='dl'>&delta;</i>F</div>
<div class="yl" style="left:-8.0px;top:236.6px">-7.5</div>
<div class="yl" style="left:-8.0px;top:287.8px">-8.0</div>
<div class="yl" style="left:-8.0px;top:339.0px">-8.5</div>
<div class="yl" style="left:-8.0px;top:390.20000000000005px">-9.0</div>
<div class="xl" style="left:63.2px;top:423.90000000000003px">32.0</div>
<div class="xl" style="left:115.1px;top:423.90000000000003px">32.5</div>
<div class="xl" style="left:167.0px;top:423.90000000000003px">33.0</div>
<div class="xl" style="left:218.89999999999998px;top:423.90000000000003px">33.5</div>
<div class="plot" style="left:341.3px;top:238.6px">
<svg width="208.0" height="181.0" viewBox="0 0 208.0 181.0"><filter id="bl11" x="-30%" y="-30%" width="160%" height="160%"><feGaussianBlur stdDeviation="4"/></filter><g filter="url(#bl11)"><rect x="-20.00" y="-20.00" width="33.30" height="33.23" fill="#ffe6e6"/><rect x="13.00" y="-20.00" width="13.30" height="33.23" fill="#e6e6ff"/><rect x="26.00" y="-20.00" width="13.30" height="33.23" fill="#e6e6ff"/><rect x="39.00" y="-20.00" width="13.30" height="33.23" fill="#e6e6ff"/><rect x="52.00" y="-20.00" width="13.30" height="33.23" fill="#e6e6ff"/><rect x="65.00" y="-20.00" width="13.30" height="33.23" fill="#e6e6ff"/><rect x="78.00" y="-20.00" width="13.30" height="33.23" fill="#e6e6ff"/><rect x="91.00" y="-20.00" width="13.30" height="33.23" fill="#e6e6ff"/><rect x="104.00" y="-20.00" width="13.30" height="33.23" fill="#e6e6ff"/><rect x="130.00" y="-20.00" width="13.30" height="33.23" fill="#e6e6ff"/><rect x="143.00" y="-20.00" width="13.30" height="33.23" fill="#e6e6ff"/><rect x="156.00" y="-20.00" width="13.30" height="33.23" fill="#f2f2ff"/><rect x="182.00" y="-20.00" width="13.30" height="33.23" fill="#ffe6e6"/><rect x="195.00" y="-20.00" width="33.30" height="33.23" fill="#f2f2ff"/><rect x="-20.00" y="12.93" width="33.30" height="13.23" fill="#f2f2ff"/><rect x="13.00" y="12.93" width="13.30" height="13.23" fill="#f2f2ff"/><rect x="26.00" y="12.93" width="13.30" height="13.23" fill="#ffe6e6"/><rect x="39.00" y="12.93" width="13.30" height="13.23" fill="#f2f2ff"/><rect x="65.00" y="12.93" width="13.30" height="13.23" fill="#e6e6ff"/><rect x="78.00" y="12.93" width="13.30" height="13.23" fill="#e6e6ff"/><rect x="91.00" y="12.93" width="13.30" height="13.23" fill="#e6e6ff"/><rect x="104.00" y="12.93" width="13.30" height="13.23" fill="#e6e6ff"/><rect x="117.00" y="12.93" width="13.30" height="13.23" fill="#c8c8ff"/><rect x="130.00" y="12.93" width="13.30" height="13.23" fill="#e6e6ff"/><rect x="143.00" y="12.93" width="13.30" height="13.23" fill="#e6e6ff"/><rect x="156.00" y="12.93" width="13.30" height="13.23" fill="#f2f2ff"/><rect x="169.00" y="12.93" width="13.30" height="13.23" fill="#e6e6ff"/><rect x="195.00" y="12.93" width="33.30" height="13.23" fill="#f2f2ff"/><rect x="-20.00" y="25.86" width="33.30" height="13.23" fill="#e6e6ff"/><rect x="13.00" y="25.86" width="13.30" height="13.23" fill="#e6e6ff"/><rect x="26.00" y="25.86" width="13.30" height="13.23" fill="#e6e6ff"/><rect x="39.00" y="25.86" width="13.30" height="13.23" fill="#e6e6ff"/><rect x="52.00" y="25.86" width="13.30" height="13.23" fill="#f2f2ff"/><rect x="65.00" y="25.86" width="13.30" height="13.23" fill="#ffe6e6"/><rect x="78.00" y="25.86" width="13.30" height="13.23" fill="#ffc8c8"/><rect x="91.00" y="25.86" width="13.30" height="13.23" fill="#ffc8c8"/><rect x="104.00" y="25.86" width="13.30" height="13.23" fill="#ffc8c8"/><rect x="117.00" y="25.86" width="13.30" height="13.23" fill="#ffe6e6"/><rect x="130.00" y="25.86" width="13.30" height="13.23" fill="#c8c8ff"/><rect x="143.00" y="25.86" width="13.30" height="13.23" fill="#e6e6ff"/><rect x="156.00" y="25.86" width="13.30" height="13.23" fill="#e6e6ff"/><rect x="169.00" y="25.86" width="13.30" height="13.23" fill="#f2f2ff"/><rect x="182.00" y="25.86" width="13.30" height="13.23" fill="#e6e6ff"/><rect x="195.00" y="25.86" width="33.30" height="13.23" fill="#f2f2ff"/><rect x="-20.00" y="38.79" width="33.30" height="13.23" fill="#e6e6ff"/><rect x="13.00" y="38.79" width="13.30" height="13.23" fill="#c8c8ff"/><rect x="26.00" y="38.79" width="13.30" height="13.23" fill="#c8c8ff"/><rect x="39.00" y="38.79" width="13.30" height="13.23" fill="#c8c8ff"/><rect x="52.00" y="38.79" width="13.30" height="13.23" fill="#c8c8ff"/><rect x="65.00" y="38.79" width="13.30" height="13.23" fill="#e6e6ff"/><rect x="78.00" y="38.79" width="13.30" height="13.23" fill="#ffe6e6"/><rect x="91.00" y="38.79" width="13.30" height="13.23" fill="#ffc8c8"/><rect x="104.00" y="38.79" width="13.30" height="13.23" fill="#ff9696"/><rect x="130.00" y="38.79" width="13.30" height="13.23" fill="#e6e6ff"/><rect x="143.00" y="38.79" width="13.30" height="13.23" fill="#c8c8ff"/><rect x="156.00" y="38.79" width="13.30" height="13.23" fill="#c8c8ff"/><rect x="169.00" y="38.79" width="13.30" height="13.23" fill="#e6e6ff"/><rect x="182.00" y="38.79" width="13.30" height="13.23" fill="#e6e6ff"/><rect x="195.00" y="38.79" width="33.30" height="13.23" fill="#f2f2ff"/><rect x="-20.00" y="51.71" width="33.30" height="13.23" fill="#e6e6ff"/><rect x="13.00" y="51.71" width="13.30" height="13.23" fill="#c8c8ff"/><rect x="26.00" y="51.71" width="13.30" height="13.23" fill="#c8c8ff"/><rect x="39.00" y="51.71" width="13.30" height="13.23" fill="#c8c8ff"/><rect x="52.00" y="51.71" width="13.30" height="13.23" fill="#c8c8ff"/><rect x="65.00" y="51.71" width="13.30" height="13.23" fill="#ff9696"/><rect x="78.00" y="51.71" width="13.30" height="13.23" fill="#ffc8c8"/><rect x="117.00" y="51.71" width="13.30" height="13.23" fill="#ff4848"/><rect x="130.00" y="51.71" width="13.30" height="13.23" fill="#ff9696"/><rect x="143.00" y="51.71" width="13.30" height="13.23" fill="#ff4848"/><rect x="156.00" y="51.71" width="13.30" height="13.23" fill="#9696ff"/><rect x="169.00" y="51.71" width="13.30" height="13.23" fill="#e6e6ff"/><rect x="182.00" y="51.71" width="13.30" height="13.23" fill="#f2f2ff"/><rect x="195.00" y="51.71" width="33.30" height="13.23" fill="#f2f2ff"/><rect x="-20.00" y="64.64" width="33.30" height="13.23" fill="#e6e6ff"/><rect x="13.00" y="64.64" width="13.30" height="13.23" fill="#c8c8ff"/><rect x="26.00" y="64.64" width="13.30" height="13.23" fill="#c8c8ff"/><rect x="39.00" y="64.64" width="13.30" height="13.23" fill="#c8c8ff"/><rect x="52.00" y="64.64" width="13.30" height="13.23" fill="#9696ff"/><rect x="65.00" y="64.64" width="13.30" height="13.23" fill="#ff4848"/><rect x="78.00" y="64.64" width="13.30" height="13.23" fill="#ff9696"/><rect x="104.00" y="64.64" width="13.30" height="13.23" fill="#ff1919"/><rect x="117.00" y="64.64" width="13.30" height="13.23" fill="#ff1919"/><rect x="130.00" y="64.64" width="13.30" height="13.23" fill="#ff4848"/><rect x="143.00" y="64.64" width="13.30" height="13.23" fill="#ff9696"/><rect x="156.00" y="64.64" width="13.30" height="13.23" fill="#9696ff"/><rect x="169.00" y="64.64" width="13.30" height="13.23" fill="#e6e6ff"/><rect x="182.00" y="64.64" width="13.30" height="13.23" fill="#f2f2ff"/><rect x="195.00" y="64.64" width="33.30" height="13.23" fill="#f2f2ff"/><rect x="-20.00" y="77.57" width="33.30" height="13.23" fill="#e6e6ff"/><rect x="13.00" y="77.57" width="13.30" height="13.23" fill="#c8c8ff"/><rect x="26.00" y="77.57" width="13.30" height="13.23" fill="#c8c8ff"/><rect x="39.00" y="77.57" width="13.30" height="13.23" fill="#c8c8ff"/><rect x="52.00" y="77.57" width="13.30" height="13.23" fill="#c8c8ff"/><rect x="65.00" y="77.57" width="13.30" height="13.23" fill="#ff4848"/><rect x="78.00" y="77.57" width="13.30" height="13.23" fill="#ff9696"/><rect x="104.00" y="77.57" width="13.30" height="13.23" fill="#ff1919"/><rect x="117.00" y="77.57" width="13.30" height="13.23" fill="#ff1919"/><rect x="130.00" y="77.57" width="13.30" height="13.23" fill="#ff4848"/><rect x="143.00" y="77.57" width="13.30" height="13.23" fill="#ffe6e6"/><rect x="156.00" y="77.57" width="13.30" height="13.23" fill="#c8c8ff"/><rect x="169.00" y="77.57" width="13.30" height="13.23" fill="#e6e6ff"/><rect x="182.00" y="77.57" width="13.30" height="13.23" fill="#f2f2ff"/><rect x="195.00" y="77.57" width="33.30" height="13.23" fill="#f2f2ff"/><rect x="-20.00" y="90.50" width="33.30" height="13.23" fill="#ffc8c8"/><rect x="13.00" y="90.50" width="13.30" height="13.23" fill="#ffc8c8"/><rect x="26.00" y="90.50" width="13.30" height="13.23" fill="#ffe6e6"/><rect x="39.00" y="90.50" width="13.30" height="13.23" fill="#e6e6ff"/><rect x="52.00" y="90.50" width="13.30" height="13.23" fill="#ffe6e6"/><rect x="65.00" y="90.50" width="13.30" height="13.23" fill="#ffc8c8"/><rect x="78.00" y="90.50" width="13.30" height="13.23" fill="#ff9696"/><rect x="91.00" y="90.50" width="13.30" height="13.23" fill="#ff1919"/><rect x="104.00" y="90.50" width="13.30" height="13.23" fill="#ff1919"/><rect x="117.00" y="90.50" width="13.30" height="13.23" fill="#ff9696"/><rect x="130.00" y="90.50" width="13.30" height="13.23" fill="#ffe6e6"/><rect x="143.00" y="90.50" width="13.30" height="13.23" fill="#f2f2ff"/><rect x="156.00" y="90.50" width="13.30" height="13.23" fill="#e6e6ff"/><rect x="169.00" y="90.50" width="13.30" height="13.23" fill="#f2f2ff"/><rect x="182.00" y="90.50" width="13.30" height="13.23" fill="#f2f2ff"/><rect x="195.00" y="90.50" width="33.30" height="13.23" fill="#f2f2ff"/><rect x="-20.00" y="103.43" width="33.30" height="13.23" fill="#ffe6e6"/><rect x="13.00" y="103.43" width="13.30" height="13.23" fill="#ffe6e6"/><rect x="26.00" y="103.43" width="13.30" height="13.23" fill="#ffe6e6"/><rect x="39.00" y="103.43" width="13.30" height="13.23" fill="#e6e6ff"/><rect x="52.00" y="103.43" width="13.30" height="13.23" fill="#e6e6ff"/><rect x="65.00" y="103.43" width="13.30" height="13.23" fill="#ffe6e6"/><rect x="78.00" y="103.43" width="13.30" height="13.23" fill="#ff9696"/><rect x="91.00" y="103.43" width="13.30" height="13.23" fill="#ff4848"/><rect x="104.00" y="103.43" width="13.30" height="13.23" fill="#ff4848"/><rect x="117.00" y="103.43" width="13.30" height="13.23" fill="#ff9696"/><rect x="130.00" y="103.43" width="13.30" height="13.23" fill="#ffe6e6"/><rect x="143.00" y="103.43" width="13.30" height="13.23" fill="#f2f2ff"/><rect x="156.00" y="103.43" width="13.30" height="13.23" fill="#e6e6ff"/><rect x="169.00" y="103.43" width="13.30" height="13.23" fill="#f2f2ff"/><rect x="182.00" y="103.43" width="13.30" height="13.23" fill="#f2f2ff"/><rect x="195.00" y="103.43" width="33.30" height="13.23" fill="#f2f2ff"/><rect x="-20.00" y="116.36" width="33.30" height="13.23" fill="#f2f2ff"/><rect x="13.00" y="116.36" width="13.30" height="13.23" fill="#f2f2ff"/><rect x="26.00" y="116.36" width="13.30" height="13.23" fill="#f2f2ff"/><rect x="39.00" y="116.36" width="13.30" height="13.23" fill="#e6e6ff"/><rect x="52.00" y="116.36" width="13.30" height="13.23" fill="#e6e6ff"/><rect x="65.00" y="116.36" width="13.30" height="13.23" fill="#ffe6e6"/><rect x="78.00" y="116.36" width="13.30" height="13.23" fill="#ff9696"/><rect x="91.00" y="116.36" width="13.30" height="13.23" fill="#ff4848"/><rect x="104.00" y="116.36" width="13.30" height="13.23" fill="#ff4848"/><rect x="117.00" y="116.36" width="13.30" height="13.23" fill="#ffc8c8"/><rect x="143.00" y="116.36" width="13.30" height="13.23" fill="#f2f2ff"/><rect x="156.00" y="116.36" width="13.30" height="13.23" fill="#e6e6ff"/><rect x="169.00" y="116.36" width="13.30" height="13.23" fill="#e6e6ff"/><rect x="182.00" y="116.36" width="13.30" height="13.23" fill="#f2f2ff"/><rect x="195.00" y="116.36" width="33.30" height="13.23" fill="#f2f2ff"/><rect x="-20.00" y="129.29" width="33.30" height="13.23" fill="#f2f2ff"/><rect x="13.00" y="129.29" width="13.30" height="13.23" fill="#ffe6e6"/><rect x="26.00" y="129.29" width="13.30" height="13.23" fill="#f2f2ff"/><rect x="39.00" y="129.29" width="13.30" height="13.23" fill="#e6e6ff"/><rect x="52.00" y="129.29" width="13.30" height="13.23" fill="#e6e6ff"/><rect x="65.00" y="129.29" width="13.30" height="13.23" fill="#ffe6e6"/><rect x="78.00" y="129.29" width="13.30" height="13.23" fill="#ffc8c8"/><rect x="91.00" y="129.29" width="13.30" height="13.23" fill="#ff9696"/><rect x="104.00" y="129.29" width="13.30" height="13.23" fill="#ff9696"/><rect x="117.00" y="129.29" width="13.30" height="13.23" fill="#ffc8c8"/><rect x="143.00" y="129.29" width="13.30" height="13.23" fill="#ffe6e6"/><rect x="156.00" y="129.29" width="13.30" height="13.23" fill="#e6e6ff"/><rect x="169.00" y="129.29" width="13.30" height="13.23" fill="#f2f2ff"/><rect x="182.00" y="129.29" width="13.30" height="13.23" fill="#f2f2ff"/><rect x="195.00" y="129.29" width="33.30" height="13.23" fill="#f2f2ff"/><rect x="-20.00" y="142.21" width="33.30" height="13.23" fill="#f2f2ff"/><rect x="13.00" y="142.21" width="13.30" height="13.23" fill="#f2f2ff"/><rect x="26.00" y="142.21" width="13.30" height="13.23" fill="#f2f2ff"/><rect x="39.00" y="142.21" width="13.30" height="13.23" fill="#f2f2ff"/><rect x="52.00" y="142.21" width="13.30" height="13.23" fill="#e6e6ff"/><rect x="65.00" y="142.21" width="13.30" height="13.23" fill="#ffe6e6"/><rect x="78.00" y="142.21" width="13.30" height="13.23" fill="#ffc8c8"/><rect x="91.00" y="142.21" width="13.30" height="13.23" fill="#ff9696"/><rect x="104.00" y="142.21" width="13.30" height="13.23" fill="#ff9696"/><rect x="117.00" y="142.21" width="13.30" height="13.23" fill="#ffe6e6"/><rect x="143.00" y="142.21" width="13.30" height="13.23" fill="#e6e6ff"/><rect x="156.00" y="142.21" width="13.30" height="13.23" fill="#e6e6ff"/><rect x="169.00" y="142.21" width="13.30" height="13.23" fill="#f2f2ff"/><rect x="182.00" y="142.21" width="13.30" height="13.23" fill="#f2f2ff"/><rect x="195.00" y="142.21" width="33.30" height="13.23" fill="#f2f2ff"/><rect x="-20.00" y="155.14" width="33.30" height="13.23" fill="#f2f2ff"/><rect x="13.00" y="155.14" width="13.30" height="13.23" fill="#f2f2ff"/><rect x="26.00" y="155.14" width="13.30" height="13.23" fill="#f2f2ff"/><rect x="39.00" y="155.14" width="13.30" height="13.23" fill="#f2f2ff"/><rect x="52.00" y="155.14" width="13.30" height="13.23" fill="#e6e6ff"/><rect x="65.00" y="155.14" width="13.30" height="13.23" fill="#ffe6e6"/><rect x="78.00" y="155.14" width="13.30" height="13.23" fill="#ffc8c8"/><rect x="91.00" y="155.14" width="13.30" height="13.23" fill="#ff9696"/><rect x="104.00" y="155.14" width="13.30" height="13.23" fill="#ffc8c8"/><rect x="117.00" y="155.14" width="13.30" height="13.23" fill="#ffe6e6"/><rect x="143.00" y="155.14" width="13.30" height="13.23" fill="#e6e6ff"/><rect x="156.00" y="155.14" width="13.30" height="13.23" fill="#e6e6ff"/><rect x="169.00" y="155.14" width="13.30" height="13.23" fill="#f2f2ff"/><rect x="182.00" y="155.14" width="13.30" height="13.23" fill="#e6e6ff"/><rect x="195.00" y="155.14" width="33.30" height="13.23" fill="#f2f2ff"/><rect x="-20.00" y="168.07" width="33.30" height="33.23" fill="#f2f2ff"/><rect x="13.00" y="168.07" width="13.30" height="33.23" fill="#f2f2ff"/><rect x="26.00" y="168.07" width="13.30" height="33.23" fill="#f2f2ff"/><rect x="39.00" y="168.07" width="13.30" height="33.23" fill="#f2f2ff"/><rect x="52.00" y="168.07" width="13.30" height="33.23" fill="#e6e6ff"/><rect x="65.00" y="168.07" width="13.30" height="33.23" fill="#ffe6e6"/><rect x="78.00" y="168.07" width="13.30" height="33.23" fill="#ffe6e6"/><rect x="91.00" y="168.07" width="13.30" height="33.23" fill="#ff9696"/><rect x="104.00" y="168.07" width="13.30" height="33.23" fill="#9696ff"/><rect x="130.00" y="168.07" width="13.30" height="33.23" fill="#f2f2ff"/><rect x="143.00" y="168.07" width="13.30" height="33.23" fill="#e6e6ff"/><rect x="156.00" y="168.07" width="13.30" height="33.23" fill="#e6e6ff"/><rect x="169.00" y="168.07" width="13.30" height="33.23" fill="#f2f2ff"/><rect x="182.00" y="168.07" width="13.30" height="33.23" fill="#ffe6e6"/><rect x="195.00" y="168.07" width="33.30" height="33.23" fill="#f2f2ff"/></g><circle cx="56" cy="58" r="0.7" fill="#000"/><filter id="o11a" x="-50%" y="-50%" width="200%" height="200%"><feGaussianBlur stdDeviation="2.5"/></filter><filter id="o11b" x="-50%" y="-50%" width="200%" height="200%"><feGaussianBlur stdDeviation="1.2"/></filter><filter id="o11c" x="-50%" y="-50%" width="200%" height="200%"><feGaussianBlur stdDeviation="0.7"/></filter><g filter="url(#o11a)"><path d="M49,32 C70,22 100,22 116,30 L116,42 C100,36 75,36 52,42 Z" fill="#ffd2d2"/><path d="M62,60 C66,53 74,51 84,53 L80,75 L76,100 L62,104 C58,90 58,72 62,60 Z" fill="#ff6a6a"/><path d="M70,98 C85,105 110,105 135,98 L130,130 L115,150 L95,150 L80,130 Z" fill="#ff8c8c"/><path d="M129,70 L146,50 L153,54 L138,75 Z" fill="#ff7070"/></g><g filter="url(#o11b)"><path d="M85,62 C90,54 105,52 118,56 C124,64 124,80 120,92 C112,102 98,104 88,98 L92,88 C98,85 95,75 88,72 Z" fill="#ff1a1a"/><path d="M74,44 L98,44 L96,57 L86,58 L80,66 L74,60 Z" fill="#fff" opacity="0.7"/><ellipse cx="84" cy="79" rx="5" ry="9" fill="#fff" opacity="0.85"/><path d="M64,111 L85,96" stroke="#fff" stroke-width="2"/></g><g filter="url(#o11c)"><ellipse cx="90" cy="51" rx="5" ry="4.5" fill="#1a1aff"/><path d="M90,61 C95,57 105,57 112,59 L111,64 C104,63 98,66 92,68 Z" fill="#1a1aff"/><ellipse cx="113" cy="52" rx="3.5" ry="3" fill="#1a1aff"/><ellipse cx="86.5" cy="90" rx="3" ry="3" fill="#1a1aff"/><ellipse cx="120" cy="139" rx="2.3" ry="2.3" fill="#3030ff"/><ellipse cx="112" cy="178" rx="4.5" ry="7" fill="#2020ff"/><ellipse cx="110" cy="166" rx="3" ry="4" fill="#8080ff"/></g><g stroke="#000" stroke-width="0.7" fill="none"><path d="M135.5,90 C137.5,91 136,95 134,98 L128,108 C126,111 125,114 123,115 C121.5,115 121.3,112 122,108 C123,102 126,96 130,92.5 C132,90.5 134,89.5 135.5,90 Z"/><path d="M122,114.5 C124,115 124,118 123,121 L120,128 C119,130 117.5,131 116.5,130 C115.5,129 116,126 117,123 C118,119 120,114.5 122,114.5 Z"/><path d="M115,132.6 L117.3,135.5 L115,139 L112.8,135.8 Z"/><ellipse cx="112.6" cy="143" rx="1.7" ry="3" transform="rotate(20 112.6 143)"/><ellipse cx="92.3" cy="45.8" rx="4.3" ry="2.3"/><ellipse cx="86.5" cy="48.6" rx="3.2" ry="1.9"/><ellipse cx="81.1" cy="53.5" rx="1.6" ry="3.3"/></g><g stroke="#888" stroke-width="0.8"><line x1="8.6" y1="181.0" x2="8.6" y2="179.0"/><line x1="8.6" y1="0" x2="8.6" y2="2"/><line x1="19.0" y1="181.0" x2="19.0" y2="179.0"/><line x1="19.0" y1="0" x2="19.0" y2="2"/><line x1="29.4" y1="181.0" x2="29.4" y2="179.0"/><line x1="29.4" y1="0" x2="29.4" y2="2"/><line x1="39.8" y1="181.0" x2="39.8" y2="179.0"/><line x1="39.8" y1="0" x2="39.8" y2="2"/><line x1="50.2" y1="181.0" x2="50.2" y2="177.0"/><line x1="50.2" y1="0" x2="50.2" y2="4"/><line x1="60.6" y1="181.0" x2="60.6" y2="179.0"/><line x1="60.6" y1="0" x2="60.6" y2="2"/><line x1="71.0" y1="181.0" x2="71.0" y2="179.0"/><line x1="71.0" y1="0" x2="71.0" y2="2"/><line x1="81.4" y1="181.0" x2="81.4" y2="179.0"/><line x1="81.4" y1="0" x2="81.4" y2="2"/><line x1="91.8" y1="181.0" x2="91.8" y2="179.0"/><line x1="91.8" y1="0" x2="91.8" y2="2"/><line x1="102.2" y1="181.0" x2="102.2" y2="177.0"/><line x1="102.2" y1="0" x2="102.2" y2="4"/><line x1="112.6" y1="181.0" x2="112.6" y2="179.0"/><line x1="112.6" y1="0" x2="112.6" y2="2"/><line x1="123.0" y1="181.0" x2="123.0" y2="179.0"/><line x1="123.0" y1="0" x2="123.0" y2="2"/><line x1="133.4" y1="181.0" x2="133.4" y2="179.0"/><line x1="133.4" y1="0" x2="133.4" y2="2"/><line x1="143.8" y1="181.0" x2="143.8" y2="179.0"/><line x1="143.8" y1="0" x2="143.8" y2="2"/><line x1="154.2" y1="181.0" x2="154.2" y2="177.0"/><line x1="154.2" y1="0" x2="154.2" y2="4"/><line x1="164.6" y1="181.0" x2="164.6" y2="179.0"/><line x1="164.6" y1="0" x2="164.6" y2="2"/><line x1="175.0" y1="181.0" x2="175.0" y2="179.0"/><line x1="175.0" y1="0" x2="175.0" y2="2"/><line x1="185.4" y1="181.0" x2="185.4" y2="179.0"/><line x1="185.4" y1="0" x2="185.4" y2="2"/><line x1="195.8" y1="181.0" x2="195.8" y2="179.0"/><line x1="195.8" y1="0" x2="195.8" y2="2"/><line x1="206.2" y1="181.0" x2="206.2" y2="177.0"/><line x1="206.2" y1="0" x2="206.2" y2="4"/><line x1="0" y1="10.3" x2="2" y2="10.3"/><line x1="208.0" y1="10.3" x2="206.0" y2="10.3"/><line x1="0" y1="20.5" x2="2" y2="20.5"/><line x1="208.0" y1="20.5" x2="206.0" y2="20.5"/><line x1="0" y1="30.8" x2="2" y2="30.8"/><line x1="208.0" y1="30.8" x2="206.0" y2="30.8"/><line x1="0" y1="41.0" x2="2" y2="41.0"/><line x1="208.0" y1="41.0" x2="206.0" y2="41.0"/><line x1="0" y1="51.3" x2="4" y2="51.3"/><line x1="208.0" y1="51.3" x2="204.0" y2="51.3"/><line x1="0" y1="61.6" x2="2" y2="61.6"/><line x1="208.0" y1="61.6" x2="206.0" y2="61.6"/><line x1="0" y1="71.8" x2="2" y2="71.8"/><line x1="208.0" y1="71.8" x2="206.0" y2="71.8"/><line x1="0" y1="82.1" x2="2" y2="82.1"/><line x1="208.0" y1="82.1" x2="206.0" y2="82.1"/><line x1="0" y1="92.3" x2="2" y2="92.3"/><line x1="208.0" y1="92.3" x2="206.0" y2="92.3"/><line x1="0" y1="102.6" x2="4" y2="102.6"/><line x1="208.0" y1="102.6" x2="204.0" y2="102.6"/><line x1="0" y1="112.9" x2="2" y2="112.9"/><line x1="208.0" y1="112.9" x2="206.0" y2="112.9"/><line x1="0" y1="123.1" x2="2" y2="123.1"/><line x1="208.0" y1="123.1" x2="206.0" y2="123.1"/><line x1="0" y1="133.4" x2="2" y2="133.4"/><line x1="208.0" y1="133.4" x2="206.0" y2="133.4"/><line x1="0" y1="143.6" x2="2" y2="143.6"/><line x1="208.0" y1="143.6" x2="206.0" y2="143.6"/><line x1="0" y1="153.9" x2="4" y2="153.9"/><line x1="208.0" y1="153.9" x2="204.0" y2="153.9"/><line x1="0" y1="164.2" x2="2" y2="164.2"/><line x1="208.0" y1="164.2" x2="206.0" y2="164.2"/><line x1="0" y1="174.4" x2="2" y2="174.4"/><line x1="208.0" y1="174.4" x2="206.0" y2="174.4"/></g><rect x="0.4" y="0.4" width="207.2" height="180.2" fill="none" stroke="#999" stroke-width="1"/></svg>
</div>
<div class="title" style="left:245.3px;top:225.0px;">Magnetic shear change <i class='dl'>&delta;</i>S</div>
<div class="yl" style="left:300.3px;top:236.6px">-7.5</div>
<div class="yl" style="left:300.3px;top:287.8px">-8.0</div>
<div class="yl" style="left:300.3px;top:339.0px">-8.5</div>
<div class="yl" style="left:300.3px;top:390.20000000000005px">-9.0</div>
<div class="xl" style="left:371.5px;top:423.90000000000003px">32.0</div>
<div class="xl" style="left:423.4px;top:423.90000000000003px">32.5</div>
<div class="xl" style="left:475.3px;top:423.90000000000003px">33.0</div>
<div class="xl" style="left:527.2px;top:423.90000000000003px">33.5</div>
<div class="plot" style="left:33.0px;top:463.4px">
<svg width="208.0" height="181.0" viewBox="0 0 208.0 181.0"><filter id="bl20" x="-30%" y="-30%" width="160%" height="160%"><feGaussianBlur stdDeviation="4"/></filter><g filter="url(#bl20)"><rect x="-20.00" y="-20.00" width="33.30" height="33.23" fill="#f2f2ff"/><rect x="13.00" y="-20.00" width="13.30" height="33.23" fill="#ffe6e6"/><rect x="26.00" y="-20.00" width="13.30" height="33.23" fill="#ffe6e6"/><rect x="39.00" y="-20.00" width="13.30" height="33.23" fill="#ffe6e6"/><rect x="52.00" y="-20.00" width="13.30" height="33.23" fill="#ffe6e6"/><rect x="78.00" y="-20.00" width="13.30" height="33.23" fill="#ffe6e6"/><rect x="91.00" y="-20.00" width="13.30" height="33.23" fill="#e6e6ff"/><rect x="104.00" y="-20.00" width="13.30" height="33.23" fill="#ffe6e6"/><rect x="117.00" y="-20.00" width="13.30" height="33.23" fill="#ffe6e6"/><rect x="130.00" y="-20.00" width="13.30" height="33.23" fill="#ffe6e6"/><rect x="143.00" y="-20.00" width="13.30" height="33.23" fill="#ffe6e6"/><rect x="156.00" y="-20.00" width="13.30" height="33.23" fill="#ffe6e6"/><rect x="169.00" y="-20.00" width="13.30" height="33.23" fill="#ffe6e6"/><rect x="182.00" y="-20.00" width="13.30" height="33.23" fill="#e6e6ff"/><rect x="195.00" y="-20.00" width="33.30" height="33.23" fill="#e6e6ff"/><rect x="-20.00" y="12.93" width="33.30" height="13.23" fill="#e6e6ff"/><rect x="13.00" y="12.93" width="13.30" height="13.23" fill="#e6e6ff"/><rect x="26.00" y="12.93" width="13.30" height="13.23" fill="#f2f2ff"/><rect x="39.00" y="12.93" width="13.30" height="13.23" fill="#ffe6e6"/><rect x="52.00" y="12.93" width="13.30" height="13.23" fill="#ffe6e6"/><rect x="65.00" y="12.93" width="13.30" height="13.23" fill="#ffe6e6"/><rect x="78.00" y="12.93" width="13.30" height="13.23" fill="#ffe6e6"/><rect x="91.00" y="12.93" width="13.30" height="13.23" fill="#ffe6e6"/><rect x="104.00" y="12.93" width="13.30" height="13.23" fill="#e6e6ff"/><rect x="117.00" y="12.93" width="13.30" height="13.23" fill="#ffe6e6"/><rect x="130.00" y="12.93" width="13.30" height="13.23" fill="#ffe6e6"/><rect x="143.00" y="12.93" width="13.30" height="13.23" fill="#ffe6e6"/><rect x="156.00" y="12.93" width="13.30" height="13.23" fill="#ffe6e6"/><rect x="169.00" y="12.93" width="13.30" height="13.23" fill="#e6e6ff"/><rect x="182.00" y="12.93" width="13.30" height="13.23" fill="#e6e6ff"/><rect x="195.00" y="12.93" width="33.30" height="13.23" fill="#e6e6ff"/><rect x="-20.00" y="25.86" width="33.30" height="13.23" fill="#e6e6ff"/><rect x="13.00" y="25.86" width="13.30" height="13.23" fill="#ffe6e6"/><rect x="26.00" y="25.86" width="13.30" height="13.23" fill="#ffe6e6"/><rect x="39.00" y="25.86" width="13.30" height="13.23" fill="#ffe6e6"/><rect x="52.00" y="25.86" width="13.30" height="13.23" fill="#ff9696"/><rect x="65.00" y="25.86" width="13.30" height="13.23" fill="#ff4848"/><rect x="78.00" y="25.86" width="13.30" height="13.23" fill="#ff4848"/><rect x="91.00" y="25.86" width="13.30" height="13.23" fill="#9696ff"/><rect x="104.00" y="25.86" width="13.30" height="13.23" fill="#ff9696"/><rect x="117.00" y="25.86" width="13.30" height="13.23" fill="#ff1919"/><rect x="130.00" y="25.86" width="13.30" height="13.23" fill="#5555ff"/><rect x="143.00" y="25.86" width="13.30" height="13.23" fill="#ffe6e6"/><rect x="156.00" y="25.86" width="13.30" height="13.23" fill="#ffe6e6"/><rect x="169.00" y="25.86" width="13.30" height="13.23" fill="#ffc8c8"/><rect x="182.00" y="25.86" width="13.30" height="13.23" fill="#c8c8ff"/><rect x="195.00" y="25.86" width="33.30" height="13.23" fill="#ffe6e6"/><rect x="-20.00" y="38.79" width="33.30" height="13.23" fill="#ffe6e6"/><rect x="13.00" y="38.79" width="13.30" height="13.23" fill="#ffe6e6"/><rect x="26.00" y="38.79" width="13.30" height="13.23" fill="#ffe6e6"/><rect x="39.00" y="38.79" width="13.30" height="13.23" fill="#ffc8c8"/><rect x="52.00" y="38.79" width="13.30" height="13.23" fill="#ffc8c8"/><rect x="65.00" y="38.79" width="13.30" height="13.23" fill="#ff9696"/><rect x="78.00" y="38.79" width="13.30" height="13.23" fill="#ffe6e6"/><rect x="91.00" y="38.79" width="13.30" height="13.23" fill="#c8c8ff"/><rect x="104.00" y="38.79" width="13.30" height="13.23" fill="#5555ff"/><rect x="117.00" y="38.79" width="13.30" height="13.23" fill="#ff4848"/><rect x="130.00" y="38.79" width="13.30" height="13.23" fill="#1919ff"/><rect x="143.00" y="38.79" width="13.30" height="13.23" fill="#5555ff"/><rect x="156.00" y="38.79" width="13.30" height="13.23" fill="#e6e6ff"/><rect x="169.00" y="38.79" width="13.30" height="13.23" fill="#c8c8ff"/><rect x="182.00" y="38.79" width="13.30" height="13.23" fill="#ffe6e6"/><rect x="195.00" y="38.79" width="33.30" height="13.23" fill="#ffe6e6"/><rect x="-20.00" y="51.71" width="33.30" height="13.23" fill="#ffe6e6"/><rect x="13.00" y="51.71" width="13.30" height="13.23" fill="#ffe6e6"/><rect x="26.00" y="51.71" width="13.30" height="13.23" fill="#ffc8c8"/><rect x="39.00" y="51.71" width="13.30" height="13.23" fill="#ffc8c8"/><rect x="52.00" y="51.71" width="13.30" height="13.23" fill="#ff9696"/><rect x="65.00" y="51.71" width="13.30" height="13.23" fill="#ff1919"/><rect x="78.00" y="51.71" width="13.30" height="13.23" fill="#ff1919"/><rect x="91.00" y="51.71" width="13.30" height="13.23" fill="#ff4848"/><rect x="104.00" y="51.71" width="13.30" height="13.23" fill="#ff4848"/><rect x="117.00" y="51.71" width="13.30" height="13.23" fill="#5555ff"/><rect x="130.00" y="51.71" width="13.30" height="13.23" fill="#9696ff"/><rect x="143.00" y="51.71" width="13.30" height="13.23" fill="#1919ff"/><rect x="156.00" y="51.71" width="13.30" height="13.23" fill="#c8c8ff"/><rect x="169.00" y="51.71" width="13.30" height="13.23" fill="#ffe6e6"/><rect x="182.00" y="51.71" width="13.30" height="13.23" fill="#ffe6e6"/><rect x="195.00" y="51.71" width="33.30" height="13.23" fill="#ffe6e6"/><rect x="-20.00" y="64.64" width="33.30" height="13.23" fill="#ffe6e6"/><rect x="13.00" y="64.64" width="13.30" height="13.23" fill="#ffc8c8"/><rect x="26.00" y="64.64" width="13.30" height="13.23" fill="#ffc8c8"/><rect x="39.00" y="64.64" width="13.30" height="13.23" fill="#ffc8c8"/><rect x="52.00" y="64.64" width="13.30" height="13.23" fill="#ff9696"/><rect x="65.00" y="64.64" width="13.30" height="13.23" fill="#ff1919"/><rect x="78.00" y="64.64" width="13.30" height="13.23" fill="#ff1919"/><rect x="91.00" y="64.64" width="13.30" height="13.23" fill="#9696ff"/><rect x="104.00" y="64.64" width="13.30" height="13.23" fill="#ff1919"/><rect x="117.00" y="64.64" width="13.30" height="13.23" fill="#5555ff"/><rect x="130.00" y="64.64" width="13.30" height="13.23" fill="#5555ff"/><rect x="143.00" y="64.64" width="13.30" height="13.23" fill="#ff4848"/><rect x="156.00" y="64.64" width="13.30" height="13.23" fill="#ffc8c8"/><rect x="169.00" y="64.64" width="13.30" height="13.23" fill="#ffe6e6"/><rect x="182.00" y="64.64" width="13.30" height="13.23" fill="#ffe6e6"/><rect x="195.00" y="64.64" width="33.30" height="13.23" fill="#ffe6e6"/><rect x="-20.00" y="77.57" width="33.30" height="13.23" fill="#e6e6ff"/><rect x="13.00" y="77.57" width="13.30" height="13.23" fill="#ffe6e6"/><rect x="26.00" y="77.57" width="13.30" height="13.23" fill="#ffc8c8"/><rect x="39.00" y="77.57" width="13.30" height="13.23" fill="#ffc8c8"/><rect x="52.00" y="77.57" width="13.30" height="13.23" fill="#ffc8c8"/><rect x="65.00" y="77.57" width="13.30" height="13.23" fill="#ff1919"/><rect x="91.00" y="77.57" width="13.30" height="13.23" fill="#1919ff"/><rect x="104.00" y="77.57" width="13.30" height="13.23" fill="#ff1919"/><rect x="117.00" y="77.57" width="13.30" height="13.23" fill="#1919ff"/><rect x="130.00" y="77.57" width="13.30" height="13.23" fill="#9696ff"/><rect x="143.00" y="77.57" width="13.30" height="13.23" fill="#ff9696"/><rect x="156.00" y="77.57" width="13.30" height="13.23" fill="#ffe6e6"/><rect x="169.00" y="77.57" width="13.30" height="13.23" fill="#ffe6e6"/><rect x="182.00" y="77.57" width="13.30" height="13.23" fill="#ffe6e6"/><rect x="195.00" y="77.57" width="33.30" height="13.23" fill="#ffe6e6"/><rect x="-20.00" y="90.50" width="33.30" height="13.23" fill="#ffe6e6"/><rect x="13.00" y="90.50" width="13.30" height="13.23" fill="#ffe6e6"/><rect x="26.00" y="90.50" width="13.30" height="13.23" fill="#ffc8c8"/><rect x="39.00" y="90.50" width="13.30" height="13.23" fill="#ff9696"/><rect x="52.00" y="90.50" width="13.30" height="13.23" fill="#ff9696"/><rect x="65.00" y="90.50" width="13.30" height="13.23" fill="#ff9696"/><rect x="78.00" y="90.50" width="13.30" height="13.23" fill="#c8c8ff"/><rect x="91.00" y="90.50" width="13.30" height="13.23" fill="#5555ff"/><rect x="104.00" y="90.50" width="13.30" height="13.23" fill="#9696ff"/><rect x="117.00" y="90.50" width="13.30" height="13.23" fill="#5555ff"/><rect x="130.00" y="90.50" width="13.30" height="13.23" fill="#c8c8ff"/><rect x="143.00" y="90.50" width="13.30" height="13.23" fill="#ffe6e6"/><rect x="156.00" y="90.50" width="13.30" height="13.23" fill="#ffe6e6"/><rect x="169.00" y="90.50" width="13.30" height="13.23" fill="#ffe6e6"/><rect x="182.00" y="90.50" width="13.30" height="13.23" fill="#ffe6e6"/><rect x="195.00" y="90.50" width="33.30" height="13.23" fill="#ffe6e6"/><rect x="-20.00" y="103.43" width="33.30" height="13.23" fill="#ffe6e6"/><rect x="13.00" y="103.43" width="13.30" height="13.23" fill="#ffe6e6"/><rect x="26.00" y="103.43" width="13.30" height="13.23" fill="#ffe6e6"/><rect x="39.00" y="103.43" width="13.30" height="13.23" fill="#ffc8c8"/><rect x="52.00" y="103.43" width="13.30" height="13.23" fill="#ffc8c8"/><rect x="65.00" y="103.43" width="13.30" height="13.23" fill="#c8c8ff"/><rect x="78.00" y="103.43" width="13.30" height="13.23" fill="#9696ff"/><rect x="91.00" y="103.43" width="13.30" height="13.23" fill="#9696ff"/><rect x="104.00" y="103.43" width="13.30" height="13.23" fill="#5555ff"/><rect x="117.00" y="103.43" width="13.30" height="13.23" fill="#9696ff"/><rect x="130.00" y="103.43" width="13.30" height="13.23" fill="#c8c8ff"/><rect x="156.00" y="103.43" width="13.30" height="13.23" fill="#ffe6e6"/><rect x="169.00" y="103.43" width="13.30" height="13.23" fill="#ffe6e6"/><rect x="182.00" y="103.43" width="13.30" height="13.23" fill="#ffe6e6"/><rect x="195.00" y="103.43" width="33.30" height="13.23" fill="#ffe6e6"/><rect x="-20.00" y="116.36" width="33.30" height="13.23" fill="#e6e6ff"/><rect x="13.00" y="116.36" width="13.30" height="13.23" fill="#e6e6ff"/><rect x="26.00" y="116.36" width="13.30" height="13.23" fill="#ffe6e6"/><rect x="39.00" y="116.36" width="13.30" height="13.23" fill="#ffe6e6"/><rect x="52.00" y="116.36" width="13.30" height="13.23" fill="#c8c8ff"/><rect x="65.00" y="116.36" width="13.30" height="13.23" fill="#9696ff"/><rect x="78.00" y="116.36" width="13.30" height="13.23" fill="#9696ff"/><rect x="91.00" y="116.36" width="13.30" height="13.23" fill="#9696ff"/><rect x="104.00" y="116.36" width="13.30" height="13.23" fill="#5555ff"/><rect x="117.00" y="116.36" width="13.30" height="13.23" fill="#c8c8ff"/><rect x="130.00" y="116.36" width="13.30" height="13.23" fill="#e6e6ff"/><rect x="156.00" y="116.36" width="13.30" height="13.23" fill="#ffe6e6"/><rect x="169.00" y="116.36" width="13.30" height="13.23" fill="#ffe6e6"/><rect x="182.00" y="116.36" width="13.30" height="13.23" fill="#ffc8c8"/><rect x="195.00" y="116.36" width="33.30" height="13.23" fill="#ffe6e6"/><rect x="-20.00" y="129.29" width="33.30" height="13.23" fill="#ffe6e6"/><rect x="13.00" y="129.29" width="13.30" height="13.23" fill="#e6e6ff"/><rect x="26.00" y="129.29" width="13.30" height="13.23" fill="#ffe6e6"/><rect x="39.00" y="129.29" width="13.30" height="13.23" fill="#ffe6e6"/><rect x="52.00" y="129.29" width="13.30" height="13.23" fill="#9696ff"/><rect x="65.00" y="129.29" width="13.30" height="13.23" fill="#c8c8ff"/><rect x="78.00" y="129.29" width="13.30" height="13.23" fill="#c8c8ff"/><rect x="91.00" y="129.29" width="13.30" height="13.23" fill="#9696ff"/><rect x="104.00" y="129.29" width="13.30" height="13.23" fill="#9696ff"/><rect x="117.00" y="129.29" width="13.30" height="13.23" fill="#c8c8ff"/><rect x="143.00" y="129.29" width="13.30" height="13.23" fill="#ffe6e6"/><rect x="156.00" y="129.29" width="13.30" height="13.23" fill="#ffe6e6"/><rect x="169.00" y="129.29" width="13.30" height="13.23" fill="#ffe6e6"/><rect x="182.00" y="129.29" width="13.30" height="13.23" fill="#ffe6e6"/><rect x="195.00" y="129.29" width="33.30" height="13.23" fill="#ffe6e6"/><rect x="-20.00" y="142.21" width="33.30" height="13.23" fill="#ffe6e6"/><rect x="13.00" y="142.21" width="13.30" height="13.23" fill="#ffe6e6"/><rect x="26.00" y="142.21" width="13.30" height="13.23" fill="#ffe6e6"/><rect x="39.00" y="142.21" width="13.30" height="13.23" fill="#9696ff"/><rect x="52.00" y="142.21" width="13.30" height="13.23" fill="#c8c8ff"/><rect x="65.00" y="142.21" width="13.30" height="13.23" fill="#c8c8ff"/><rect x="78.00" y="142.21" width="13.30" height="13.23" fill="#c8c8ff"/><rect x="91.00" y="142.21" width="13.30" height="13.23" fill="#c8c8ff"/><rect x="104.00" y="142.21" width="13.30" height="13.23" fill="#c8c8ff"/><rect x="117.00" y="142.21" width="13.30" height="13.23" fill="#e6e6ff"/><rect x="130.00" y="142.21" width="13.30" height="13.23" fill="#ffe6e6"/><rect x="143.00" y="142.21" width="13.30" height="13.23" fill="#ffc8c8"/><rect x="156.00" y="142.21" width="13.30" height="13.23" fill="#ffe6e6"/><rect x="169.00" y="142.21" width="13.30" height="13.23" fill="#ffe6e6"/><rect x="182.00" y="142.21" width="13.30" height="13.23" fill="#ffe6e6"/><rect x="195.00" y="142.21" width="33.30" height="13.23" fill="#ffe6e6"/><rect x="-20.00" y="155.14" width="33.30" height="13.23" fill="#ffe6e6"/><rect x="13.00" y="155.14" width="13.30" height="13.23" fill="#ffe6e6"/><rect x="26.00" y="155.14" width="13.30" height="13.23" fill="#ffc8c8"/><rect x="39.00" y="155.14" width="13.30" height="13.23" fill="#c8c8ff"/><rect x="52.00" y="155.14" width="13.30" height="13.23" fill="#c8c8ff"/><rect x="65.00" y="155.14" width="13.30" height="13.23" fill="#c8c8ff"/><rect x="78.00" y="155.14" width="13.30" height="13.23" fill="#c8c8ff"/><rect x="91.00" y="155.14" width="13.30" height="13.23" fill="#c8c8ff"/><rect x="104.00" y="155.14" width="13.30" height="13.23" fill="#ff9696"/><rect x="130.00" y="155.14" width="13.30" height="13.23" fill="#ffc8c8"/><rect x="143.00" y="155.14" width="13.30" height="13.23" fill="#ffc8c8"/><rect x="156.00" y="155.14" width="13.30" height="13.23" fill="#ffe6e6"/><rect x="169.00" y="155.14" width="13.30" height="13.23" fill="#ffe6e6"/><rect x="182.00" y="155.14" width="13.30" height="13.23" fill="#ffe6e6"/><rect x="195.00" y="155.14" width="33.30" height="13.23" fill="#e6e6ff"/><rect x="-20.00" y="168.07" width="33.30" height="33.23" fill="#ffe6e6"/><rect x="13.00" y="168.07" width="13.30" height="33.23" fill="#ffe6e6"/><rect x="26.00" y="168.07" width="13.30" height="33.23" fill="#ffe6e6"/><rect x="39.00" y="168.07" width="13.30" height="33.23" fill="#e6e6ff"/><rect x="52.00" y="168.07" width="13.30" height="33.23" fill="#ffe6e6"/><rect x="65.00" y="168.07" width="13.30" height="33.23" fill="#c8c8ff"/><rect x="78.00" y="168.07" width="13.30" height="33.23" fill="#c8c8ff"/><rect x="91.00" y="168.07" width="13.30" height="33.23" fill="#c8c8ff"/><rect x="104.00" y="168.07" width="13.30" height="33.23" fill="#ff4848"/><rect x="130.00" y="168.07" width="13.30" height="33.23" fill="#ffe6e6"/><rect x="143.00" y="168.07" width="13.30" height="33.23" fill="#ffe6e6"/><rect x="156.00" y="168.07" width="13.30" height="33.23" fill="#ffe6e6"/><rect x="169.00" y="168.07" width="13.30" height="33.23" fill="#ffe6e6"/><rect x="182.00" y="168.07" width="13.30" height="33.23" fill="#ffe6e6"/><rect x="195.00" y="168.07" width="33.30" height="33.23" fill="#e6e6ff"/></g><circle cx="56" cy="58" r="0.7" fill="#000"/><filter id="o20a" x="-50%" y="-50%" width="200%" height="200%"><feGaussianBlur stdDeviation="3.2"/></filter><filter id="o20b" x="-50%" y="-50%" width="200%" height="200%"><feGaussianBlur stdDeviation="1.3"/></filter><filter id="o20c" x="-50%" y="-50%" width="200%" height="200%"><feGaussianBlur stdDeviation="0.8"/></filter><g filter="url(#o20a)"><ellipse cx="118" cy="62" rx="13" ry="26" fill="#4a4aff"/><path d="M56,45 L86,40 L92,70 L90,92 L74,94 L58,78 Z" fill="#ff1a1a"/><path d="M155,60 L208,18" stroke="#c8c8ff" stroke-width="10"/><ellipse cx="154" cy="71" rx="5" ry="9" fill="#ff8080"/><path d="M100,95 L122,95 L118,140 L104,140 Z" fill="#4040ff"/><path d="M112,160 L116,181" stroke="#ff5050" stroke-width="8"/></g><g filter="url(#o20b)"><path d="M47,26.5 L66,26 L66,32.5 L47,32.5 Z" fill="#ff3a3a"/><path d="M69,24 L88,24 L88,35 L69,35 Z" fill="#ff1a1a"/><ellipse cx="97" cy="54" rx="15" ry="10" fill="#ff1a1a"/><ellipse cx="113" cy="75" rx="9" ry="14" fill="#ff1a1a"/><path d="M84,72 L100,66 L106,72 L104,88 L96,92 L86,90 Z" fill="#1a1aff"/><ellipse cx="98" cy="98" rx="8" ry="8" fill="#1a1aff"/><path d="M128,36 L158,63" stroke="#1a1aff" stroke-width="7"/><path d="M124,45 L129,52" stroke="#ff5050" stroke-width="3"/><path d="M84,97 L41,151" stroke="#8a8aff" stroke-width="5"/></g><g filter="url(#o20c)"><path d="M92,99 L56,148 L65,151" stroke="#ff1a1a" stroke-width="7.5" fill="none" stroke-linejoin="round"/><circle cx="39" cy="155" r="2.5" fill="#ff4040"/><circle cx="112.5" cy="160" r="2" fill="#ff3030"/></g><g stroke="#000" stroke-width="0.7" fill="none"><path d="M135.5,90 C137.5,91 136,95 134,98 L128,108 C126,111 125,114 123,115 C121.5,115 121.3,112 122,108 C123,102 126,96 130,92.5 C132,90.5 134,89.5 135.5,90 Z"/><path d="M122,114.5 C124,115 124,118 123,121 L120,128 C119,130 117.5,131 116.5,130 C115.5,129 116,126 117,123 C118,119 120,114.5 122,114.5 Z"/><path d="M115,132.6 L117.3,135.5 L115,139 L112.8,135.8 Z"/><ellipse cx="112.6" cy="143" rx="1.7" ry="3" transform="rotate(20 112.6 143)"/><ellipse cx="92.3" cy="45.8" rx="4.3" ry="2.3"/><ellipse cx="86.5" cy="48.6" rx="3.2" ry="1.9"/><ellipse cx="81.1" cy="53.5" rx="1.6" ry="3.3"/></g><g stroke="#888" stroke-width="0.8"><line x1="8.6" y1="181.0" x2="8.6" y2="179.0"/><line x1="8.6" y1="0" x2="8.6" y2="2"/><line x1="19.0" y1="181.0" x2="19.0" y2="179.0"/><line x1="19.0" y1="0" x2="19.0" y2="2"/><line x1="29.4" y1="181.0" x2="29.4" y2="179.0"/><line x1="29.4" y1="0" x2="29.4" y2="2"/><line x1="39.8" y1="181.0" x2="39.8" y2="179.0"/><line x1="39.8" y1="0" x2="39.8" y2="2"/><line x1="50.2" y1="181.0" x2="50.2" y2="177.0"/><line x1="50.2" y1="0" x2="50.2" y2="4"/><line x1="60.6" y1="181.0" x2="60.6" y2="179.0"/><line x1="60.6" y1="0" x2="60.6" y2="2"/><line x1="71.0" y1="181.0" x2="71.0" y2="179.0"/><line x1="71.0" y1="0" x2="71.0" y2="2"/><line x1="81.4" y1="181.0" x2="81.4" y2="179.0"/><line x1="81.4" y1="0" x2="81.4" y2="2"/><line x1="91.8" y1="181.0" x2="91.8" y2="179.0"/><line x1="91.8" y1="0" x2="91.8" y2="2"/><line x1="102.2" y1="181.0" x2="102.2" y2="177.0"/><line x1="102.2" y1="0" x2="102.2" y2="4"/><line x1="112.6" y1="181.0" x2="112.6" y2="179.0"/><line x1="112.6" y1="0" x2="112.6" y2="2"/><line x1="123.0" y1="181.0" x2="123.0" y2="179.0"/><line x1="123.0" y1="0" x2="123.0" y2="2"/><line x1="133.4" y1="181.0" x2="133.4" y2="179.0"/><line x1="133.4" y1="0" x2="133.4" y2="2"/><line x1="143.8" y1="181.0" x2="143.8" y2="179.0"/><line x1="143.8" y1="0" x2="143.8" y2="2"/><line x1="154.2" y1="181.0" x2="154.2" y2="177.0"/><line x1="154.2" y1="0" x2="154.2" y2="4"/><line x1="164.6" y1="181.0" x2="164.6" y2="179.0"/><line x1="164.6" y1="0" x2="164.6" y2="2"/><line x1="175.0" y1="181.0" x2="175.0" y2="179.0"/><line x1="175.0" y1="0" x2="175.0" y2="2"/><line x1="185.4" y1="181.0" x2="185.4" y2="179.0"/><line x1="185.4" y1="0" x2="185.4" y2="2"/><line x1="195.8" y1="181.0" x2="195.8" y2="179.0"/><line x1="195.8" y1="0" x2="195.8" y2="2"/><line x1="206.2" y1="181.0" x2="206.2" y2="177.0"/><line x1="206.2" y1="0" x2="206.2" y2="4"/><line x1="0" y1="10.3" x2="2" y2="10.3"/><line x1="208.0" y1="10.3" x2="206.0" y2="10.3"/><line x1="0" y1="20.5" x2="2" y2="20.5"/><line x1="208.0" y1="20.5" x2="206.0" y2="20.5"/><line x1="0" y1="30.8" x2="2" y2="30.8"/><line x1="208.0" y1="30.8" x2="206.0" y2="30.8"/><line x1="0" y1="41.0" x2="2" y2="41.0"/><line x1="208.0" y1="41.0" x2="206.0" y2="41.0"/><line x1="0" y1="51.3" x2="4" y2="51.3"/><line x1="208.0" y1="51.3" x2="204.0" y2="51.3"/><line x1="0" y1="61.6" x2="2" y2="61.6"/><line x1="208.0" y1="61.6" x2="206.0" y2="61.6"/><line x1="0" y1="71.8" x2="2" y2="71.8"/><line x1="208.0" y1="71.8" x2="206.0" y2="71.8"/><line x1="0" y1="82.1" x2="2" y2="82.1"/><line x1="208.0" y1="82.1" x2="206.0" y2="82.1"/><line x1="0" y1="92.3" x2="2" y2="92.3"/><line x1="208.0" y1="92.3" x2="206.0" y2="92.3"/><line x1="0" y1="102.6" x2="4" y2="102.6"/><line x1="208.0" y1="102.6" x2="204.0" y2="102.6"/><line x1="0" y1="112.9" x2="2" y2="112.9"/><line x1="208.0" y1="112.9" x2="206.0" y2="112.9"/><line x1="0" y1="123.1" x2="2" y2="123.1"/><line x1="208.0" y1="123.1" x2="206.0" y2="123.1"/><line x1="0" y1="133.4" x2="2" y2="133.4"/><line x1="208.0" y1="133.4" x2="206.0" y2="133.4"/><line x1="0" y1="143.6" x2="2" y2="143.6"/><line x1="208.0" y1="143.6" x2="206.0" y2="143.6"/><line x1="0" y1="153.9" x2="4" y2="153.9"/><line x1="208.0" y1="153.9" x2="204.0" y2="153.9"/><line x1="0" y1="164.2" x2="2" y2="164.2"/><line x1="208.0" y1="164.2" x2="206.0" y2="164.2"/><line x1="0" y1="174.4" x2="2" y2="174.4"/><line x1="208.0" y1="174.4" x2="206.0" y2="174.4"/></g><rect x="0.4" y="0.4" width="207.2" height="180.2" fill="none" stroke="#999" stroke-width="1"/></svg>
</div>
<div class="title" style="left:-63.0px;top:449.79999999999995px;">Horizontal magnetic shear change <i class='dl'>&delta;</i>S<sub>h</sub></div>
<div class="yl" style="left:-8.0px;top:461.4px">-7.5</div>
<div class="yl" style="left:-8.0px;top:512.6px">-8.0</div>
<div class="yl" style="left:-8.0px;top:563.8px">-8.5</div>
<div class="yl" style="left:-8.0px;top:615.0px">-9.0</div>
<div class="xl" style="left:63.2px;top:648.6999999999999px">32.0</div>
<div class="xl" style="left:115.1px;top:648.6999999999999px">32.5</div>
<div class="xl" style="left:167.0px;top:648.6999999999999px">33.0</div>
<div class="xl" style="left:218.89999999999998px;top:648.6999999999999px">33.5</div>
<div class="plot" style="left:341.3px;top:463.4px">
<svg width="208.0" height="181.0" viewBox="0 0 208.0 181.0"><filter id="bl21" x="-30%" y="-30%" width="160%" height="160%"><feGaussianBlur stdDeviation="4"/></filter><g filter="url(#bl21)"><rect x="-20.00" y="-20.00" width="33.30" height="33.23" fill="#e6e6ff"/><rect x="13.00" y="-20.00" width="13.30" height="33.23" fill="#e6e6ff"/><rect x="26.00" y="-20.00" width="13.30" height="33.23" fill="#e6e6ff"/><rect x="39.00" y="-20.00" width="13.30" height="33.23" fill="#e6e6ff"/><rect x="52.00" y="-20.00" width="13.30" height="33.23" fill="#e6e6ff"/><rect x="65.00" y="-20.00" width="13.30" height="33.23" fill="#e6e6ff"/><rect x="91.00" y="-20.00" width="13.30" height="33.23" fill="#e6e6ff"/><rect x="104.00" y="-20.00" width="13.30" height="33.23" fill="#e6e6ff"/><rect x="130.00" y="-20.00" width="13.30" height="33.23" fill="#e6e6ff"/><rect x="156.00" y="-20.00" width="13.30" height="33.23" fill="#e6e6ff"/><rect x="169.00" y="-20.00" width="13.30" height="33.23" fill="#e6e6ff"/><rect x="182.00" y="-20.00" width="13.30" height="33.23" fill="#e6e6ff"/><rect x="195.00" y="-20.00" width="33.30" height="33.23" fill="#e6e6ff"/><rect x="13.00" y="12.93" width="13.30" height="13.23" fill="#e6e6ff"/><rect x="26.00" y="12.93" width="13.30" height="13.23" fill="#e6e6ff"/><rect x="39.00" y="12.93" width="13.30" height="13.23" fill="#e6e6ff"/><rect x="52.00" y="12.93" width="13.30" height="13.23" fill="#e6e6ff"/><rect x="65.00" y="12.93" width="13.30" height="13.23" fill="#e6e6ff"/><rect x="78.00" y="12.93" width="13.30" height="13.23" fill="#f2f2ff"/><rect x="91.00" y="12.93" width="13.30" height="13.23" fill="#e6e6ff"/><rect x="104.00" y="12.93" width="13.30" height="13.23" fill="#c8c8ff"/><rect x="117.00" y="12.93" width="13.30" height="13.23" fill="#e6e6ff"/><rect x="130.00" y="12.93" width="13.30" height="13.23" fill="#e6e6ff"/><rect x="143.00" y="12.93" width="13.30" height="13.23" fill="#e6e6ff"/><rect x="156.00" y="12.93" width="13.30" height="13.23" fill="#e6e6ff"/><rect x="169.00" y="12.93" width="13.30" height="13.23" fill="#e6e6ff"/><rect x="195.00" y="12.93" width="33.30" height="13.23" fill="#e6e6ff"/><rect x="-20.00" y="25.86" width="33.30" height="13.23" fill="#f2f2ff"/><rect x="26.00" y="25.86" width="13.30" height="13.23" fill="#f2f2ff"/><rect x="39.00" y="25.86" width="13.30" height="13.23" fill="#f2f2ff"/><rect x="52.00" y="25.86" width="13.30" height="13.23" fill="#f2f2ff"/><rect x="65.00" y="25.86" width="13.30" height="13.23" fill="#ffc8c8"/><rect x="78.00" y="25.86" width="13.30" height="13.23" fill="#ff4848"/><rect x="91.00" y="25.86" width="13.30" height="13.23" fill="#ff1919"/><rect x="104.00" y="25.86" width="13.30" height="13.23" fill="#ff1919"/><rect x="117.00" y="25.86" width="13.30" height="13.23" fill="#ffe6e6"/><rect x="130.00" y="25.86" width="13.30" height="13.23" fill="#e6e6ff"/><rect x="143.00" y="25.86" width="13.30" height="13.23" fill="#c8c8ff"/><rect x="156.00" y="25.86" width="13.30" height="13.23" fill="#e6e6ff"/><rect x="169.00" y="25.86" width="13.30" height="13.23" fill="#c8c8ff"/><rect x="182.00" y="25.86" width="13.30" height="13.23" fill="#f2f2ff"/><rect x="13.00" y="38.79" width="13.30" height="13.23" fill="#f2f2ff"/><rect x="26.00" y="38.79" width="13.30" height="13.23" fill="#f2f2ff"/><rect x="39.00" y="38.79" width="13.30" height="13.23" fill="#f2f2ff"/><rect x="52.00" y="38.79" width="13.30" height="13.23" fill="#ffc8c8"/><rect x="65.00" y="38.79" width="13.30" height="13.23" fill="#ff9696"/><rect x="78.00" y="38.79" width="13.30" height="13.23" fill="#ff9696"/><rect x="91.00" y="38.79" width="13.30" height="13.23" fill="#ff4848"/><rect x="104.00" y="38.79" width="13.30" height="13.23" fill="#ff1919"/><rect x="117.00" y="38.79" width="13.30" height="13.23" fill="#ff4848"/><rect x="130.00" y="38.79" width="13.30" height="13.23" fill="#ffc8c8"/><rect x="143.00" y="38.79" width="13.30" height="13.23" fill="#e6e6ff"/><rect x="156.00" y="38.79" width="13.30" height="13.23" fill="#c8c8ff"/><rect x="169.00" y="38.79" width="13.30" height="13.23" fill="#ffe6e6"/><rect x="182.00" y="38.79" width="13.30" height="13.23" fill="#f2f2ff"/><rect x="195.00" y="38.79" width="33.30" height="13.23" fill="#f2f2ff"/><rect x="-20.00" y="51.71" width="33.30" height="13.23" fill="#f2f2ff"/><rect x="13.00" y="51.71" width="13.30" height="13.23" fill="#f2f2ff"/><rect x="26.00" y="51.71" width="13.30" height="13.23" fill="#f2f2ff"/><rect x="39.00" y="51.71" width="13.30" height="13.23" fill="#f2f2ff"/><rect x="52.00" y="51.71" width="13.30" height="13.23" fill="#ffc8c8"/><rect x="65.00" y="51.71" width="13.30" height="13.23" fill="#ff9696"/><rect x="78.00" y="51.71" width="13.30" height="13.23" fill="#ff9696"/><rect x="117.00" y="51.71" width="13.30" height="13.23" fill="#ff1919"/><rect x="130.00" y="51.71" width="13.30" height="13.23" fill="#ff4848"/><rect x="143.00" y="51.71" width="13.30" height="13.23" fill="#ffe6e6"/><rect x="156.00" y="51.71" width="13.30" height="13.23" fill="#ffc8c8"/><rect x="169.00" y="51.71" width="13.30" height="13.23" fill="#f2f2ff"/><rect x="182.00" y="51.71" width="13.30" height="13.23" fill="#f2f2ff"/><rect x="-20.00" y="64.64" width="33.30" height="13.23" fill="#f2f2ff"/><rect x="26.00" y="64.64" width="13.30" height="13.23" fill="#f2f2ff"/><rect x="39.00" y="64.64" width="13.30" height="13.23" fill="#f2f2ff"/><rect x="52.00" y="64.64" width="13.30" height="13.23" fill="#f2f2ff"/><rect x="65.00" y="64.64" width="13.30" height="13.23" fill="#ffc8c8"/><rect x="78.00" y="64.64" width="13.30" height="13.23" fill="#ff4848"/><rect x="91.00" y="64.64" width="13.30" height="13.23" fill="#ff1919"/><rect x="117.00" y="64.64" width="13.30" height="13.23" fill="#ff1919"/><rect x="130.00" y="64.64" width="13.30" height="13.23" fill="#ff4848"/><rect x="143.00" y="64.64" width="13.30" height="13.23" fill="#ffc8c8"/><rect x="156.00" y="64.64" width="13.30" height="13.23" fill="#ffe6e6"/><rect x="169.00" y="64.64" width="13.30" height="13.23" fill="#ffc8c8"/><rect x="182.00" y="64.64" width="13.30" height="13.23" fill="#f2f2ff"/><rect x="13.00" y="77.57" width="13.30" height="13.23" fill="#f2f2ff"/><rect x="26.00" y="77.57" width="13.30" height="13.23" fill="#f2f2ff"/><rect x="39.00" y="77.57" width="13.30" height="13.23" fill="#f2f2ff"/><rect x="52.00" y="77.57" width="13.30" height="13.23" fill="#f2f2ff"/><rect x="65.00" y="77.57" width="13.30" height="13.23" fill="#f2f2ff"/><rect x="78.00" y="77.57" width="13.30" height="13.23" fill="#ff1919"/><rect x="91.00" y="77.57" width="13.30" height="13.23" fill="#ff1919"/><rect x="104.00" y="77.57" width="13.30" height="13.23" fill="#ffe6e6"/><rect x="117.00" y="77.57" width="13.30" height="13.23" fill="#ff1919"/><rect x="130.00" y="77.57" width="13.30" height="13.23" fill="#ff9696"/><rect x="143.00" y="77.57" width="13.30" height="13.23" fill="#ffc8c8"/><rect x="156.00" y="77.57" width="13.30" height="13.23" fill="#ffc8c8"/><rect x="169.00" y="77.57" width="13.30" height="13.23" fill="#ffe6e6"/><rect x="182.00" y="77.57" width="13.30" height="13.23" fill="#f2f2ff"/><rect x="-20.00" y="90.50" width="33.30" height="13.23" fill="#f2f2ff"/><rect x="13.00" y="90.50" width="13.30" height="13.23" fill="#f2f2ff"/><rect x="26.00" y="90.50" width="13.30" height="13.23" fill="#f2f2ff"/><rect x="39.00" y="90.50" width="13.30" height="13.23" fill="#f2f2ff"/><rect x="52.00" y="90.50" width="13.30" height="13.23" fill="#e6e6ff"/><rect x="65.00" y="90.50" width="13.30" height="13.23" fill="#5555ff"/><rect x="78.00" y="90.50" width="13.30" height="13.23" fill="#1919ff"/><rect x="91.00" y="90.50" width="13.30" height="13.23" fill="#c8c8ff"/><rect x="104.00" y="90.50" width="13.30" height="13.23" fill="#ffe6e6"/><rect x="117.00" y="90.50" width="13.30" height="13.23" fill="#ff4848"/><rect x="130.00" y="90.50" width="13.30" height="13.23" fill="#ff9696"/><rect x="143.00" y="90.50" width="13.30" height="13.23" fill="#ffe6e6"/><rect x="156.00" y="90.50" width="13.30" height="13.23" fill="#ffc8c8"/><rect x="169.00" y="90.50" width="13.30" height="13.23" fill="#ffe6e6"/><rect x="182.00" y="90.50" width="13.30" height="13.23" fill="#f2f2ff"/><rect x="195.00" y="90.50" width="33.30" height="13.23" fill="#f2f2ff"/><rect x="13.00" y="103.43" width="13.30" height="13.23" fill="#f2f2ff"/><rect x="26.00" y="103.43" width="13.30" height="13.23" fill="#f2f2ff"/><rect x="39.00" y="103.43" width="13.30" height="13.23" fill="#e6e6ff"/><rect x="52.00" y="103.43" width="13.30" height="13.23" fill="#c8c8ff"/><rect x="65.00" y="103.43" width="13.30" height="13.23" fill="#9696ff"/><rect x="78.00" y="103.43" width="13.30" height="13.23" fill="#5555ff"/><rect x="91.00" y="103.43" width="13.30" height="13.23" fill="#e6e6ff"/><rect x="104.00" y="103.43" width="13.30" height="13.23" fill="#ffc8c8"/><rect x="117.00" y="103.43" width="13.30" height="13.23" fill="#ff9696"/><rect x="130.00" y="103.43" width="13.30" height="13.23" fill="#ffe6e6"/><rect x="143.00" y="103.43" width="13.30" height="13.23" fill="#ffc8c8"/><rect x="156.00" y="103.43" width="13.30" height="13.23" fill="#ffc8c8"/><rect x="169.00" y="103.43" width="13.30" height="13.23" fill="#ffe6e6"/><rect x="182.00" y="103.43" width="13.30" height="13.23" fill="#f2f2ff"/><rect x="-20.00" y="116.36" width="33.30" height="13.23" fill="#f2f2ff"/><rect x="13.00" y="116.36" width="13.30" height="13.23" fill="#f2f2ff"/><rect x="26.00" y="116.36" width="13.30" height="13.23" fill="#f2f2ff"/><rect x="39.00" y="116.36" width="13.30" height="13.23" fill="#c8c8ff"/><rect x="52.00" y="116.36" width="13.30" height="13.23" fill="#9696ff"/><rect x="65.00" y="116.36" width="13.30" height="13.23" fill="#9696ff"/><rect x="78.00" y="116.36" width="13.30" height="13.23" fill="#c8c8ff"/><rect x="91.00" y="116.36" width="13.30" height="13.23" fill="#f2f2ff"/><rect x="104.00" y="116.36" width="13.30" height="13.23" fill="#ffe6e6"/><rect x="117.00" y="116.36" width="13.30" height="13.23" fill="#ffc8c8"/><rect x="130.00" y="116.36" width="13.30" height="13.23" fill="#ffe6e6"/><rect x="143.00" y="116.36" width="13.30" height="13.23" fill="#ffe6e6"/><rect x="156.00" y="116.36" width="13.30" height="13.23" fill="#ffc8c8"/><rect x="169.00" y="116.36" width="13.30" height="13.23" fill="#ffe6e6"/><rect x="195.00" y="116.36" width="33.30" height="13.23" fill="#f2f2ff"/><rect x="-20.00" y="129.29" width="33.30" height="13.23" fill="#f2f2ff"/><rect x="13.00" y="129.29" width="13.30" height="13.23" fill="#f2f2ff"/><rect x="26.00" y="129.29" width="13.30" height="13.23" fill="#f2f2ff"/><rect x="39.00" y="129.29" width="13.30" height="13.23" fill="#c8c8ff"/><rect x="52.00" y="129.29" width="13.30" height="13.23" fill="#9696ff"/><rect x="65.00" y="129.29" width="13.30" height="13.23" fill="#c8c8ff"/><rect x="78.00" y="129.29" width="13.30" height="13.23" fill="#e6e6ff"/><rect x="104.00" y="129.29" width="13.30" height="13.23" fill="#ffe6e6"/><rect x="117.00" y="129.29" width="13.30" height="13.23" fill="#ffc8c8"/><rect x="130.00" y="129.29" width="13.30" height="13.23" fill="#ffe6e6"/><rect x="143.00" y="129.29" width="13.30" height="13.23" fill="#c8c8ff"/><rect x="156.00" y="129.29" width="13.30" height="13.23" fill="#ffe6e6"/><rect x="169.00" y="129.29" width="13.30" height="13.23" fill="#ffe6e6"/><rect x="-20.00" y="142.21" width="33.30" height="13.23" fill="#f2f2ff"/><rect x="13.00" y="142.21" width="13.30" height="13.23" fill="#f2f2ff"/><rect x="26.00" y="142.21" width="13.30" height="13.23" fill="#f2f2ff"/><rect x="39.00" y="142.21" width="13.30" height="13.23" fill="#e6e6ff"/><rect x="52.00" y="142.21" width="13.30" height="13.23" fill="#c8c8ff"/><rect x="65.00" y="142.21" width="13.30" height="13.23" fill="#e6e6ff"/><rect x="78.00" y="142.21" width="13.30" height="13.23" fill="#f2f2ff"/><rect x="91.00" y="142.21" width="13.30" height="13.23" fill="#f2f2ff"/><rect x="104.00" y="142.21" width="13.30" height="13.23" fill="#ffe6e6"/><rect x="117.00" y="142.21" width="13.30" height="13.23" fill="#ffc8c8"/><rect x="130.00" y="142.21" width="13.30" height="13.23" fill="#ffe6e6"/><rect x="143.00" y="142.21" width="13.30" height="13.23" fill="#c8c8ff"/><rect x="156.00" y="142.21" width="13.30" height="13.23" fill="#ffe6e6"/><rect x="182.00" y="142.21" width="13.30" height="13.23" fill="#f2f2ff"/><rect x="13.00" y="155.14" width="13.30" height="13.23" fill="#f2f2ff"/><rect x="26.00" y="155.14" width="13.30" height="13.23" fill="#f2f2ff"/><rect x="39.00" y="155.14" width="13.30" height="13.23" fill="#e6e6ff"/><rect x="52.00" y="155.14" width="13.30" height="13.23" fill="#e6e6ff"/><rect x="65.00" y="155.14" width="13.30" height="13.23" fill="#f2f2ff"/><rect x="78.00" y="155.14" width="13.30" height="13.23" fill="#f2f2ff"/><rect x="91.00" y="155.14" width="13.30" height="13.23" fill="#ffe6e6"/><rect x="104.00" y="155.14" width="13.30" height="13.23" fill="#ffe6e6"/><rect x="117.00" y="155.14" width="13.30" height="13.23" fill="#ffe6e6"/><rect x="130.00" y="155.14" width="13.30" height="13.23" fill="#ffe6e6"/><rect x="143.00" y="155.14" width="13.30" height="13.23" fill="#c8c8ff"/><rect x="156.00" y="155.14" width="13.30" height="13.23" fill="#ffe6e6"/><rect x="195.00" y="155.14" width="33.30" height="13.23" fill="#f2f2ff"/><rect x="26.00" y="168.07" width="13.30" height="33.23" fill="#f2f2ff"/><rect x="39.00" y="168.07" width="13.30" height="33.23" fill="#f2f2ff"/><rect x="52.00" y="168.07" width="13.30" height="33.23" fill="#f2f2ff"/><rect x="65.00" y="168.07" width="13.30" height="33.23" fill="#f2f2ff"/><rect x="78.00" y="168.07" width="13.30" height="33.23" fill="#ffe6e6"/><rect x="91.00" y="168.07" width="13.30" height="33.23" fill="#ffe6e6"/><rect x="104.00" y="168.07" width="13.30" height="33.23" fill="#ffe6e6"/><rect x="117.00" y="168.07" width="13.30" height="33.23" fill="#f2f2ff"/><rect x="130.00" y="168.07" width="13.30" height="33.23" fill="#ffe6e6"/><rect x="143.00" y="168.07" width="13.30" height="33.23" fill="#c8c8ff"/><rect x="156.00" y="168.07" width="13.30" height="33.23" fill="#ffe6e6"/></g><circle cx="56" cy="58" r="0.7" fill="#000"/><filter id="o21a" x="-50%" y="-50%" width="200%" height="200%"><feGaussianBlur stdDeviation="3.5"/></filter><filter id="o21b" x="-50%" y="-50%" width="200%" height="200%"><feGaussianBlur stdDeviation="1.3"/></filter><g filter="url(#o21a)"><ellipse cx="70" cy="50" rx="17" ry="19" fill="#ff9a9a"/><path d="M121,100 L112,181" stroke="#ffc4c4" stroke-width="16"/><path d="M86,93 L48,137" stroke="#8080ff" stroke-width="15"/><path d="M132,55 L150,60 L158,95 L132,100 Z" fill="#ffd0d0"/><path d="M138,36 L160,40 L158,58 L138,56 Z" fill="#d0d0ff"/><path d="M146,134 L146,181" stroke="#b8b8ff" stroke-width="6"/></g><g filter="url(#o21b)"><path d="M80,34 C85,28 93,25 100,25 C108,25 115,29 119,36 L118,47 L106,45 L95,44 L85,46 L80,43 Z" fill="#ff1a1a"/><path d="M83,64 L95,62 L108,66 L114,72 L112,80 L104,86 L96,84 L88,78 L83,72 Z" fill="#ff1a1a"/><ellipse cx="99" cy="56" rx="10" ry="5" fill="#fff"/><path d="M106,47 C116,50 124,60 127,71 C129,82 128,92 123,104" stroke="#ff2a2a" stroke-width="8.5" fill="none"/><ellipse cx="87" cy="93" rx="11" ry="6.5" transform="rotate(-42 87 93)" fill="#1a1aff"/></g><g stroke="#000" stroke-width="0.7" fill="none"><path d="M135.5,90 C137.5,91 136,95 134,98 L128,108 C126,111 125,114 123,115 C121.5,115 121.3,112 122,108 C123,102 126,96 130,92.5 C132,90.5 134,89.5 135.5,90 Z"/><path d="M122,114.5 C124,115 124,118 123,121 L120,128 C119,130 117.5,131 116.5,130 C115.5,129 116,126 117,123 C118,119 120,114.5 122,114.5 Z"/><path d="M115,132.6 L117.3,135.5 L115,139 L112.8,135.8 Z"/><ellipse cx="112.6" cy="143" rx="1.7" ry="3" transform="rotate(20 112.6 143)"/><ellipse cx="92.3" cy="45.8" rx="4.3" ry="2.3"/><ellipse cx="86.5" cy="48.6" rx="3.2" ry="1.9"/><ellipse cx="81.1" cy="53.5" rx="1.6" ry="3.3"/></g><g stroke="#888" stroke-width="0.8"><line x1="8.6" y1="181.0" x2="8.6" y2="179.0"/><line x1="8.6" y1="0" x2="8.6" y2="2"/><line x1="19.0" y1="181.0" x2="19.0" y2="179.0"/><line x1="19.0" y1="0" x2="19.0" y2="2"/><line x1="29.4" y1="181.0" x2="29.4" y2="179.0"/><line x1="29.4" y1="0" x2="29.4" y2="2"/><line x1="39.8" y1="181.0" x2="39.8" y2="179.0"/><line x1="39.8" y1="0" x2="39.8" y2="2"/><line x1="50.2" y1="181.0" x2="50.2" y2="177.0"/><line x1="50.2" y1="0" x2="50.2" y2="4"/><line x1="60.6" y1="181.0" x2="60.6" y2="179.0"/><line x1="60.6" y1="0" x2="60.6" y2="2"/><line x1="71.0" y1="181.0" x2="71.0" y2="179.0"/><line x1="71.0" y1="0" x2="71.0" y2="2"/><line x1="81.4" y1="181.0" x2="81.4" y2="179.0"/><line x1="81.4" y1="0" x2="81.4" y2="2"/><line x1="91.8" y1="181.0" x2="91.8" y2="179.0"/><line x1="91.8" y1="0" x2="91.8" y2="2"/><line x1="102.2" y1="181.0" x2="102.2" y2="177.0"/><line x1="102.2" y1="0" x2="102.2" y2="4"/><line x1="112.6" y1="181.0" x2="112.6" y2="179.0"/><line x1="112.6" y1="0" x2="112.6" y2="2"/><line x1="123.0" y1="181.0" x2="123.0" y2="179.0"/><line x1="123.0" y1="0" x2="123.0" y2="2"/><line x1="133.4" y1="181.0" x2="133.4" y2="179.0"/><line x1="133.4" y1="0" x2="133.4" y2="2"/><line x1="143.8" y1="181.0" x2="143.8" y2="179.0"/><line x1="143.8" y1="0" x2="143.8" y2="2"/><line x1="154.2" y1="181.0" x2="154.2" y2="177.0"/><line x1="154.2" y1="0" x2="154.2" y2="4"/><line x1="164.6" y1="181.0" x2="164.6" y2="179.0"/><line x1="164.6" y1="0" x2="164.6" y2="2"/><line x1="175.0" y1="181.0" x2="175.0" y2="179.0"/><line x1="175.0" y1="0" x2="175.0" y2="2"/><line x1="185.4" y1="181.0" x2="185.4" y2="179.0"/><line x1="185.4" y1="0" x2="185.4" y2="2"/><line x1="195.8" y1="181.0" x2="195.8" y2="179.0"/><line x1="195.8" y1="0" x2="195.8" y2="2"/><line x1="206.2" y1="181.0" x2="206.2" y2="177.0"/><line x1="206.2" y1="0" x2="206.2" y2="4"/><line x1="0" y1="10.3" x2="2" y2="10.3"/><line x1="208.0" y1="10.3" x2="206.0" y2="10.3"/><line x1="0" y1="20.5" x2="2" y2="20.5"/><line x1="208.0" y1="20.5" x2="206.0" y2="20.5"/><line x1="0" y1="30.8" x2="2" y2="30.8"/><line x1="208.0" y1="30.8" x2="206.0" y2="30.8"/><line x1="0" y1="41.0" x2="2" y2="41.0"/><line x1="208.0" y1="41.0" x2="206.0" y2="41.0"/><line x1="0" y1="51.3" x2="4" y2="51.3"/><line x1="208.0" y1="51.3" x2="204.0" y2="51.3"/><line x1="0" y1="61.6" x2="2" y2="61.6"/><line x1="208.0" y1="61.6" x2="206.0" y2="61.6"/><line x1="0" y1="71.8" x2="2" y2="71.8"/><line x1="208.0" y1="71.8" x2="206.0" y2="71.8"/><line x1="0" y1="82.1" x2="2" y2="82.1"/><line x1="208.0" y1="82.1" x2="206.0" y2="82.1"/><line x1="0" y1="92.3" x2="2" y2="92.3"/><line x1="208.0" y1="92.3" x2="206.0" y2="92.3"/><line x1="0" y1="102.6" x2="4" y2="102.6"/><line x1="208.0" y1="102.6" x2="204.0" y2="102.6"/><line x1="0" y1="112.9" x2="2" y2="112.9"/><line x1="208.0" y1="112.9" x2="206.0" y2="112.9"/><line x1="0" y1="123.1" x2="2" y2="123.1"/><line x1="208.0" y1="123.1" x2="206.0" y2="123.1"/><line x1="0" y1="133.4" x2="2" y2="133.4"/><line x1="208.0" y1="133.4" x2="206.0" y2="133.4"/><line x1="0" y1="143.6" x2="2" y2="143.6"/><line x1="208.0" y1="143.6" x2="206.0" y2="143.6"/><line x1="0" y1="153.9" x2="4" y2="153.9"/><line x1="208.0" y1="153.9" x2="204.0" y2="153.9"/><line x1="0" y1="164.2" x2="2" y2="164.2"/><line x1="208.0" y1="164.2" x2="206.0" y2="164.2"/><line x1="0" y1="174.4" x2="2" y2="174.4"/><line x1="208.0" y1="174.4" x2="206.0" y2="174.4"/></g><rect x="0.4" y="0.4" width="207.2" height="180.2" fill="none" stroke="#999" stroke-width="1"/></svg>
</div>
<div class="title" style="left:245.3px;top:449.79999999999995px;">Vertical magnetic shear change <i class='dl'>&delta;</i>S<sub>v</sub></div>
<div class="yl" style="left:300.3px;top:461.4px">-7.5</div>
<div class="yl" style="left:300.3px;top:512.6px">-8.0</div>
<div class="yl" style="left:300.3px;top:563.8px">-8.5</div>
<div class="yl" style="left:300.3px;top:615.0px">-9.0</div>
<div class="xl" style="left:371.5px;top:648.6999999999999px">32.0</div>
<div class="xl" style="left:423.4px;top:648.6999999999999px">32.5</div>
<div class="xl" style="left:475.3px;top:648.6999999999999px">33.0</div>
<div class="xl" style="left:527.2px;top:648.6999999999999px">33.5</div>
<div class="plot" style="left:33.0px;top:687.8px">
<svg width="208.0" height="181.0" viewBox="0 0 208.0 181.0"><filter id="bl30" x="-30%" y="-30%" width="160%" height="160%"><feGaussianBlur stdDeviation="4"/></filter><g filter="url(#bl30)"><rect x="-20.00" y="-20.00" width="33.30" height="33.23" fill="#ffe6e6"/><rect x="13.00" y="-20.00" width="13.30" height="33.23" fill="#e6e6ff"/><rect x="26.00" y="-20.00" width="13.30" height="33.23" fill="#e6e6ff"/><rect x="39.00" y="-20.00" width="13.30" height="33.23" fill="#e6e6ff"/><rect x="52.00" y="-20.00" width="13.30" height="33.23" fill="#f2f2ff"/><rect x="65.00" y="-20.00" width="13.30" height="33.23" fill="#e6e6ff"/><rect x="78.00" y="-20.00" width="13.30" height="33.23" fill="#e6e6ff"/><rect x="91.00" y="-20.00" width="13.30" height="33.23" fill="#e6e6ff"/><rect x="104.00" y="-20.00" width="13.30" height="33.23" fill="#e6e6ff"/><rect x="117.00" y="-20.00" width="13.30" height="33.23" fill="#e6e6ff"/><rect x="130.00" y="-20.00" width="13.30" height="33.23" fill="#e6e6ff"/><rect x="143.00" y="-20.00" width="13.30" height="33.23" fill="#f2f2ff"/><rect x="169.00" y="-20.00" width="13.30" height="33.23" fill="#ffe6e6"/><rect x="182.00" y="-20.00" width="13.30" height="33.23" fill="#ffe6e6"/><rect x="195.00" y="-20.00" width="33.30" height="33.23" fill="#e6e6ff"/><rect x="-20.00" y="12.93" width="33.30" height="13.23" fill="#f2f2ff"/><rect x="13.00" y="12.93" width="13.30" height="13.23" fill="#e6e6ff"/><rect x="26.00" y="12.93" width="13.30" height="13.23" fill="#e6e6ff"/><rect x="52.00" y="12.93" width="13.30" height="13.23" fill="#e6e6ff"/><rect x="65.00" y="12.93" width="13.30" height="13.23" fill="#e6e6ff"/><rect x="78.00" y="12.93" width="13.30" height="13.23" fill="#e6e6ff"/><rect x="91.00" y="12.93" width="13.30" height="13.23" fill="#c8c8ff"/><rect x="104.00" y="12.93" width="13.30" height="13.23" fill="#e6e6ff"/><rect x="117.00" y="12.93" width="13.30" height="13.23" fill="#e6e6ff"/><rect x="130.00" y="12.93" width="13.30" height="13.23" fill="#c8c8ff"/><rect x="156.00" y="12.93" width="13.30" height="13.23" fill="#ffe6e6"/><rect x="169.00" y="12.93" width="13.30" height="13.23" fill="#ffe6e6"/><rect x="182.00" y="12.93" width="13.30" height="13.23" fill="#ffe6e6"/><rect x="195.00" y="12.93" width="33.30" height="13.23" fill="#e6e6ff"/><rect x="-20.00" y="25.86" width="33.30" height="13.23" fill="#e6e6ff"/><rect x="13.00" y="25.86" width="13.30" height="13.23" fill="#c8c8ff"/><rect x="26.00" y="25.86" width="13.30" height="13.23" fill="#e6e6ff"/><rect x="39.00" y="25.86" width="13.30" height="13.23" fill="#ffe6e6"/><rect x="52.00" y="25.86" width="13.30" height="13.23" fill="#ffc8c8"/><rect x="65.00" y="25.86" width="13.30" height="13.23" fill="#ffe6e6"/><rect x="78.00" y="25.86" width="13.30" height="13.23" fill="#9696ff"/><rect x="91.00" y="25.86" width="13.30" height="13.23" fill="#ff9696"/><rect x="104.00" y="25.86" width="13.30" height="13.23" fill="#ff9696"/><rect x="117.00" y="25.86" width="13.30" height="13.23" fill="#5555ff"/><rect x="130.00" y="25.86" width="13.30" height="13.23" fill="#5555ff"/><rect x="143.00" y="25.86" width="13.30" height="13.23" fill="#ffe6e6"/><rect x="156.00" y="25.86" width="13.30" height="13.23" fill="#ffc8c8"/><rect x="169.00" y="25.86" width="13.30" height="13.23" fill="#ffc8c8"/><rect x="182.00" y="25.86" width="13.30" height="13.23" fill="#ffe6e6"/><rect x="195.00" y="25.86" width="33.30" height="13.23" fill="#e6e6ff"/><rect x="-20.00" y="38.79" width="33.30" height="13.23" fill="#c8c8ff"/><rect x="13.00" y="38.79" width="13.30" height="13.23" fill="#c8c8ff"/><rect x="26.00" y="38.79" width="13.30" height="13.23" fill="#c8c8ff"/><rect x="39.00" y="38.79" width="13.30" height="13.23" fill="#e6e6ff"/><rect x="52.00" y="38.79" width="13.30" height="13.23" fill="#c8c8ff"/><rect x="65.00" y="38.79" width="13.30" height="13.23" fill="#9696ff"/><rect x="78.00" y="38.79" width="13.30" height="13.23" fill="#e6e6ff"/><rect x="91.00" y="38.79" width="13.30" height="13.23" fill="#5555ff"/><rect x="104.00" y="38.79" width="13.30" height="13.23" fill="#ff1919"/><rect x="117.00" y="38.79" width="13.30" height="13.23" fill="#ff4848"/><rect x="130.00" y="38.79" width="13.30" height="13.23" fill="#9696ff"/><rect x="143.00" y="38.79" width="13.30" height="13.23" fill="#c8c8ff"/><rect x="156.00" y="38.79" width="13.30" height="13.23" fill="#e6e6ff"/><rect x="169.00" y="38.79" width="13.30" height="13.23" fill="#c8c8ff"/><rect x="182.00" y="38.79" width="13.30" height="13.23" fill="#ffe6e6"/><rect x="195.00" y="38.79" width="33.30" height="13.23" fill="#e6e6ff"/><rect x="-20.00" y="51.71" width="33.30" height="13.23" fill="#c8c8ff"/><rect x="13.00" y="51.71" width="13.30" height="13.23" fill="#c8c8ff"/><rect x="26.00" y="51.71" width="13.30" height="13.23" fill="#c8c8ff"/><rect x="39.00" y="51.71" width="13.30" height="13.23" fill="#c8c8ff"/><rect x="52.00" y="51.71" width="13.30" height="13.23" fill="#ff9696"/><rect x="65.00" y="51.71" width="13.30" height="13.23" fill="#ff4848"/><rect x="78.00" y="51.71" width="13.30" height="13.23" fill="#1919ff"/><rect x="91.00" y="51.71" width="13.30" height="13.23" fill="#5555ff"/><rect x="104.00" y="51.71" width="13.30" height="13.23" fill="#ff1919"/><rect x="117.00" y="51.71" width="13.30" height="13.23" fill="#ff1919"/><rect x="130.00" y="51.71" width="13.30" height="13.23" fill="#ff4848"/><rect x="143.00" y="51.71" width="13.30" height="13.23" fill="#ffc8c8"/><rect x="156.00" y="51.71" width="13.30" height="13.23" fill="#5555ff"/><rect x="169.00" y="51.71" width="13.30" height="13.23" fill="#c8c8ff"/><rect x="182.00" y="51.71" width="13.30" height="13.23" fill="#e6e6ff"/><rect x="195.00" y="51.71" width="33.30" height="13.23" fill="#e6e6ff"/><rect x="-20.00" y="64.64" width="33.30" height="13.23" fill="#c8c8ff"/><rect x="13.00" y="64.64" width="13.30" height="13.23" fill="#c8c8ff"/><rect x="26.00" y="64.64" width="13.30" height="13.23" fill="#c8c8ff"/><rect x="39.00" y="64.64" width="13.30" height="13.23" fill="#e6e6ff"/><rect x="52.00" y="64.64" width="13.30" height="13.23" fill="#ff4848"/><rect x="65.00" y="64.64" width="13.30" height="13.23" fill="#ff4848"/><rect x="91.00" y="64.64" width="13.30" height="13.23" fill="#ff1919"/><rect x="104.00" y="64.64" width="13.30" height="13.23" fill="#ff1919"/><rect x="117.00" y="64.64" width="13.30" height="13.23" fill="#ff1919"/><rect x="130.00" y="64.64" width="13.30" height="13.23" fill="#ff9696"/><rect x="156.00" y="64.64" width="13.30" height="13.23" fill="#9696ff"/><rect x="169.00" y="64.64" width="13.30" height="13.23" fill="#e6e6ff"/><rect x="182.00" y="64.64" width="13.30" height="13.23" fill="#e6e6ff"/><rect x="195.00" y="64.64" width="33.30" height="13.23" fill="#e6e6ff"/><rect x="-20.00" y="77.57" width="33.30" height="13.23" fill="#c8c8ff"/><rect x="13.00" y="77.57" width="13.30" height="13.23" fill="#e6e6ff"/><rect x="26.00" y="77.57" width="13.30" height="13.23" fill="#c8c8ff"/><rect x="39.00" y="77.57" width="13.30" height="13.23" fill="#e6e6ff"/><rect x="52.00" y="77.57" width="13.30" height="13.23" fill="#ff4848"/><rect x="65.00" y="77.57" width="13.30" height="13.23" fill="#ff9696"/><rect x="91.00" y="77.57" width="13.30" height="13.23" fill="#ff1919"/><rect x="104.00" y="77.57" width="13.30" height="13.23" fill="#ff1919"/><rect x="117.00" y="77.57" width="13.30" height="13.23" fill="#ff1919"/><rect x="130.00" y="77.57" width="13.30" height="13.23" fill="#ff4848"/><rect x="143.00" y="77.57" width="13.30" height="13.23" fill="#c8c8ff"/><rect x="156.00" y="77.57" width="13.30" height="13.23" fill="#c8c8ff"/><rect x="169.00" y="77.57" width="13.30" height="13.23" fill="#e6e6ff"/><rect x="182.00" y="77.57" width="13.30" height="13.23" fill="#e6e6ff"/><rect x="195.00" y="77.57" width="33.30" height="13.23" fill="#e6e6ff"/><rect x="-20.00" y="90.50" width="33.30" height="13.23" fill="#ffe6e6"/><rect x="13.00" y="90.50" width="13.30" height="13.23" fill="#ffe6e6"/><rect x="26.00" y="90.50" width="13.30" height="13.23" fill="#c8c8ff"/><rect x="39.00" y="90.50" width="13.30" height="13.23" fill="#c8c8ff"/><rect x="52.00" y="90.50" width="13.30" height="13.23" fill="#ffe6e6"/><rect x="65.00" y="90.50" width="13.30" height="13.23" fill="#ff9696"/><rect x="78.00" y="90.50" width="13.30" height="13.23" fill="#9696ff"/><rect x="91.00" y="90.50" width="13.30" height="13.23" fill="#ff1919"/><rect x="104.00" y="90.50" width="13.30" height="13.23" fill="#ff1919"/><rect x="117.00" y="90.50" width="13.30" height="13.23" fill="#ff4848"/><rect x="130.00" y="90.50" width="13.30" height="13.23" fill="#ff9696"/><rect x="143.00" y="90.50" width="13.30" height="13.23" fill="#ffe6e6"/><rect x="156.00" y="90.50" width="13.30" height="13.23" fill="#e6e6ff"/><rect x="169.00" y="90.50" width="13.30" height="13.23" fill="#e6e6ff"/><rect x="182.00" y="90.50" width="13.30" height="13.23" fill="#e6e6ff"/><rect x="195.00" y="90.50" width="33.30" height="13.23" fill="#e6e6ff"/><rect x="-20.00" y="103.43" width="33.30" height="13.23" fill="#ffe6e6"/><rect x="13.00" y="103.43" width="13.30" height="13.23" fill="#e6e6ff"/><rect x="26.00" y="103.43" width="13.30" height="13.23" fill="#ffe6e6"/><rect x="39.00" y="103.43" width="13.30" height="13.23" fill="#c8c8ff"/><rect x="52.00" y="103.43" width="13.30" height="13.23" fill="#ffe6e6"/><rect x="65.00" y="103.43" width="13.30" height="13.23" fill="#9696ff"/><rect x="78.00" y="103.43" width="13.30" height="13.23" fill="#ff9696"/><rect x="91.00" y="103.43" width="13.30" height="13.23" fill="#ff4848"/><rect x="104.00" y="103.43" width="13.30" height="13.23" fill="#ff4848"/><rect x="117.00" y="103.43" width="13.30" height="13.23" fill="#ff4848"/><rect x="130.00" y="103.43" width="13.30" height="13.23" fill="#ffc8c8"/><rect x="143.00" y="103.43" width="13.30" height="13.23" fill="#ffe6e6"/><rect x="156.00" y="103.43" width="13.30" height="13.23" fill="#e6e6ff"/><rect x="169.00" y="103.43" width="13.30" height="13.23" fill="#c8c8ff"/><rect x="182.00" y="103.43" width="13.30" height="13.23" fill="#e6e6ff"/><rect x="195.00" y="103.43" width="33.30" height="13.23" fill="#e6e6ff"/><rect x="-20.00" y="116.36" width="33.30" height="13.23" fill="#e6e6ff"/><rect x="13.00" y="116.36" width="13.30" height="13.23" fill="#e6e6ff"/><rect x="26.00" y="116.36" width="13.30" height="13.23" fill="#ffe6e6"/><rect x="39.00" y="116.36" width="13.30" height="13.23" fill="#ffe6e6"/><rect x="52.00" y="116.36" width="13.30" height="13.23" fill="#9696ff"/><rect x="65.00" y="116.36" width="13.30" height="13.23" fill="#9696ff"/><rect x="78.00" y="116.36" width="13.30" height="13.23" fill="#ffc8c8"/><rect x="91.00" y="116.36" width="13.30" height="13.23" fill="#ff9696"/><rect x="104.00" y="116.36" width="13.30" height="13.23" fill="#ff4848"/><rect x="117.00" y="116.36" width="13.30" height="13.23" fill="#ff9696"/><rect x="130.00" y="116.36" width="13.30" height="13.23" fill="#ffc8c8"/><rect x="143.00" y="116.36" width="13.30" height="13.23" fill="#ffe6e6"/><rect x="156.00" y="116.36" width="13.30" height="13.23" fill="#e6e6ff"/><rect x="169.00" y="116.36" width="13.30" height="13.23" fill="#e6e6ff"/><rect x="182.00" y="116.36" width="13.30" height="13.23" fill="#e6e6ff"/><rect x="195.00" y="116.36" width="33.30" height="13.23" fill="#e6e6ff"/><rect x="-20.00" y="129.29" width="33.30" height="13.23" fill="#ffe6e6"/><rect x="13.00" y="129.29" width="13.30" height="13.23" fill="#ffe6e6"/><rect x="26.00" y="129.29" width="13.30" height="13.23" fill="#ffe6e6"/><rect x="39.00" y="129.29" width="13.30" height="13.23" fill="#9696ff"/><rect x="52.00" y="129.29" width="13.30" height="13.23" fill="#9696ff"/><rect x="65.00" y="129.29" width="13.30" height="13.23" fill="#ffc8c8"/><rect x="78.00" y="129.29" width="13.30" height="13.23" fill="#ffc8c8"/><rect x="91.00" y="129.29" width="13.30" height="13.23" fill="#ff9696"/><rect x="104.00" y="129.29" width="13.30" height="13.23" fill="#ff9696"/><rect x="117.00" y="129.29" width="13.30" height="13.23" fill="#ff9696"/><rect x="130.00" y="129.29" width="13.30" height="13.23" fill="#ffe6e6"/><rect x="143.00" y="129.29" width="13.30" height="13.23" fill="#e6e6ff"/><rect x="156.00" y="129.29" width="13.30" height="13.23" fill="#e6e6ff"/><rect x="169.00" y="129.29" width="13.30" height="13.23" fill="#e6e6ff"/><rect x="182.00" y="129.29" width="13.30" height="13.23" fill="#e6e6ff"/><rect x="195.00" y="129.29" width="33.30" height="13.23" fill="#e6e6ff"/><rect x="-20.00" y="142.21" width="33.30" height="13.23" fill="#ffe6e6"/><rect x="13.00" y="142.21" width="13.30" height="13.23" fill="#ffe6e6"/><rect x="26.00" y="142.21" width="13.30" height="13.23" fill="#ffe6e6"/><rect x="39.00" y="142.21" width="13.30" height="13.23" fill="#9696ff"/><rect x="52.00" y="142.21" width="13.30" height="13.23" fill="#9696ff"/><rect x="65.00" y="142.21" width="13.30" height="13.23" fill="#ffe6e6"/><rect x="78.00" y="142.21" width="13.30" height="13.23" fill="#ffc8c8"/><rect x="91.00" y="142.21" width="13.30" height="13.23" fill="#ffc8c8"/><rect x="104.00" y="142.21" width="13.30" height="13.23" fill="#ff9696"/><rect x="117.00" y="142.21" width="13.30" height="13.23" fill="#ffc8c8"/><rect x="130.00" y="142.21" width="13.30" height="13.23" fill="#ffe6e6"/><rect x="143.00" y="142.21" width="13.30" height="13.23" fill="#c8c8ff"/><rect x="156.00" y="142.21" width="13.30" height="13.23" fill="#e6e6ff"/><rect x="169.00" y="142.21" width="13.30" height="13.23" fill="#e6e6ff"/><rect x="182.00" y="142.21" width="13.30" height="13.23" fill="#e6e6ff"/><rect x="195.00" y="142.21" width="33.30" height="13.23" fill="#e6e6ff"/><rect x="-20.00" y="155.14" width="33.30" height="13.23" fill="#ffe6e6"/><rect x="13.00" y="155.14" width="13.30" height="13.23" fill="#ffe6e6"/><rect x="26.00" y="155.14" width="13.30" height="13.23" fill="#ffc8c8"/><rect x="39.00" y="155.14" width="13.30" height="13.23" fill="#ffe6e6"/><rect x="52.00" y="155.14" width="13.30" height="13.23" fill="#9696ff"/><rect x="65.00" y="155.14" width="13.30" height="13.23" fill="#ffe6e6"/><rect x="78.00" y="155.14" width="13.30" height="13.23" fill="#ffc8c8"/><rect x="91.00" y="155.14" width="13.30" height="13.23" fill="#ffc8c8"/><rect x="104.00" y="155.14" width="13.30" height="13.23" fill="#ffc8c8"/><rect x="117.00" y="155.14" width="13.30" height="13.23" fill="#ffe6e6"/><rect x="143.00" y="155.14" width="13.30" height="13.23" fill="#c8c8ff"/><rect x="156.00" y="155.14" width="13.30" height="13.23" fill="#e6e6ff"/><rect x="169.00" y="155.14" width="13.30" height="13.23" fill="#e6e6ff"/><rect x="182.00" y="155.14" width="13.30" height="13.23" fill="#e6e6ff"/><rect x="195.00" y="155.14" width="33.30" height="13.23" fill="#e6e6ff"/><rect x="-20.00" y="168.07" width="33.30" height="33.23" fill="#ffe6e6"/><rect x="13.00" y="168.07" width="13.30" height="33.23" fill="#ffe6e6"/><rect x="26.00" y="168.07" width="13.30" height="33.23" fill="#ffc8c8"/><rect x="39.00" y="168.07" width="13.30" height="33.23" fill="#ffe6e6"/><rect x="52.00" y="168.07" width="13.30" height="33.23" fill="#9696ff"/><rect x="65.00" y="168.07" width="13.30" height="33.23" fill="#ffe6e6"/><rect x="78.00" y="168.07" width="13.30" height="33.23" fill="#ffe6e6"/><rect x="91.00" y="168.07" width="13.30" height="33.23" fill="#ffc8c8"/><rect x="104.00" y="168.07" width="13.30" height="33.23" fill="#9696ff"/><rect x="130.00" y="168.07" width="13.30" height="33.23" fill="#e6e6ff"/><rect x="143.00" y="168.07" width="13.30" height="33.23" fill="#c8c8ff"/><rect x="156.00" y="168.07" width="13.30" height="33.23" fill="#e6e6ff"/><rect x="169.00" y="168.07" width="13.30" height="33.23" fill="#e6e6ff"/><rect x="182.00" y="168.07" width="13.30" height="33.23" fill="#e6e6ff"/><rect x="195.00" y="168.07" width="33.30" height="33.23" fill="#e6e6ff"/></g><circle cx="56" cy="58" r="0.7" fill="#000"/><filter id="o30a" x="-50%" y="-50%" width="200%" height="200%"><feGaussianBlur stdDeviation="3.5"/></filter><filter id="o30b" x="-50%" y="-50%" width="200%" height="200%"><feGaussianBlur stdDeviation="1.2"/></filter><filter id="o30c" x="-50%" y="-50%" width="200%" height="200%"><feGaussianBlur stdDeviation="0.7"/></filter><filter id="o30d" x="-50%" y="-50%" width="200%" height="200%"><feGaussianBlur stdDeviation="2.2"/></filter><g filter="url(#o30a)"><path d="M58,56 L88,52 L92,100 L66,104 Z" fill="#ff6a6a"/><path d="M92,100 L132,100 L138,130 L128,160 L112,160 L100,125 Z" fill="#ff7a7a"/><ellipse cx="160" cy="30" rx="16" ry="10" fill="#ffdada"/></g><g filter="url(#o30d)"><path d="M78,32 C95,26 110,26 120,30 C132,35 142,45 150,55 L157,66" stroke="#3a3aff" stroke-width="7" fill="none"/><path d="M136,71 L151,53" stroke="#ff8a8a" stroke-width="4"/><path d="M176,44 L189,5" stroke="#ffcaca" stroke-width="6"/><path d="M100,91 L52,146 L58,181" stroke="#a0a0ff" stroke-width="11" fill="none" stroke-linejoin="round"/><path d="M108,158 L112,181" stroke="#3a3aff" stroke-width="8"/></g><g filter="url(#o30b)"><path d="M88,62 C95,56 112,56 122,62 C128,72 128,90 124,100 C116,108 100,110 92,104 C88,92 86,75 88,62 Z" fill="#ff1a1a"/><path d="M96,87 L60,127" stroke="#fff" stroke-width="2.5"/><path d="M99,90 L64,130" stroke="#4a4aff" stroke-width="4"/><path d="M173,42 L158,60" stroke="#7070ff" stroke-width="2"/><ellipse cx="155" cy="63" rx="3.5" ry="6" fill="#2020ff"/></g><g filter="url(#o30c)"><ellipse cx="89" cy="51.5" rx="6" ry="4" fill="#1a1aff"/><path d="M91,62 C97,58 108,58 114,63 L112,70 C105,71 97,71 92,69 Z" fill="#1a1aff"/><ellipse cx="114" cy="52" rx="3.5" ry="2.8" fill="#1a1aff"/><path d="M83,95 L95,86 L101,93 L86,97 Z" fill="#1a1aff"/><ellipse cx="118" cy="141" rx="3" ry="2" fill="#2a2aff"/><path d="M71,140 L71,150" stroke="#ff5050" stroke-width="2"/></g><g stroke="#000" stroke-width="0.7" fill="none"><path d="M135.5,90 C137.5,91 136,95 134,98 L128,108 C126,111 125,114 123,115 C121.5,115 121.3,112 122,108 C123,102 126,96 130,92.5 C132,90.5 134,89.5 135.5,90 Z"/><path d="M122,114.5 C124,115 124,118 123,121 L120,128 C119,130 117.5,131 116.5,130 C115.5,129 116,126 117,123 C118,119 120,114.5 122,114.5 Z"/><path d="M115,132.6 L117.3,135.5 L115,139 L112.8,135.8 Z"/><ellipse cx="112.6" cy="143" rx="1.7" ry="3" transform="rotate(20 112.6 143)"/><ellipse cx="92.3" cy="45.8" rx="4.3" ry="2.3"/><ellipse cx="86.5" cy="48.6" rx="3.2" ry="1.9"/><ellipse cx="81.1" cy="53.5" rx="1.6" ry="3.3"/></g><g stroke="#888" stroke-width="0.8"><line x1="8.6" y1="181.0" x2="8.6" y2="179.0"/><line x1="8.6" y1="0" x2="8.6" y2="2"/><line x1="19.0" y1="181.0" x2="19.0" y2="179.0"/><line x1="19.0" y1="0" x2="19.0" y2="2"/><line x1="29.4" y1="181.0" x2="29.4" y2="179.0"/><line x1="29.4" y1="0" x2="29.4" y2="2"/><line x1="39.8" y1="181.0" x2="39.8" y2="179.0"/><line x1="39.8" y1="0" x2="39.8" y2="2"/><line x1="50.2" y1="181.0" x2="50.2" y2="177.0"/><line x1="50.2" y1="0" x2="50.2" y2="4"/><line x1="60.6" y1="181.0" x2="60.6" y2="179.0"/><line x1="60.6" y1="0" x2="60.6" y2="2"/><line x1="71.0" y1="181.0" x2="71.0" y2="179.0"/><line x1="71.0" y1="0" x2="71.0" y2="2"/><line x1="81.4" y1="181.0" x2="81.4" y2="179.0"/><line x1="81.4" y1="0" x2="81.4" y2="2"/><line x1="91.8" y1="181.0" x2="91.8" y2="179.0"/><line x1="91.8" y1="0" x2="91.8" y2="2"/><line x1="102.2" y1="181.0" x2="102.2" y2="177.0"/><line x1="102.2" y1="0" x2="102.2" y2="4"/><line x1="112.6" y1="181.0" x2="112.6" y2="179.0"/><line x1="112.6" y1="0" x2="112.6" y2="2"/><line x1="123.0" y1="181.0" x2="123.0" y2="179.0"/><line x1="123.0" y1="0" x2="123.0" y2="2"/><line x1="133.4" y1="181.0" x2="133.4" y2="179.0"/><line x1="133.4" y1="0" x2="133.4" y2="2"/><line x1="143.8" y1="181.0" x2="143.8" y2="179.0"/><line x1="143.8" y1="0" x2="143.8" y2="2"/><line x1="154.2" y1="181.0" x2="154.2" y2="177.0"/><line x1="154.2" y1="0" x2="154.2" y2="4"/><line x1="164.6" y1="181.0" x2="164.6" y2="179.0"/><line x1="164.6" y1="0" x2="164.6" y2="2"/><line x1="175.0" y1="181.0" x2="175.0" y2="179.0"/><line x1="175.0" y1="0" x2="175.0" y2="2"/><line x1="185.4" y1="181.0" x2="185.4" y2="179.0"/><line x1="185.4" y1="0" x2="185.4" y2="2"/><line x1="195.8" y1="181.0" x2="195.8" y2="179.0"/><line x1="195.8" y1="0" x2="195.8" y2="2"/><line x1="206.2" y1="181.0" x2="206.2" y2="177.0"/><line x1="206.2" y1="0" x2="206.2" y2="4"/><line x1="0" y1="10.3" x2="2" y2="10.3"/><line x1="208.0" y1="10.3" x2="206.0" y2="10.3"/><line x1="0" y1="20.5" x2="2" y2="20.5"/><line x1="208.0" y1="20.5" x2="206.0" y2="20.5"/><line x1="0" y1="30.8" x2="2" y2="30.8"/><line x1="208.0" y1="30.8" x2="206.0" y2="30.8"/><line x1="0" y1="41.0" x2="2" y2="41.0"/><line x1="208.0" y1="41.0" x2="206.0" y2="41.0"/><line x1="0" y1="51.3" x2="4" y2="51.3"/><line x1="208.0" y1="51.3" x2="204.0" y2="51.3"/><line x1="0" y1="61.6" x2="2" y2="61.6"/><line x1="208.0" y1="61.6" x2="206.0" y2="61.6"/><line x1="0" y1="71.8" x2="2" y2="71.8"/><line x1="208.0" y1="71.8" x2="206.0" y2="71.8"/><line x1="0" y1="82.1" x2="2" y2="82.1"/><line x1="208.0" y1="82.1" x2="206.0" y2="82.1"/><line x1="0" y1="92.3" x2="2" y2="92.3"/><line x1="208.0" y1="92.3" x2="206.0" y2="92.3"/><line x1="0" y1="102.6" x2="4" y2="102.6"/><line x1="208.0" y1="102.6" x2="204.0" y2="102.6"/><line x1="0" y1="112.9" x2="2" y2="112.9"/><line x1="208.0" y1="112.9" x2="206.0" y2="112.9"/><line x1="0" y1="123.1" x2="2" y2="123.1"/><line x1="208.0" y1="123.1" x2="206.0" y2="123.1"/><line x1="0" y1="133.4" x2="2" y2="133.4"/><line x1="208.0" y1="133.4" x2="206.0" y2="133.4"/><line x1="0" y1="143.6" x2="2" y2="143.6"/><line x1="208.0" y1="143.6" x2="206.0" y2="143.6"/><line x1="0" y1="153.9" x2="4" y2="153.9"/><line x1="208.0" y1="153.9" x2="204.0" y2="153.9"/><line x1="0" y1="164.2" x2="2" y2="164.2"/><line x1="208.0" y1="164.2" x2="206.0" y2="164.2"/><line x1="0" y1="174.4" x2="2" y2="174.4"/><line x1="208.0" y1="174.4" x2="206.0" y2="174.4"/></g><rect x="0.4" y="0.4" width="207.2" height="180.2" fill="none" stroke="#999" stroke-width="1"/></svg>
</div>
<div class="title" style="left:-60.5px;top:674.1999999999999px;font-size:11.75px;">Absolute horizontal magnetic shear change <i class='dl'>&delta;</i><i class='dl'>|</i>S<sub>h</sub><i class='dl'>|</i></div>
<div class="yl" style="left:-8.0px;top:685.8px">-7.5</div>
<div class="yl" style="left:-8.0px;top:737.0px">-8.0</div>
<div class="yl" style="left:-8.0px;top:788.1999999999999px">-8.5</div>
<div class="yl" style="left:-8.0px;top:839.4px">-9.0</div>
<div class="xl" style="left:63.2px;top:873.0999999999999px">32.0</div>
<div class="xl" style="left:115.1px;top:873.0999999999999px">32.5</div>
<div class="xl" style="left:167.0px;top:873.0999999999999px">33.0</div>
<div class="xl" style="left:218.89999999999998px;top:873.0999999999999px">33.5</div>
<div class="plot" style="left:341.3px;top:687.8px">
<svg width="208.0" height="181.0" viewBox="0 0 208.0 181.0"><filter id="bl31" x="-30%" y="-30%" width="160%" height="160%"><feGaussianBlur stdDeviation="4"/></filter><g filter="url(#bl31)"><rect x="26.00" y="-20.00" width="13.30" height="33.23" fill="#e6e6ff"/><rect x="39.00" y="-20.00" width="13.30" height="33.23" fill="#e6e6ff"/><rect x="65.00" y="-20.00" width="13.30" height="33.23" fill="#ffe6e6"/><rect x="91.00" y="-20.00" width="13.30" height="33.23" fill="#e6e6ff"/><rect x="104.00" y="-20.00" width="13.30" height="33.23" fill="#e6e6ff"/><rect x="130.00" y="-20.00" width="13.30" height="33.23" fill="#e6e6ff"/><rect x="143.00" y="-20.00" width="13.30" height="33.23" fill="#e6e6ff"/><rect x="156.00" y="-20.00" width="13.30" height="33.23" fill="#e6e6ff"/><rect x="169.00" y="-20.00" width="13.30" height="33.23" fill="#e6e6ff"/><rect x="182.00" y="-20.00" width="13.30" height="33.23" fill="#e6e6ff"/><rect x="195.00" y="-20.00" width="33.30" height="33.23" fill="#e6e6ff"/><rect x="-20.00" y="12.93" width="33.30" height="13.23" fill="#e6e6ff"/><rect x="26.00" y="12.93" width="13.30" height="13.23" fill="#e6e6ff"/><rect x="39.00" y="12.93" width="13.30" height="13.23" fill="#e6e6ff"/><rect x="52.00" y="12.93" width="13.30" height="13.23" fill="#e6e6ff"/><rect x="65.00" y="12.93" width="13.30" height="13.23" fill="#e6e6ff"/><rect x="78.00" y="12.93" width="13.30" height="13.23" fill="#e6e6ff"/><rect x="91.00" y="12.93" width="13.30" height="13.23" fill="#e6e6ff"/><rect x="104.00" y="12.93" width="13.30" height="13.23" fill="#e6e6ff"/><rect x="117.00" y="12.93" width="13.30" height="13.23" fill="#e6e6ff"/><rect x="130.00" y="12.93" width="13.30" height="13.23" fill="#e6e6ff"/><rect x="143.00" y="12.93" width="13.30" height="13.23" fill="#e6e6ff"/><rect x="156.00" y="12.93" width="13.30" height="13.23" fill="#c8c8ff"/><rect x="169.00" y="12.93" width="13.30" height="13.23" fill="#e6e6ff"/><rect x="195.00" y="12.93" width="33.30" height="13.23" fill="#e6e6ff"/><rect x="26.00" y="25.86" width="13.30" height="13.23" fill="#f2f2ff"/><rect x="39.00" y="25.86" width="13.30" height="13.23" fill="#f2f2ff"/><rect x="52.00" y="25.86" width="13.30" height="13.23" fill="#f2f2ff"/><rect x="65.00" y="25.86" width="13.30" height="13.23" fill="#ffc8c8"/><rect x="78.00" y="25.86" width="13.30" height="13.23" fill="#ff4848"/><rect x="91.00" y="25.86" width="13.30" height="13.23" fill="#ff1919"/><rect x="104.00" y="25.86" width="13.30" height="13.23" fill="#ff1919"/><rect x="117.00" y="25.86" width="13.30" height="13.23" fill="#ffc8c8"/><rect x="130.00" y="25.86" width="13.30" height="13.23" fill="#c8c8ff"/><rect x="143.00" y="25.86" width="13.30" height="13.23" fill="#e6e6ff"/><rect x="156.00" y="25.86" width="13.30" height="13.23" fill="#c8c8ff"/><rect x="169.00" y="25.86" width="13.30" height="13.23" fill="#e6e6ff"/><rect x="182.00" y="25.86" width="13.30" height="13.23" fill="#f2f2ff"/><rect x="13.00" y="38.79" width="13.30" height="13.23" fill="#f2f2ff"/><rect x="26.00" y="38.79" width="13.30" height="13.23" fill="#f2f2ff"/><rect x="39.00" y="38.79" width="13.30" height="13.23" fill="#f2f2ff"/><rect x="52.00" y="38.79" width="13.30" height="13.23" fill="#ffc8c8"/><rect x="65.00" y="38.79" width="13.30" height="13.23" fill="#ff9696"/><rect x="78.00" y="38.79" width="13.30" height="13.23" fill="#ff9696"/><rect x="91.00" y="38.79" width="13.30" height="13.23" fill="#ff4848"/><rect x="104.00" y="38.79" width="13.30" height="13.23" fill="#ff1919"/><rect x="117.00" y="38.79" width="13.30" height="13.23" fill="#9696ff"/><rect x="130.00" y="38.79" width="13.30" height="13.23" fill="#9696ff"/><rect x="143.00" y="38.79" width="13.30" height="13.23" fill="#c8c8ff"/><rect x="156.00" y="38.79" width="13.30" height="13.23" fill="#ffe6e6"/><rect x="169.00" y="38.79" width="13.30" height="13.23" fill="#ffe6e6"/><rect x="182.00" y="38.79" width="13.30" height="13.23" fill="#f2f2ff"/><rect x="195.00" y="38.79" width="33.30" height="13.23" fill="#f2f2ff"/><rect x="-20.00" y="51.71" width="33.30" height="13.23" fill="#f2f2ff"/><rect x="13.00" y="51.71" width="13.30" height="13.23" fill="#f2f2ff"/><rect x="26.00" y="51.71" width="13.30" height="13.23" fill="#f2f2ff"/><rect x="39.00" y="51.71" width="13.30" height="13.23" fill="#f2f2ff"/><rect x="52.00" y="51.71" width="13.30" height="13.23" fill="#ffc8c8"/><rect x="65.00" y="51.71" width="13.30" height="13.23" fill="#ff9696"/><rect x="78.00" y="51.71" width="13.30" height="13.23" fill="#ff9696"/><rect x="117.00" y="51.71" width="13.30" height="13.23" fill="#ff4848"/><rect x="130.00" y="51.71" width="13.30" height="13.23" fill="#9696ff"/><rect x="143.00" y="51.71" width="13.30" height="13.23" fill="#c8c8ff"/><rect x="156.00" y="51.71" width="13.30" height="13.23" fill="#ffc8c8"/><rect x="169.00" y="51.71" width="13.30" height="13.23" fill="#f2f2ff"/><rect x="182.00" y="51.71" width="13.30" height="13.23" fill="#f2f2ff"/><rect x="-20.00" y="64.64" width="33.30" height="13.23" fill="#f2f2ff"/><rect x="26.00" y="64.64" width="13.30" height="13.23" fill="#f2f2ff"/><rect x="39.00" y="64.64" width="13.30" height="13.23" fill="#f2f2ff"/><rect x="52.00" y="64.64" width="13.30" height="13.23" fill="#f2f2ff"/><rect x="65.00" y="64.64" width="13.30" height="13.23" fill="#ffc8c8"/><rect x="78.00" y="64.64" width="13.30" height="13.23" fill="#ff4848"/><rect x="91.00" y="64.64" width="13.30" height="13.23" fill="#ff1919"/><rect x="104.00" y="64.64" width="13.30" height="13.23" fill="#ff1919"/><rect x="117.00" y="64.64" width="13.30" height="13.23" fill="#ff4848"/><rect x="130.00" y="64.64" width="13.30" height="13.23" fill="#c8c8ff"/><rect x="143.00" y="64.64" width="13.30" height="13.23" fill="#ffe6e6"/><rect x="156.00" y="64.64" width="13.30" height="13.23" fill="#ffc8c8"/><rect x="169.00" y="64.64" width="13.30" height="13.23" fill="#f2f2ff"/><rect x="182.00" y="64.64" width="13.30" height="13.23" fill="#f2f2ff"/><rect x="13.00" y="77.57" width="13.30" height="13.23" fill="#f2f2ff"/><rect x="26.00" y="77.57" width="13.30" height="13.23" fill="#f2f2ff"/><rect x="39.00" y="77.57" width="13.30" height="13.23" fill="#f2f2ff"/><rect x="52.00" y="77.57" width="13.30" height="13.23" fill="#f2f2ff"/><rect x="65.00" y="77.57" width="13.30" height="13.23" fill="#f2f2ff"/><rect x="78.00" y="77.57" width="13.30" height="13.23" fill="#ff1919"/><rect x="91.00" y="77.57" width="13.30" height="13.23" fill="#ff1919"/><rect x="104.00" y="77.57" width="13.30" height="13.23" fill="#ffe6e6"/><rect x="117.00" y="77.57" width="13.30" height="13.23" fill="#ff4848"/><rect x="130.00" y="77.57" width="13.30" height="13.23" fill="#c8c8ff"/><rect x="143.00" y="77.57" width="13.30" height="13.23" fill="#ffc8c8"/><rect x="156.00" y="77.57" width="13.30" height="13.23" fill="#ffe6e6"/><rect x="169.00" y="77.57" width="13.30" height="13.23" fill="#ffe6e6"/><rect x="182.00" y="77.57" width="13.30" height="13.23" fill="#f2f2ff"/><rect x="-20.00" y="90.50" width="33.30" height="13.23" fill="#f2f2ff"/><rect x="13.00" y="90.50" width="13.30" height="13.23" fill="#f2f2ff"/><rect x="26.00" y="90.50" width="13.30" height="13.23" fill="#f2f2ff"/><rect x="39.00" y="90.50" width="13.30" height="13.23" fill="#f2f2ff"/><rect x="52.00" y="90.50" width="13.30" height="13.23" fill="#e6e6ff"/><rect x="65.00" y="90.50" width="13.30" height="13.23" fill="#9696ff"/><rect x="78.00" y="90.50" width="13.30" height="13.23" fill="#1919ff"/><rect x="91.00" y="90.50" width="13.30" height="13.23" fill="#c8c8ff"/><rect x="104.00" y="90.50" width="13.30" height="13.23" fill="#ffe6e6"/><rect x="117.00" y="90.50" width="13.30" height="13.23" fill="#ff9696"/><rect x="130.00" y="90.50" width="13.30" height="13.23" fill="#ffe6e6"/><rect x="143.00" y="90.50" width="13.30" height="13.23" fill="#ffc8c8"/><rect x="156.00" y="90.50" width="13.30" height="13.23" fill="#ffc8c8"/><rect x="169.00" y="90.50" width="13.30" height="13.23" fill="#ffe6e6"/><rect x="182.00" y="90.50" width="13.30" height="13.23" fill="#f2f2ff"/><rect x="195.00" y="90.50" width="33.30" height="13.23" fill="#f2f2ff"/><rect x="13.00" y="103.43" width="13.30" height="13.23" fill="#f2f2ff"/><rect x="26.00" y="103.43" width="13.30" height="13.23" fill="#f2f2ff"/><rect x="39.00" y="103.43" width="13.30" height="13.23" fill="#e6e6ff"/><rect x="52.00" y="103.43" width="13.30" height="13.23" fill="#c8c8ff"/><rect x="65.00" y="103.43" width="13.30" height="13.23" fill="#9696ff"/><rect x="78.00" y="103.43" width="13.30" height="13.23" fill="#5555ff"/><rect x="91.00" y="103.43" width="13.30" height="13.23" fill="#e6e6ff"/><rect x="104.00" y="103.43" width="13.30" height="13.23" fill="#ffc8c8"/><rect x="117.00" y="103.43" width="13.30" height="13.23" fill="#ffe6e6"/><rect x="130.00" y="103.43" width="13.30" height="13.23" fill="#ffe6e6"/><rect x="143.00" y="103.43" width="13.30" height="13.23" fill="#ffc8c8"/><rect x="156.00" y="103.43" width="13.30" height="13.23" fill="#ffc8c8"/><rect x="169.00" y="103.43" width="13.30" height="13.23" fill="#ffe6e6"/><rect x="182.00" y="103.43" width="13.30" height="13.23" fill="#f2f2ff"/><rect x="-20.00" y="116.36" width="33.30" height="13.23" fill="#f2f2ff"/><rect x="13.00" y="116.36" width="13.30" height="13.23" fill="#f2f2ff"/><rect x="26.00" y="116.36" width="13.30" height="13.23" fill="#f2f2ff"/><rect x="39.00" y="116.36" width="13.30" height="13.23" fill="#c8c8ff"/><rect x="52.00" y="116.36" width="13.30" height="13.23" fill="#9696ff"/><rect x="65.00" y="116.36" width="13.30" height="13.23" fill="#9696ff"/><rect x="78.00" y="116.36" width="13.30" height="13.23" fill="#c8c8ff"/><rect x="91.00" y="116.36" width="13.30" height="13.23" fill="#f2f2ff"/><rect x="104.00" y="116.36" width="13.30" height="13.23" fill="#ffe6e6"/><rect x="117.00" y="116.36" width="13.30" height="13.23" fill="#ffe6e6"/><rect x="130.00" y="116.36" width="13.30" height="13.23" fill="#f2f2ff"/><rect x="143.00" y="116.36" width="13.30" height="13.23" fill="#ffe6e6"/><rect x="156.00" y="116.36" width="13.30" height="13.23" fill="#ffc8c8"/><rect x="169.00" y="116.36" width="13.30" height="13.23" fill="#ffe6e6"/><rect x="195.00" y="116.36" width="33.30" height="13.23" fill="#f2f2ff"/><rect x="-20.00" y="129.29" width="33.30" height="13.23" fill="#f2f2ff"/><rect x="13.00" y="129.29" width="13.30" height="13.23" fill="#f2f2ff"/><rect x="26.00" y="129.29" width="13.30" height="13.23" fill="#f2f2ff"/><rect x="39.00" y="129.29" width="13.30" height="13.23" fill="#c8c8ff"/><rect x="52.00" y="129.29" width="13.30" height="13.23" fill="#9696ff"/><rect x="65.00" y="129.29" width="13.30" height="13.23" fill="#c8c8ff"/><rect x="78.00" y="129.29" width="13.30" height="13.23" fill="#e6e6ff"/><rect x="104.00" y="129.29" width="13.30" height="13.23" fill="#ffe6e6"/><rect x="117.00" y="129.29" width="13.30" height="13.23" fill="#ffe6e6"/><rect x="130.00" y="129.29" width="13.30" height="13.23" fill="#f2f2ff"/><rect x="143.00" y="129.29" width="13.30" height="13.23" fill="#c8c8ff"/><rect x="156.00" y="129.29" width="13.30" height="13.23" fill="#ffe6e6"/><rect x="169.00" y="129.29" width="13.30" height="13.23" fill="#ffe6e6"/><rect x="-20.00" y="142.21" width="33.30" height="13.23" fill="#f2f2ff"/><rect x="13.00" y="142.21" width="13.30" height="13.23" fill="#f2f2ff"/><rect x="26.00" y="142.21" width="13.30" height="13.23" fill="#f2f2ff"/><rect x="39.00" y="142.21" width="13.30" height="13.23" fill="#e6e6ff"/><rect x="52.00" y="142.21" width="13.30" height="13.23" fill="#c8c8ff"/><rect x="65.00" y="142.21" width="13.30" height="13.23" fill="#e6e6ff"/><rect x="78.00" y="142.21" width="13.30" height="13.23" fill="#f2f2ff"/><rect x="91.00" y="142.21" width="13.30" height="13.23" fill="#f2f2ff"/><rect x="104.00" y="142.21" width="13.30" height="13.23" fill="#ffe6e6"/><rect x="117.00" y="142.21" width="13.30" height="13.23" fill="#f2f2ff"/><rect x="130.00" y="142.21" width="13.30" height="13.23" fill="#f2f2ff"/><rect x="143.00" y="142.21" width="13.30" height="13.23" fill="#c8c8ff"/><rect x="156.00" y="142.21" width="13.30" height="13.23" fill="#ffe6e6"/><rect x="182.00" y="142.21" width="13.30" height="13.23" fill="#f2f2ff"/><rect x="13.00" y="155.14" width="13.30" height="13.23" fill="#f2f2ff"/><rect x="26.00" y="155.14" width="13.30" height="13.23" fill="#f2f2ff"/><rect x="39.00" y="155.14" width="13.30" height="13.23" fill="#e6e6ff"/><rect x="52.00" y="155.14" width="13.30" height="13.23" fill="#e6e6ff"/><rect x="65.00" y="155.14" width="13.30" height="13.23" fill="#ffe6e6"/><rect x="78.00" y="155.14" width="13.30" height="13.23" fill="#f2f2ff"/><rect x="91.00" y="155.14" width="13.30" height="13.23" fill="#ffe6e6"/><rect x="104.00" y="155.14" width="13.30" height="13.23" fill="#ffe6e6"/><rect x="117.00" y="155.14" width="13.30" height="13.23" fill="#f2f2ff"/><rect x="130.00" y="155.14" width="13.30" height="13.23" fill="#f2f2ff"/><rect x="143.00" y="155.14" width="13.30" height="13.23" fill="#c8c8ff"/><rect x="156.00" y="155.14" width="13.30" height="13.23" fill="#ffe6e6"/><rect x="195.00" y="155.14" width="33.30" height="13.23" fill="#f2f2ff"/><rect x="26.00" y="168.07" width="13.30" height="33.23" fill="#f2f2ff"/><rect x="39.00" y="168.07" width="13.30" height="33.23" fill="#ffe6e6"/><rect x="52.00" y="168.07" width="13.30" height="33.23" fill="#ffe6e6"/><rect x="65.00" y="168.07" width="13.30" height="33.23" fill="#ffe6e6"/><rect x="78.00" y="168.07" width="13.30" height="33.23" fill="#f2f2ff"/><rect x="91.00" y="168.07" width="13.30" height="33.23" fill="#ffe6e6"/><rect x="104.00" y="168.07" width="13.30" height="33.23" fill="#ffe6e6"/><rect x="117.00" y="168.07" width="13.30" height="33.23" fill="#f2f2ff"/><rect x="130.00" y="168.07" width="13.30" height="33.23" fill="#f2f2ff"/><rect x="143.00" y="168.07" width="13.30" height="33.23" fill="#c8c8ff"/><rect x="156.00" y="168.07" width="13.30" height="33.23" fill="#ffe6e6"/></g><circle cx="56" cy="58" r="0.7" fill="#000"/><filter id="o31a" x="-50%" y="-50%" width="200%" height="200%"><feGaussianBlur stdDeviation="3.5"/></filter><filter id="o31b" x="-50%" y="-50%" width="200%" height="200%"><feGaussianBlur stdDeviation="1.3"/></filter><g filter="url(#o31a)"><ellipse cx="70" cy="53" rx="17" ry="19" fill="#ff9a9a"/><path d="M86,93 L48,137" stroke="#8080ff" stroke-width="15"/><path d="M145,70 L150,181" stroke="#ffcaca" stroke-width="12"/></g><g filter="url(#o31b)"><path d="M80,35 C85,29 93,26 100,26 C108,26 114,30 118,37 L116,46 L104,44 L94,44 L85,46 L80,44 Z" fill="#ff1a1a"/><path d="M81,64 L95,62 L108,64 L114,70 L112,80 L104,85 L96,84 L88,78 L82,72 Z" fill="#ff1a1a"/><path d="M97,49 L112,47 L114,58 L100,58 Z" fill="#ff5050"/><ellipse cx="98" cy="58" rx="9" ry="3.5" fill="#fff"/><path d="M110,51 C118,56 124,64 126,74 C127,84 124,94 118,102" stroke="#ff4a4a" stroke-width="7.5" fill="none"/><path d="M115,38 C126,43 134,52 138,66" stroke="#8a8aff" stroke-width="9" fill="none"/><path d="M118,42 C127,47 132,54 135,63" stroke="#e8e8ff" stroke-width="2" fill="none"/><ellipse cx="90" cy="91" rx="7" ry="5" transform="rotate(-42 90 91)" fill="#1a1aff"/></g><g stroke="#000" stroke-width="0.7" fill="none"><path d="M135.5,90 C137.5,91 136,95 134,98 L128,108 C126,111 125,114 123,115 C121.5,115 121.3,112 122,108 C123,102 126,96 130,92.5 C132,90.5 134,89.5 135.5,90 Z"/><path d="M122,114.5 C124,115 124,118 123,121 L120,128 C119,130 117.5,131 116.5,130 C115.5,129 116,126 117,123 C118,119 120,114.5 122,114.5 Z"/><path d="M115,132.6 L117.3,135.5 L115,139 L112.8,135.8 Z"/><ellipse cx="112.6" cy="143" rx="1.7" ry="3" transform="rotate(20 112.6 143)"/><ellipse cx="92.3" cy="45.8" rx="4.3" ry="2.3"/><ellipse cx="86.5" cy="48.6" rx="3.2" ry="1.9"/><ellipse cx="81.1" cy="53.5" rx="1.6" ry="3.3"/></g><g stroke="#888" stroke-width="0.8"><line x1="8.6" y1="181.0" x2="8.6" y2="179.0"/><line x1="8.6" y1="0" x2="8.6" y2="2"/><line x1="19.0" y1="181.0" x2="19.0" y2="179.0"/><line x1="19.0" y1="0" x2="19.0" y2="2"/><line x1="29.4" y1="181.0" x2="29.4" y2="179.0"/><line x1="29.4" y1="0" x2="29.4" y2="2"/><line x1="39.8" y1="181.0" x2="39.8" y2="179.0"/><line x1="39.8" y1="0" x2="39.8" y2="2"/><line x1="50.2" y1="181.0" x2="50.2" y2="177.0"/><line x1="50.2" y1="0" x2="50.2" y2="4"/><line x1="60.6" y1="181.0" x2="60.6" y2="179.0"/><line x1="60.6" y1="0" x2="60.6" y2="2"/><line x1="71.0" y1="181.0" x2="71.0" y2="179.0"/><line x1="71.0" y1="0" x2="71.0" y2="2"/><line x1="81.4" y1="181.0" x2="81.4" y2="179.0"/><line x1="81.4" y1="0" x2="81.4" y2="2"/><line x1="91.8" y1="181.0" x2="91.8" y2="179.0"/><line x1="91.8" y1="0" x2="91.8" y2="2"/><line x1="102.2" y1="181.0" x2="102.2" y2="177.0"/><line x1="102.2" y1="0" x2="102.2" y2="4"/><line x1="112.6" y1="181.0" x2="112.6" y2="179.0"/><line x1="112.6" y1="0" x2="112.6" y2="2"/><line x1="123.0" y1="181.0" x2="123.0" y2="179.0"/><line x1="123.0" y1="0" x2="123.0" y2="2"/><line x1="133.4" y1="181.0" x2="133.4" y2="179.0"/><line x1="133.4" y1="0" x2="133.4" y2="2"/><line x1="143.8" y1="181.0" x2="143.8" y2="179.0"/><line x1="143.8" y1="0" x2="143.8" y2="2"/><line x1="154.2" y1="181.0" x2="154.2" y2="177.0"/><line x1="154.2" y1="0" x2="154.2" y2="4"/><line x1="164.6" y1="181.0" x2="164.6" y2="179.0"/><line x1="164.6" y1="0" x2="164.6" y2="2"/><line x1="175.0" y1="181.0" x2="175.0" y2="179.0"/><line x1="175.0" y1="0" x2="175.0" y2="2"/><line x1="185.4" y1="181.0" x2="185.4" y2="179.0"/><line x1="185.4" y1="0" x2="185.4" y2="2"/><line x1="195.8" y1="181.0" x2="195.8" y2="179.0"/><line x1="195.8" y1="0" x2="195.8" y2="2"/><line x1="206.2" y1="181.0" x2="206.2" y2="177.0"/><line x1="206.2" y1="0" x2="206.2" y2="4"/><line x1="0" y1="10.3" x2="2" y2="10.3"/><line x1="208.0" y1="10.3" x2="206.0" y2="10.3"/><line x1="0" y1="20.5" x2="2" y2="20.5"/><line x1="208.0" y1="20.5" x2="206.0" y2="20.5"/><line x1="0" y1="30.8" x2="2" y2="30.8"/><line x1="208.0" y1="30.8" x2="206.0" y2="30.8"/><line x1="0" y1="41.0" x2="2" y2="41.0"/><line x1="208.0" y1="41.0" x2="206.0" y2="41.0"/><line x1="0" y1="51.3" x2="4" y2="51.3"/><line x1="208.0" y1="51.3" x2="204.0" y2="51.3"/><line x1="0" y1="61.6" x2="2" y2="61.6"/><line x1="208.0" y1="61.6" x2="206.0" y2="61.6"/><line x1="0" y1="71.8" x2="2" y2="71.8"/><line x1="208.0" y1="71.8" x2="206.0" y2="71.8"/><line x1="0" y1="82.1" x2="2" y2="82.1"/><line x1="208.0" y1="82.1" x2="206.0" y2="82.1"/><line x1="0" y1="92.3" x2="2" y2="92.3"/><line x1="208.0" y1="92.3" x2="206.0" y2="92.3"/><line x1="0" y1="102.6" x2="4" y2="102.6"/><line x1="208.0" y1="102.6" x2="204.0" y2="102.6"/><line x1="0" y1="112.9" x2="2" y2="112.9"/><line x1="208.0" y1="112.9" x2="206.0" y2="112.9"/><line x1="0" y1="123.1" x2="2" y2="123.1"/><line x1="208.0" y1="123.1" x2="206.0" y2="123.1"/><line x1="0" y1="133.4" x2="2" y2="133.4"/><line x1="208.0" y1="133.4" x2="206.0" y2="133.4"/><line x1="0" y1="143.6" x2="2" y2="143.6"/><line x1="208.0" y1="143.6" x2="206.0" y2="143.6"/><line x1="0" y1="153.9" x2="4" y2="153.9"/><line x1="208.0" y1="153.9" x2="204.0" y2="153.9"/><line x1="0" y1="164.2" x2="2" y2="164.2"/><line x1="208.0" y1="164.2" x2="206.0" y2="164.2"/><line x1="0" y1="174.4" x2="2" y2="174.4"/><line x1="208.0" y1="174.4" x2="206.0" y2="174.4"/></g><rect x="0.4" y="0.4" width="207.2" height="180.2" fill="none" stroke="#999" stroke-width="1"/></svg>
</div>
<div class="title" style="left:244.10000000000002px;top:674.1999999999999px;font-size:11.75px;">Absolute vertical magnetic shear change <i class='dl'>&delta;</i><i class='dl'>|</i>S<sub>v</sub><i class='dl'>|</i></div>
<div class="yl" style="left:300.3px;top:685.8px">-7.5</div>
<div class="yl" style="left:300.3px;top:737.0px">-8.0</div>
<div class="yl" style="left:300.3px;top:788.1999999999999px">-8.5</div>
<div class="yl" style="left:300.3px;top:839.4px">-9.0</div>
<div class="xl" style="left:371.5px;top:873.0999999999999px">32.0</div>
<div class="xl" style="left:423.4px;top:873.0999999999999px">32.5</div>
<div class="xl" style="left:475.3px;top:873.0999999999999px">33.0</div>
<div class="xl" style="left:527.2px;top:873.0999999999999px">33.5</div>
<div class="lat" style="left:-35.4px;top:97.5px">Latitude (deg)</div>
<div class="lat" style="left:-35.4px;top:323.1px">Latitude (deg)</div>
<div class="lat" style="left:-35.4px;top:547.9px">Latitude (deg)</div>
<div class="lat" style="left:-35.4px;top:772.3px">Latitude (deg)</div>
<div class="cmd" style="left:86.5px;top:881.8px">CMD (deg)</div>
<div class="cmd" style="left:394.8px;top:881.8px">CMD (deg)</div>
</body></html>
